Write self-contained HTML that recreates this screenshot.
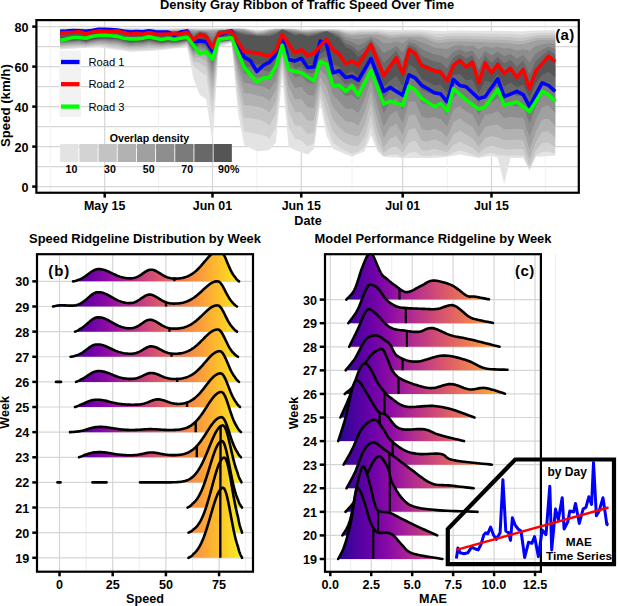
<!DOCTYPE html><html><head><meta charset="utf-8"><style>html,body{margin:0;padding:0;background:#fff;width:618px;height:606px;overflow:hidden}</style></head><body><svg width="618" height="606" viewBox="0 0 618 606" style="display:block">
<defs><linearGradient id="gb" gradientUnits="userSpaceOnUse" x1="50" y1="0" x2="245" y2="0"><stop offset="0.00" stop-color="#0d0887"/><stop offset="0.10" stop-color="#41049d"/><stop offset="0.20" stop-color="#6a00a8"/><stop offset="0.30" stop-color="#8f0da4"/><stop offset="0.40" stop-color="#b12a90"/><stop offset="0.50" stop-color="#cc4778"/><stop offset="0.60" stop-color="#e16462"/><stop offset="0.70" stop-color="#f2844b"/><stop offset="0.80" stop-color="#fca636"/><stop offset="0.90" stop-color="#fcce25"/><stop offset="1.00" stop-color="#f0f921"/></linearGradient><linearGradient id="gc" gradientUnits="userSpaceOnUse" x1="330" y1="0" x2="535" y2="0"><stop offset="0.00" stop-color="#0d0887"/><stop offset="0.10" stop-color="#41049d"/><stop offset="0.20" stop-color="#6a00a8"/><stop offset="0.30" stop-color="#8f0da4"/><stop offset="0.40" stop-color="#b12a90"/><stop offset="0.50" stop-color="#cc4778"/><stop offset="0.60" stop-color="#e16462"/><stop offset="0.70" stop-color="#f2844b"/><stop offset="0.80" stop-color="#fca636"/><stop offset="0.90" stop-color="#fcce25"/><stop offset="1.00" stop-color="#f0f921"/></linearGradient><clipPath id="ca"><rect x="36.4" y="20.1" width="542.4" height="172.65"/></clipPath><clipPath id="cb"><rect x="37.6" y="254.3" width="215.5" height="317.3"/></clipPath><clipPath id="cc"><rect x="325.4" y="254.3" width="215.4" height="317.2"/></clipPath></defs>
<rect width="618" height="606" fill="#fff"/>
<line x1="36.4" x2="578.8" y1="166.6" y2="166.6" stroke="#d6d6d6" stroke-width="1.2"/>
<line x1="36.4" x2="578.8" y1="126.6" y2="126.6" stroke="#d6d6d6" stroke-width="1.2"/>
<line x1="36.4" x2="578.8" y1="86.6" y2="86.6" stroke="#d6d6d6" stroke-width="1.2"/>
<line x1="36.4" x2="578.8" y1="46.599999999999994" y2="46.599999999999994" stroke="#d6d6d6" stroke-width="1.2"/>
<line x1="50.3" x2="50.3" y1="20.1" y2="192.75" stroke="#f0f0f0" stroke-width="0.9"/>
<line x1="158.5" x2="158.5" y1="20.1" y2="192.75" stroke="#f0f0f0" stroke-width="0.9"/>
<line x1="256.9" x2="256.9" y1="20.1" y2="192.75" stroke="#f0f0f0" stroke-width="0.9"/>
<line x1="352.1" x2="352.1" y1="20.1" y2="192.75" stroke="#f0f0f0" stroke-width="0.9"/>
<line x1="447.4" x2="447.4" y1="20.1" y2="192.75" stroke="#f0f0f0" stroke-width="0.9"/>
<line x1="545.3" x2="545.3" y1="20.1" y2="192.75" stroke="#f0f0f0" stroke-width="0.9"/>
<line x1="36.4" x2="578.8" y1="186.6" y2="186.6" stroke="#d6d6d6" stroke-width="1.2"/>
<line x1="36.4" x2="578.8" y1="146.6" y2="146.6" stroke="#d6d6d6" stroke-width="1.2"/>
<line x1="36.4" x2="578.8" y1="106.6" y2="106.6" stroke="#d6d6d6" stroke-width="1.2"/>
<line x1="36.4" x2="578.8" y1="66.6" y2="66.6" stroke="#d6d6d6" stroke-width="1.2"/>
<line x1="36.4" x2="578.8" y1="26.599999999999994" y2="26.599999999999994" stroke="#d6d6d6" stroke-width="1.2"/>
<line x1="104.72" x2="104.72" y1="20.1" y2="192.75" stroke="#d6d6d6" stroke-width="1.2"/>
<line x1="212.5" x2="212.5" y1="20.1" y2="192.75" stroke="#d6d6d6" stroke-width="1.2"/>
<line x1="301.26" x2="301.26" y1="20.1" y2="192.75" stroke="#d6d6d6" stroke-width="1.2"/>
<line x1="402.7" x2="402.7" y1="20.1" y2="192.75" stroke="#d6d6d6" stroke-width="1.2"/>
<line x1="491.46" x2="491.46" y1="20.1" y2="192.75" stroke="#d6d6d6" stroke-width="1.2"/>
<g clip-path="url(#ca)">
<path d="M60.2,28.33 L66.68,28.31 L73.02,28.3 L79.36,28.29 L85.7,28.25 L92.04,28.23 L98.38,27.8 L104.72,27.9 L111.06,28 L117.4,28.22 L123.74,28.22 L130.08,28.25 L136.42,28.33 L142.76,28.37 L149.1,28.37 L155.44,28.37 L161.78,28.39 L168.12,28.41 L174.46,28.36 L180.8,28.33 L187.14,28.33 L193.48,28.33 L199.82,28.35 L206.16,28.38 L212.5,28.36 L218.84,28.32 L225.18,28.31 L231.52,28.31 L237.86,28.31 L244.2,28.51 L250.54,29.1 L256.88,29.67 L263.22,29.5 L269.56,28.84 L275.9,28.52 L282.24,28.52 L288.58,28.52 L294.92,28.7 L301.26,29.12 L307.6,29.26 L313.94,29.03 L320.28,28.89 L326.62,28.89 L332.96,28.89 L339.3,29.1 L345.64,29.62 L351.98,29.82 L358.32,29.52 L364.66,29.32 L371,29.32 L377.34,29.32 L383.68,29.58 L390.02,29.95 L396.36,29.9 L402.7,29.74 L409.04,29.74 L415.38,29.74 L421.72,29.82 L428.06,30.22 L434.4,30.77 L440.74,30.9 L447.08,30.7 L453.42,30.59 L459.76,30.59 L466.1,30.59 L472.44,30.63 L478.78,30.71 L485.12,30.76 L491.46,30.79 L497.8,30.83 L504.14,30.88 L510.48,30.98 L516.82,31.14 L523.16,31.13 L529.5,30.8 L535.84,30.42 L542.18,30.27 L548.52,30.27 L555.2,30.27 L555.2,155.7 L548.52,156.07 L542.18,156.43 L535.84,156.8 L529.5,170.4 L523.16,158 L516.82,158 L510.48,158 L504.14,184 L497.8,158 L491.46,155.7 L485.12,156.85 L478.78,158 L472.44,156.87 L466.1,155.73 L459.76,154.6 L453.42,155.7 L447.08,156.8 L440.74,157.4 L434.4,158 L428.06,158 L421.72,158 L415.38,158 L409.04,158 L402.7,158 L396.36,157.6 L390.02,157.2 L383.68,156.8 L377.34,151.2 L371,135.3 L364.66,151.2 L358.32,154 L351.98,156.8 L345.64,154.17 L339.3,151.53 L332.96,148.9 L326.62,136 L320.28,103 L313.94,148.9 L307.6,154.6 L301.26,152.3 L294.92,150 L288.58,146.6 L282.24,76.5 L275.9,142.4 L269.56,150 L263.22,150.65 L256.88,151.3 L250.54,148.15 L244.2,145 L237.86,111.6 L231.52,42.6 L225.18,45.15 L218.84,47.7 L212.5,142.4 L206.16,98.9 L199.82,95 L193.48,78.4 L187.14,47.2 L180.8,47.88 L174.46,48.56 L168.12,49.24 L161.78,49.92 L155.44,50.6 L149.1,50.88 L142.76,51.15 L136.42,51.43 L130.08,51.7 L123.74,50.8 L117.4,49.9 L111.06,49 L104.72,48.1 L98.38,47.2 L92.04,47.58 L85.7,47.97 L79.36,48.35 L73.02,48.73 L66.68,49.12 L60.2,49.5Z" fill="#e3e3e3"/>
<path d="M60.2,28.83 L66.68,28.72 L73.02,28.64 L79.36,28.52 L85.7,28.64 L92.04,28.59 L98.38,28.03 L104.72,28.13 L111.06,28.23 L117.4,28.44 L123.74,28.55 L130.08,28.65 L136.42,28.85 L142.76,28.95 L149.1,28.76 L155.44,28.95 L161.78,29.01 L168.12,29.04 L174.46,28.93 L180.8,28.84 L187.14,28.62 L193.48,28.84 L199.82,28.9 L206.16,28.98 L212.5,28.93 L218.84,28.83 L225.18,28.71 L231.52,28.54 L237.86,28.53 L244.2,28.78 L250.54,29.68 L256.88,30.55 L263.22,30.28 L269.56,29.28 L275.9,28.79 L282.24,28.76 L288.58,28.79 L294.92,29.07 L301.26,29.71 L307.6,29.92 L313.94,29.56 L320.28,29.35 L326.62,29.35 L332.96,29.35 L339.3,29.76 L345.64,30.76 L351.98,31.3 L358.32,30.92 L364.66,30.69 L371,30.7 L377.34,30.7 L383.68,31.24 L390.02,32 L396.36,31.89 L402.7,31.57 L409.04,31.57 L415.38,31.57 L421.72,31.73 L428.06,32.54 L434.4,33.67 L440.74,33.94 L447.08,33.51 L453.42,33.3 L459.76,33.3 L466.1,33.3 L472.44,33.38 L478.78,33.53 L485.12,33.64 L491.46,33.7 L497.8,33.78 L504.14,33.89 L510.48,34.1 L516.82,34.43 L523.16,34.4 L529.5,33.73 L535.84,32.94 L542.18,32.65 L548.52,32.65 L555.2,32.65 L555.2,153.39 L548.52,151.69 L542.18,151.88 L535.84,155.26 L529.5,169.6 L523.16,155.62 L516.82,155.26 L510.48,155.72 L504.14,155.49 L497.8,155.11 L491.46,152.65 L485.12,154.34 L478.78,156.99 L472.44,154.44 L466.1,152.27 L459.76,150.18 L453.42,152.51 L447.08,155.94 L440.74,155.63 L434.4,155.36 L428.06,156.15 L421.72,156.07 L415.38,151.7 L409.04,152.71 L402.7,156.92 L396.36,154.23 L390.02,154.7 L383.68,156.25 L377.34,148.1 L371,126.25 L364.66,146.44 L358.32,151.94 L351.98,153.63 L345.64,150.97 L339.3,147.49 L332.96,142.45 L326.62,125.76 L320.28,97.9 L313.94,142.93 L307.6,146.19 L301.26,140.24 L294.92,138.84 L288.58,127.12 L282.24,66.79 L275.9,127.2 L269.56,138.54 L263.22,135.27 L256.88,133.88 L250.54,132.53 L244.2,131.36 L237.86,98.66 L231.52,41.89 L225.18,43.88 L218.84,45.83 L212.5,116.37 L206.16,75.81 L199.82,71.21 L193.48,66.32 L187.14,45.42 L180.8,46.96 L174.46,47.74 L168.12,48.23 L161.78,48.98 L155.44,49.41 L149.1,49.41 L142.76,49.9 L136.42,50.18 L130.08,50.52 L123.74,49.51 L117.4,48.38 L111.06,47.68 L104.72,46.83 L98.38,46.03 L92.04,46.59 L85.7,47.17 L79.36,47.24 L73.02,47.62 L66.68,48.04 L60.2,48.43Z" fill="#d3d3d3"/>
<path d="M60.2,29.32 L66.68,29.13 L73.02,28.98 L79.36,28.75 L85.7,29.03 L92.04,28.94 L98.38,28.25 L104.72,28.35 L111.06,28.45 L117.4,28.67 L123.74,28.89 L130.08,29.05 L136.42,29.36 L142.76,29.52 L149.1,29.16 L155.44,29.52 L161.78,29.62 L168.12,29.68 L174.46,29.5 L180.8,29.36 L187.14,28.91 L193.48,29.36 L199.82,29.45 L206.16,29.58 L212.5,29.51 L218.84,29.34 L225.18,29.1 L231.52,28.77 L237.86,28.75 L244.2,29.04 L250.54,30.26 L256.88,31.42 L263.22,31.07 L269.56,29.71 L275.9,29.06 L282.24,28.99 L288.58,29.06 L294.92,29.44 L301.26,30.29 L307.6,30.58 L313.94,30.1 L320.28,29.82 L326.62,29.82 L332.96,29.82 L339.3,30.41 L345.64,31.9 L351.98,32.79 L358.32,32.33 L364.66,32.06 L371,32.08 L377.34,32.08 L383.68,32.9 L390.02,34.04 L396.36,33.88 L402.7,33.39 L409.04,33.39 L415.38,33.39 L421.72,33.64 L428.06,34.86 L434.4,36.57 L440.74,36.98 L447.08,36.33 L453.42,36.01 L459.76,36.01 L466.1,36.01 L472.44,36.13 L478.78,36.36 L485.12,36.52 L491.46,36.61 L497.8,36.73 L504.14,36.9 L510.48,37.22 L516.82,37.72 L523.16,37.68 L529.5,36.65 L535.84,35.47 L542.18,35.02 L548.52,35.02 L555.2,35.02 L555.2,146.95 L548.52,142.68 L542.18,142.88 L535.84,150.15 L529.5,166 L523.16,149.31 L516.82,148.63 L510.48,149.45 L504.14,149.08 L497.8,147.68 L491.46,145.58 L485.12,147.73 L478.78,153.15 L472.44,147.87 L466.1,144.63 L459.76,141.36 L453.42,144.88 L447.08,152.42 L440.74,150.19 L434.4,148.75 L428.06,150.46 L421.72,150.14 L415.38,140.81 L409.04,142.33 L402.7,152.73 L396.36,146.35 L390.02,148.08 L383.68,153.37 L377.34,140.59 L371,114.63 L364.66,137.04 L358.32,145.91 L351.98,145.77 L345.64,143.4 L339.3,138.76 L332.96,131.83 L326.62,113.03 L320.28,91.01 L313.94,132.63 L307.6,133.96 L301.26,126.17 L294.92,125.55 L288.58,111.5 L282.24,60.91 L275.9,113.4 L269.56,125.54 L263.22,121.1 L256.88,119.35 L250.54,118.27 L244.2,117.73 L237.86,88.23 L231.52,41.42 L225.18,43.08 L218.84,44.7 L212.5,101.38 L206.16,66.98 L199.82,62.91 L193.48,61.28 L187.14,44.2 L180.8,45.94 L174.46,46.77 L168.12,47.04 L161.78,47.84 L155.44,48.01 L149.1,47.73 L142.76,48.42 L136.42,48.68 L130.08,49.07 L123.74,47.98 L117.4,46.67 L111.06,46.13 L104.72,45.34 L98.38,44.7 L92.04,45.4 L85.7,46.19 L79.36,45.95 L73.02,46.34 L66.68,46.76 L60.2,47.16Z" fill="#c3c3c3"/>
<path d="M60.2,29.81 L66.68,29.53 L73.02,29.32 L79.36,28.98 L85.7,29.43 L92.04,29.3 L98.38,28.48 L104.72,28.58 L111.06,28.68 L117.4,28.9 L123.74,29.23 L130.08,29.45 L136.42,29.88 L142.76,30.1 L149.1,29.55 L155.44,30.1 L161.78,30.24 L168.12,30.32 L174.46,30.07 L180.8,29.87 L187.14,29.2 L193.48,29.87 L199.82,30 L206.16,30.17 L212.5,30.08 L218.84,29.85 L225.18,29.5 L231.52,28.99 L237.86,28.98 L244.2,29.31 L250.54,30.84 L256.88,32.29 L263.22,31.85 L269.56,30.15 L275.9,29.34 L282.24,29.23 L288.58,29.34 L294.92,29.81 L301.26,30.88 L307.6,31.23 L313.94,30.64 L320.28,30.28 L326.62,30.28 L332.96,30.28 L339.3,31.07 L345.64,33.05 L351.98,34.28 L358.32,33.74 L364.66,33.44 L371,33.46 L377.34,33.46 L383.68,34.55 L390.02,36.08 L396.36,35.87 L402.7,35.21 L409.04,35.21 L415.38,35.21 L421.72,35.54 L428.06,37.18 L434.4,39.47 L440.74,40.01 L447.08,39.15 L453.42,38.72 L459.76,38.72 L466.1,38.72 L472.44,38.88 L478.78,39.19 L485.12,39.41 L491.46,39.52 L497.8,39.69 L504.14,39.9 L510.48,40.34 L516.82,41 L523.16,40.95 L529.5,39.58 L535.84,38 L542.18,37.4 L548.52,37.4 L555.2,37.4 L555.2,137.44 L548.52,131.22 L542.18,131.64 L535.84,141.87 L529.5,159.11 L523.16,140.18 L516.82,139.52 L510.48,140.21 L504.14,140.02 L497.8,137.15 L491.46,136.06 L485.12,138.22 L478.78,146.42 L472.44,138.3 L466.1,134.58 L459.76,130.3 L453.42,134.43 L447.08,146.02 L440.74,141.72 L434.4,139.49 L428.06,141.61 L421.72,140.92 L415.38,128.05 L409.04,129.41 L402.7,145.32 L396.36,135.7 L390.02,138.54 L383.68,147.35 L377.34,130.25 L371,102.66 L364.66,125.31 L358.32,136.75 L351.98,134.81 L345.64,133.08 L339.3,127.39 L332.96,119.66 L326.62,100.08 L320.28,83.76 L313.94,120.56 L307.6,120.67 L301.26,112.21 L294.92,112.25 L288.58,97.97 L282.24,56.24 L275.9,100.94 L269.56,112.78 L263.22,108.23 L256.88,106.61 L250.54,105.39 L244.2,104.99 L237.86,79.2 L231.52,41.04 L225.18,42.45 L218.84,43.81 L212.5,89.65 L206.16,60.71 L199.82,57.14 L193.48,57.64 L187.14,43.19 L180.8,44.96 L174.46,45.79 L168.12,45.85 L161.78,46.71 L155.44,46.62 L149.1,46.07 L142.76,46.95 L136.42,47.19 L130.08,47.61 L123.74,46.45 L117.4,44.99 L111.06,44.59 L104.72,43.86 L98.38,43.4 L92.04,44.21 L85.7,45.2 L79.36,44.67 L73.02,45.08 L66.68,45.49 L60.2,45.89Z" fill="#b2b2b2"/>
<path d="M60.2,30.3 L66.68,29.94 L73.02,29.66 L79.36,29.21 L85.7,29.82 L92.04,29.66 L98.38,28.71 L104.72,28.81 L111.06,28.91 L117.4,29.13 L123.74,29.57 L130.08,29.85 L136.42,30.4 L142.76,30.68 L149.1,29.94 L155.44,30.68 L161.78,30.85 L168.12,30.95 L174.46,30.63 L180.8,30.39 L187.14,29.48 L193.48,30.39 L199.82,30.55 L206.16,30.77 L212.5,30.65 L218.84,30.36 L225.18,29.89 L231.52,29.22 L237.86,29.2 L244.2,29.58 L250.54,31.41 L256.88,33.17 L263.22,32.64 L269.56,30.59 L275.9,29.61 L282.24,29.47 L288.58,29.61 L294.92,30.18 L301.26,31.46 L307.6,31.89 L313.94,31.17 L320.28,30.74 L326.62,30.74 L332.96,30.74 L339.3,31.73 L345.64,34.19 L351.98,35.76 L358.32,35.15 L364.66,34.81 L371,34.84 L377.34,34.84 L383.68,36.21 L390.02,38.13 L396.36,37.86 L402.7,37.04 L409.04,37.04 L415.38,37.04 L421.72,37.45 L428.06,39.5 L434.4,42.36 L440.74,43.05 L447.08,41.97 L453.42,41.43 L459.76,41.43 L466.1,41.43 L472.44,41.63 L478.78,42.02 L485.12,42.29 L491.46,42.44 L497.8,42.64 L504.14,42.91 L510.48,43.46 L516.82,44.29 L523.16,44.22 L529.5,42.51 L535.84,40.52 L542.18,39.77 L548.52,39.77 L555.2,39.77 L555.2,125.89 L548.52,118.56 L542.18,119.38 L535.84,131.23 L529.5,149.26 L523.16,129.27 L516.82,128.95 L510.48,129.03 L504.14,129.34 L497.8,124.7 L491.46,125.16 L485.12,126.88 L478.78,137.32 L472.44,126.79 L466.1,123.25 L459.76,118.2 L453.42,122.34 L447.08,137.16 L440.74,131.09 L434.4,128.63 L428.06,130.51 L421.72,129.36 L415.38,114.66 L409.04,115.35 L402.7,135.26 L396.36,123.47 L390.02,127.15 L383.68,138.24 L377.34,118.24 L371,91.06 L364.66,112.52 L358.32,125.46 L351.98,122.01 L345.64,121.19 L339.3,114.66 L332.96,107.06 L326.62,87.63 L320.28,76.64 L313.94,107.89 L307.6,107.37 L301.26,98.99 L294.92,99.6 L288.58,86.2 L282.24,52.38 L275.9,89.8 L269.56,100.79 L263.22,96.69 L256.88,95.43 L250.54,93.86 L244.2,93.36 L237.86,71.32 L231.52,40.73 L225.18,41.92 L218.84,43.08 L212.5,80.03 L206.16,55.88 L199.82,52.73 L193.48,54.79 L187.14,42.34 L180.8,44.04 L174.46,44.85 L168.12,44.73 L161.78,45.62 L155.44,45.3 L149.1,44.51 L142.76,45.55 L136.42,45.76 L130.08,46.21 L123.74,45 L117.4,43.42 L111.06,43.13 L104.72,42.45 L98.38,42.18 L92.04,43.07 L85.7,44.24 L79.36,43.46 L73.02,43.89 L66.68,44.28 L60.2,44.69Z" fill="#a0a0a0"/>
<path d="M60.2,30.5 L66.68,30.1 L73.02,29.8 L79.36,29.3 L85.7,30.2 L92.04,29.8 L98.38,28.8 L104.72,28.9 L111.06,29 L117.4,29.22 L123.74,29.77 L130.08,30.31 L136.42,30.66 L142.76,31.06 L149.1,30.1 L155.44,31.01 L161.78,31.21 L168.12,31.26 L174.46,30.97 L180.8,30.71 L187.14,29.6 L193.48,31.74 L199.82,30.97 L206.16,31.51 L212.5,33.26 L218.84,30.59 L225.18,30.05 L231.52,29.31 L237.86,29.9 L244.2,30.52 L250.54,32.26 L256.88,33.92 L263.22,33.51 L269.56,31.69 L275.9,30.49 L282.24,29.56 L288.58,30.15 L294.92,31.15 L301.26,32.17 L307.6,32.86 L313.94,32.07 L320.28,31.32 L326.62,30.98 L332.96,31.51 L339.3,33.03 L345.64,36.69 L351.98,38.58 L358.32,39.32 L364.66,38.14 L371,36.49 L377.34,39.08 L383.68,42.89 L390.02,43.14 L396.36,41.41 L402.7,43.32 L409.04,39.36 L415.38,40.02 L421.72,42.36 L428.06,44.65 L434.4,47.67 L440.74,48.5 L447.08,48.96 L453.42,45.95 L459.76,45.08 L466.1,46.18 L472.44,45.57 L478.78,49.34 L485.12,46.29 L491.46,48.07 L497.8,46.82 L504.14,48.61 L510.48,48.23 L516.82,50.51 L523.16,49.13 L529.5,50.77 L535.84,46.01 L542.18,44.13 L548.52,42.92 L555.2,43.8 L555.2,113.29 L548.52,105.62 L542.18,106.96 L535.84,119.15 L529.5,137.22 L523.16,117.48 L516.82,117.78 L510.48,116.86 L504.14,117.91 L497.8,111.36 L491.46,113.75 L485.12,114.65 L478.78,126.63 L472.44,114.33 L466.1,111.51 L459.76,105.92 L453.42,109.58 L447.08,126.56 L440.74,119.24 L434.4,117.07 L428.06,118.13 L421.72,116.45 L415.38,101.46 L409.04,101.13 L402.7,123.39 L396.36,110.65 L390.02,114.86 L383.68,126.66 L377.34,105.54 L371,80.24 L364.66,99.57 L358.32,112.99 L351.98,108.39 L345.64,108.68 L339.3,101.53 L332.96,94.75 L326.62,76.08 L320.28,69.95 L313.94,95.41 L307.6,94.68 L301.26,86.87 L294.92,87.95 L288.58,76 L282.24,49.15 L275.9,79.98 L269.56,89.83 L263.22,86.5 L256.88,85.69 L250.54,83.68 L244.2,82.96 L237.86,64.5 L231.52,40.46 L225.18,41.47 L218.84,42.46 L212.5,72.05 L206.16,52.02 L199.82,49.24 L193.48,52.5 L187.14,41.62 L180.8,43.2 L174.46,43.99 L168.12,43.69 L161.78,44.62 L155.44,44.09 L149.1,43.08 L142.76,44.27 L136.42,44.45 L130.08,44.91 L123.74,43.67 L117.4,41.98 L111.06,41.79 L104.72,41.17 L98.38,41.06 L92.04,42.03 L85.7,43.36 L79.36,42.35 L73.02,42.8 L66.68,43.17 L60.2,43.57Z" fill="#8e8e8e"/>
<path d="M60.2,30.5 L66.68,30.1 L73.02,29.8 L79.36,29.3 L85.7,30.56 L92.04,29.8 L98.38,28.8 L104.72,28.9 L111.06,29 L117.4,29.22 L123.74,29.88 L130.08,30.8 L136.42,30.74 L142.76,31.3 L149.1,30.1 L155.44,31.17 L161.78,31.41 L168.12,31.34 L174.46,31.14 L180.8,30.91 L187.14,29.6 L193.48,33.66 L199.82,31.31 L206.16,32.34 L212.5,37.24 L218.84,30.63 L225.18,30.05 L231.52,29.31 L237.86,30.93 L244.2,31.92 L250.54,33.28 L256.88,34.59 L263.22,34.44 L269.56,33.24 L275.9,31.77 L282.24,29.56 L288.58,30.88 L294.92,32.51 L301.26,32.96 L307.6,34.05 L313.94,33.2 L320.28,31.98 L326.62,31.05 L332.96,32.46 L339.3,34.75 L345.64,40.09 L351.98,42.29 L358.32,45.33 L364.66,42.78 L371,38.33 L377.34,45.22 L383.68,52.93 L390.02,50.12 L396.36,46.01 L402.7,52.58 L409.04,42 L415.38,43.78 L421.72,49.27 L428.06,51.68 L434.4,54.58 L440.74,55.57 L447.08,58.74 L453.42,51.66 L459.76,49.35 L466.1,52.29 L472.44,50.32 L478.78,59.66 L485.12,51.02 L491.46,55.51 L497.8,51.81 L504.14,56.11 L510.48,54.08 L516.82,58.67 L523.16,55.12 L529.5,62.58 L535.84,53.48 L542.18,49.8 L548.52,46.58 L555.2,48.94 L555.2,100.54 L548.52,93.14 L542.18,95.05 L535.84,106.54 L529.5,123.93 L523.16,105.63 L516.82,106.72 L510.48,104.55 L504.14,106.5 L497.8,98.03 L491.46,102.54 L485.12,102.37 L478.78,115.19 L472.44,101.76 L466.1,100.06 L459.76,94.12 L453.42,96.98 L447.08,115.07 L440.74,107.03 L434.4,105.56 L428.06,105.37 L421.72,103.16 L415.38,89.05 L409.04,87.51 L402.7,110.64 L396.36,98.02 L390.02,102.53 L383.68,113.51 L377.34,92.97 L371,70.47 L364.66,87.14 L358.32,100.26 L351.98,94.86 L345.64,96.33 L339.3,88.76 L332.96,83.27 L326.62,65.71 L320.28,63.86 L313.94,83.68 L307.6,83.04 L301.26,76.06 L294.92,77.54 L288.58,67.28 L282.24,46.47 L275.9,71.48 L269.56,80.1 L263.22,77.65 L256.88,77.33 L250.54,74.87 L244.2,73.85 L237.86,58.66 L231.52,40.23 L225.18,41.1 L218.84,41.95 L212.5,65.43 L206.16,48.92 L199.82,46.46 L193.48,50.65 L187.14,41.01 L180.8,42.46 L174.46,43.22 L168.12,42.77 L161.78,43.72 L155.44,43.01 L149.1,41.81 L142.76,43.12 L136.42,43.27 L130.08,43.75 L123.74,42.49 L117.4,40.71 L111.06,40.59 L104.72,40.02 L98.38,40.07 L92.04,41.09 L85.7,42.57 L79.36,41.36 L73.02,41.83 L66.68,42.18 L60.2,42.58Z" fill="#7b7b7b"/>
<path d="M60.2,30.5 L66.68,30.1 L73.02,29.8 L79.36,29.3 L85.7,30.93 L92.04,29.8 L98.38,28.8 L104.72,28.9 L111.06,29 L117.4,29.22 L123.74,29.99 L130.08,31.3 L136.42,30.82 L142.76,31.55 L149.1,30.1 L155.44,31.34 L161.78,31.6 L168.12,31.42 L174.46,31.32 L180.8,31.1 L187.14,29.6 L193.48,35.58 L199.82,31.66 L206.16,33.17 L212.5,41.22 L218.84,30.66 L225.18,30.05 L231.52,29.31 L237.86,31.95 L244.2,33.32 L250.54,34.3 L256.88,35.25 L263.22,35.37 L269.56,34.78 L275.9,33.05 L282.24,29.56 L288.58,31.61 L294.92,33.88 L301.26,33.75 L307.6,35.23 L313.94,34.34 L320.28,32.63 L326.62,31.13 L332.96,33.42 L339.3,36.47 L345.64,43.48 L351.98,46.01 L358.32,51.35 L364.66,47.43 L371,40.16 L377.34,51.36 L383.68,62.96 L390.02,57.11 L396.36,50.6 L402.7,61.84 L409.04,44.65 L415.38,47.54 L421.72,56.19 L428.06,58.72 L434.4,61.49 L440.74,62.63 L447.08,68.52 L453.42,57.38 L459.76,53.63 L466.1,58.39 L472.44,55.06 L478.78,69.98 L485.12,55.76 L491.46,62.96 L497.8,56.81 L504.14,63.6 L510.48,59.94 L516.82,66.84 L523.16,61.11 L529.5,74.39 L535.84,60.94 L542.18,55.48 L548.52,50.24 L555.2,54.07 L555.2,88.4 L548.52,81.68 L542.18,84.18 L535.84,94.27 L529.5,110.46 L523.16,94.42 L516.82,96.38 L510.48,92.85 L504.14,95.76 L497.8,85.48 L491.46,92.11 L485.12,90.76 L478.78,103.84 L472.44,89.84 L466.1,89.47 L459.76,83.34 L453.42,85.22 L447.08,103.57 L440.74,95.26 L434.4,94.75 L428.06,93.08 L421.72,90.36 L415.38,77.88 L409.04,75.08 L402.7,97.96 L396.36,86.26 L390.02,90.86 L383.68,99.87 L377.34,81.22 L371,61.95 L364.66,75.8 L358.32,88.07 L351.98,82.17 L345.64,84.82 L339.3,76.99 L332.96,72.99 L326.62,56.68 L320.28,58.53 L313.94,73.12 L307.6,72.75 L301.26,66.71 L294.92,68.51 L288.58,59.98 L282.24,44.26 L275.9,64.28 L269.56,71.71 L263.22,70.16 L256.88,70.31 L250.54,67.41 L244.2,66.09 L237.86,53.77 L231.52,40.05 L225.18,40.79 L218.84,41.53 L212.5,60.02 L206.16,46.44 L199.82,44.24 L193.48,49.17 L187.14,40.51 L180.8,41.83 L174.46,42.56 L168.12,41.97 L161.78,42.95 L155.44,42.08 L149.1,40.71 L142.76,42.13 L136.42,42.25 L130.08,42.74 L123.74,41.46 L117.4,39.61 L111.06,39.56 L104.72,39.03 L98.38,39.21 L92.04,40.28 L85.7,41.88 L79.36,40.51 L73.02,41 L66.68,41.32 L60.2,41.72Z" fill="#686868"/>
<path d="M60.2,30.5 L66.68,30.1 L73.02,29.8 L79.36,29.3 L85.7,31.3 L92.04,29.8 L98.38,28.8 L104.72,28.9 L111.06,29 L117.4,29.22 L123.74,30.1 L130.08,31.8 L136.42,30.9 L142.76,31.8 L149.1,30.1 L155.44,31.5 L161.78,31.8 L168.12,31.5 L174.46,31.5 L180.8,31.3 L187.14,29.6 L193.48,37.5 L199.82,32 L206.16,34 L212.5,45.2 L218.84,30.7 L225.18,30.05 L231.52,29.31 L237.86,32.98 L244.2,34.72 L250.54,35.33 L256.88,35.92 L263.22,36.3 L269.56,36.33 L275.9,34.33 L282.24,29.56 L288.58,32.34 L294.92,35.24 L301.26,34.54 L307.6,36.41 L313.94,35.47 L320.28,33.29 L326.62,31.2 L332.96,34.38 L339.3,38.19 L345.64,46.88 L351.98,49.72 L358.32,57.36 L364.66,52.07 L371,42 L377.34,57.5 L383.68,73 L390.02,64.1 L396.36,55.2 L402.7,71.1 L409.04,47.3 L415.38,51.3 L421.72,63.1 L428.06,65.75 L434.4,68.4 L440.74,69.7 L447.08,78.3 L453.42,63.1 L459.76,57.9 L466.1,64.5 L472.44,59.8 L478.78,80.3 L485.12,60.5 L491.46,70.4 L497.8,61.8 L504.14,71.1 L510.48,65.8 L516.82,75 L523.16,67.1 L529.5,86.2 L535.84,68.4 L542.18,61.15 L548.52,53.9 L555.2,59.2 L555.2,77.54 L548.52,71.72 L542.18,74.75 L535.84,83.12 L529.5,97.82 L523.16,84.44 L516.82,87.26 L510.48,82.4 L504.14,86.24 L497.8,74.34 L491.46,82.94 L485.12,80.44 L478.78,93.36 L472.44,79.22 L466.1,80.2 L459.76,73.98 L453.42,74.84 L447.08,92.88 L440.74,84.64 L434.4,85.18 L428.06,81.99 L421.72,78.8 L415.38,68.32 L409.04,64.32 L402.7,86.24 L396.36,75.92 L390.02,80.48 L383.68,86.86 L377.34,70.84 L371,54.82 L364.66,65.97 L358.32,77.12 L351.98,70.94 L345.64,74.68 L339.3,66.7 L332.96,64.22 L326.62,49.14 L320.28,54.05 L313.94,64.08 L307.6,64.06 L301.26,58.94 L294.92,61 L288.58,54.05 L282.24,42.5 L275.9,58.4 L269.56,64.74 L263.22,64.03 L256.88,64.6 L250.54,61.31 L244.2,59.7 L237.86,49.8 L231.52,39.9 L225.18,40.55 L218.84,41.2 L212.5,55.7 L206.16,44.5 L199.82,42.5 L193.48,48 L187.14,40.1 L180.8,41.3 L174.46,42 L168.12,41.3 L161.78,42.3 L155.44,41.3 L149.1,39.8 L142.76,41.3 L136.42,41.4 L130.08,41.9 L123.74,40.6 L117.4,38.7 L111.06,38.7 L104.72,38.2 L98.38,38.5 L92.04,39.6 L85.7,41.3 L79.36,39.8 L73.02,40.3 L66.68,40.6 L60.2,41Z" fill="#555555"/>
</g>
<rect x="59.5" y="50.5" width="21.5" height="66.5" fill="#f2f2f2"/>
<line x1="61" x2="79.5" y1="62" y2="62" stroke="#0000ff" stroke-width="4.3"/>
<text x="88.5" y="66" font-family='"Liberation Sans", sans-serif' font-size="11.2" fill="#000">Road 1</text>
<line x1="61" x2="79.5" y1="84.2" y2="84.2" stroke="#ff0000" stroke-width="4.3"/>
<text x="88.5" y="88.2" font-family='"Liberation Sans", sans-serif' font-size="11.2" fill="#000">Road 2</text>
<line x1="61" x2="79.5" y1="106.6" y2="106.6" stroke="#00ff00" stroke-width="4.3"/>
<text x="88.5" y="110.6" font-family='"Liberation Sans", sans-serif' font-size="11.2" fill="#000">Road 3</text>
<path d="M60.2,31.2 L66.68,31 L73.02,30.6 L79.36,30.8 L85.7,31.2 L92.04,30.5 L98.38,29.3 L104.72,29.4 L111.06,29.5 L117.4,30 L123.74,31.2 L130.08,32.1 L136.42,31.5 L142.76,31.8 L149.1,30.9 L155.44,31.8 L161.78,32 L168.12,32 L174.46,35.5 L180.8,32 L187.14,30.9 L193.48,41.4 L199.82,40.9 L206.16,41.8 L212.5,51 L218.84,35.2 L225.18,33.2 L231.52,31.2 L237.86,44.1 L244.2,57 L250.54,60.9 L256.88,71.5 L263.22,65.5 L269.56,62.2 L275.9,54.3 L282.24,38.5 L288.58,59.6 L294.92,60.9 L301.26,58.3 L307.6,67.5 L313.94,66.9 L320.28,41.1 L326.62,43.8 L332.96,72.8 L339.3,70.8 L345.64,77.4 L351.98,76.2 L358.32,80.2 L364.66,69.3 L371,58.4 L377.34,74.9 L383.68,91.4 L390.02,87.4 L396.36,91.35 L402.7,95.3 L409.04,74.9 L415.38,78.2 L421.72,85.4 L428.06,89.05 L434.4,92.7 L440.74,94 L447.08,102 L453.42,79.5 L459.76,85.4 L466.1,86.8 L472.44,92.7 L478.78,98.6 L485.12,96.7 L491.46,87.75 L497.8,78.8 L504.14,96.7 L510.48,94.05 L516.82,91.4 L523.16,94.7 L529.5,106.5 L535.84,94.65 L542.18,82.8 L548.52,85.4 L555.2,91.4" fill="none" stroke="#0000ff" stroke-width="3.6" stroke-linejoin="round" stroke-linecap="butt" clip-path="url(#ca)"/>
<path d="M60.2,33 L66.68,32.6 L73.02,32.3 L79.36,31.8 L85.7,33.8 L92.04,32.3 L98.38,30.9 L104.72,31.2 L111.06,31.5 L117.4,30.7 L123.74,32.6 L130.08,34.3 L136.42,33.4 L142.76,34.3 L149.1,32.6 L155.44,34 L161.78,34.3 L168.12,34 L174.46,34 L180.8,33.8 L187.14,32.1 L193.48,40 L199.82,34.5 L206.16,36.5 L212.5,47.7 L218.84,33.2 L225.18,32.55 L231.52,31.9 L237.86,41.8 L244.2,51.7 L250.54,52.35 L256.88,53 L263.22,54.65 L269.56,56.3 L275.9,50.4 L282.24,34.5 L288.58,43.75 L294.92,53 L301.26,49.7 L307.6,55.6 L313.94,53 L320.28,46.05 L326.62,39.1 L332.96,49.7 L339.3,54.3 L345.64,63.6 L351.98,60.9 L358.32,65 L364.66,54.75 L371,44.5 L377.34,60 L383.68,75.5 L390.02,66.6 L396.36,57.7 L402.7,73.6 L409.04,49.8 L415.38,53.8 L421.72,65.6 L428.06,68.25 L434.4,70.9 L440.74,72.2 L447.08,80.8 L453.42,65.6 L459.76,60.4 L466.1,67 L472.44,62.3 L478.78,82.8 L485.12,63 L491.46,72.9 L497.8,64.3 L504.14,73.6 L510.48,68.3 L516.82,77.5 L523.16,69.6 L529.5,88.7 L535.84,70.9 L542.18,63.65 L548.52,56.4 L555.2,61.7" fill="none" stroke="#ff0000" stroke-width="3.6" stroke-linejoin="round" stroke-linecap="butt" clip-path="url(#ca)"/>
<path d="M60.2,40.6 L66.68,38.9 L73.02,37.5 L79.36,37.5 L85.7,38.3 L92.04,36.6 L98.38,35.5 L104.72,35.2 L111.06,35.7 L117.4,36.4 L123.74,38.3 L130.08,38.9 L136.42,38.9 L142.76,38.3 L149.1,36.8 L155.44,38.3 L161.78,39.4 L168.12,38.3 L174.46,39.4 L180.8,38.3 L187.14,37.2 L193.48,45.45 L199.82,53.7 L206.16,51.7 L212.5,59 L218.84,39.1 L225.18,38.45 L231.52,37.8 L237.86,52.65 L244.2,67.5 L250.54,74.75 L256.88,82 L263.22,78.1 L269.56,77.4 L275.9,66.2 L282.24,45.1 L288.58,69.5 L294.92,71.5 L301.26,72.8 L307.6,76.75 L313.94,80.7 L320.28,61.6 L326.62,64.2 L332.96,86 L339.3,85.3 L345.64,91.3 L351.98,86 L358.32,95.3 L364.66,82.8 L371,70.3 L377.34,87.1 L383.68,103.9 L390.02,101.3 L396.36,103.25 L402.7,105.2 L409.04,86.1 L415.38,90.1 L421.72,98.6 L428.06,102.6 L434.4,106.6 L440.74,103.3 L447.08,111 L453.42,88.7 L459.76,94.35 L466.1,100 L472.44,104.6 L478.78,109.2 L485.12,106.6 L491.46,98 L497.8,89.4 L504.14,105.2 L510.48,103.55 L516.82,101.9 L523.16,106.7 L529.5,111.5 L535.84,101.45 L542.18,91.4 L548.52,94.7 L555.2,101.3" fill="none" stroke="#00ff00" stroke-width="3.6" stroke-linejoin="round" stroke-linecap="butt" clip-path="url(#ca)"/>
<text x="149.5" y="141.5" text-anchor="middle" font-family='"Liberation Sans", sans-serif' font-weight="bold" font-size="10.6">Overlap density</text>
<rect x="60.20" y="144" width="18.3" height="18" fill="#e3e3e3"/>
<rect x="79.37" y="144" width="18.3" height="18" fill="#d3d3d3"/>
<rect x="98.54" y="144" width="18.3" height="18" fill="#c3c3c3"/>
<rect x="117.71" y="144" width="18.3" height="18" fill="#b2b2b2"/>
<rect x="136.88" y="144" width="18.3" height="18" fill="#a0a0a0"/>
<rect x="156.05" y="144" width="18.3" height="18" fill="#8e8e8e"/>
<rect x="175.22" y="144" width="18.3" height="18" fill="#7b7b7b"/>
<rect x="194.39" y="144" width="18.3" height="18" fill="#686868"/>
<rect x="213.56" y="144" width="18.3" height="18" fill="#555555"/>
<text x="71.4" y="172.8" text-anchor="middle" font-family='"Liberation Sans", sans-serif' font-weight="bold" font-size="10.6">10</text>
<text x="110" y="172.8" text-anchor="middle" font-family='"Liberation Sans", sans-serif' font-weight="bold" font-size="10.6">30</text>
<text x="148.7" y="172.8" text-anchor="middle" font-family='"Liberation Sans", sans-serif' font-weight="bold" font-size="10.6">50</text>
<text x="187.2" y="172.8" text-anchor="middle" font-family='"Liberation Sans", sans-serif' font-weight="bold" font-size="10.6">70</text>
<text x="228.7" y="172.8" text-anchor="middle" font-family='"Liberation Sans", sans-serif' font-weight="bold" font-size="10.6">90%</text>
<rect x="36.4" y="20.1" width="542.4" height="172.65" fill="none" stroke="#000" stroke-width="2.2"/>
<line x1="32.2" x2="36.4" y1="186.6" y2="186.6" stroke="#000" stroke-width="2.5"/>
<text x="28.4" y="191.6" text-anchor="end" font-family='"Liberation Sans", sans-serif' font-weight="bold" font-size="12.6">0</text>
<line x1="32.2" x2="36.4" y1="146.6" y2="146.6" stroke="#000" stroke-width="2.5"/>
<text x="28.4" y="151.6" text-anchor="end" font-family='"Liberation Sans", sans-serif' font-weight="bold" font-size="12.6">20</text>
<line x1="32.2" x2="36.4" y1="106.6" y2="106.6" stroke="#000" stroke-width="2.5"/>
<text x="28.4" y="111.6" text-anchor="end" font-family='"Liberation Sans", sans-serif' font-weight="bold" font-size="12.6">40</text>
<line x1="32.2" x2="36.4" y1="66.6" y2="66.6" stroke="#000" stroke-width="2.5"/>
<text x="28.4" y="71.6" text-anchor="end" font-family='"Liberation Sans", sans-serif' font-weight="bold" font-size="12.6">60</text>
<line x1="32.2" x2="36.4" y1="26.599999999999994" y2="26.599999999999994" stroke="#000" stroke-width="2.5"/>
<text x="28.4" y="31.599999999999994" text-anchor="end" font-family='"Liberation Sans", sans-serif' font-weight="bold" font-size="12.6">80</text>
<line x1="104.72" x2="104.72" y1="192.75" y2="197.6" stroke="#000" stroke-width="2.5"/>
<text x="104.72" y="209.9" text-anchor="middle" font-family='"Liberation Sans", sans-serif' font-weight="bold" font-size="12.4">May 15</text>
<line x1="212.5" x2="212.5" y1="192.75" y2="197.6" stroke="#000" stroke-width="2.5"/>
<text x="212.5" y="209.9" text-anchor="middle" font-family='"Liberation Sans", sans-serif' font-weight="bold" font-size="12.4">Jun 01</text>
<line x1="301.26" x2="301.26" y1="192.75" y2="197.6" stroke="#000" stroke-width="2.5"/>
<text x="301.26" y="209.9" text-anchor="middle" font-family='"Liberation Sans", sans-serif' font-weight="bold" font-size="12.4">Jun 15</text>
<line x1="402.7" x2="402.7" y1="192.75" y2="197.6" stroke="#000" stroke-width="2.5"/>
<text x="402.7" y="209.9" text-anchor="middle" font-family='"Liberation Sans", sans-serif' font-weight="bold" font-size="12.4">Jul 01</text>
<line x1="491.46" x2="491.46" y1="192.75" y2="197.6" stroke="#000" stroke-width="2.5"/>
<text x="491.46" y="209.9" text-anchor="middle" font-family='"Liberation Sans", sans-serif' font-weight="bold" font-size="12.4">Jul 15</text>
<text x="308" y="224.8" text-anchor="middle" font-family='"Liberation Sans", sans-serif' font-weight="bold" font-size="12.6">Date</text>
<text transform="translate(9.6,105.6) rotate(-90)" text-anchor="middle" font-family='"Liberation Sans", sans-serif' font-weight="bold" font-size="13.2">Speed (km/h)</text>
<text x="307" y="8.5" text-anchor="middle" font-family='"Liberation Sans", sans-serif' font-weight="bold" font-size="12.9">Density Gray Ribbon of Traffic Speed Over Time</text>
<text x="555.2" y="40" font-family='"Liberation Sans", sans-serif' font-weight="bold" font-size="15" letter-spacing="0.4">(a)</text>
<line x1="86.10" x2="86.10" y1="254.2" y2="571.7" stroke="#e9e9e9" stroke-width="0.8"/>
<line x1="139.30" x2="139.30" y1="254.2" y2="571.7" stroke="#e9e9e9" stroke-width="0.8"/>
<line x1="192.50" x2="192.50" y1="254.2" y2="571.7" stroke="#e9e9e9" stroke-width="0.8"/>
<line x1="245.70" x2="245.70" y1="254.2" y2="571.7" stroke="#e9e9e9" stroke-width="0.8"/>
<line x1="59.50" x2="59.50" y1="254.2" y2="571.7" stroke="#d6d6d6" stroke-width="1.2"/>
<line x1="112.70" x2="112.70" y1="254.2" y2="571.7" stroke="#d6d6d6" stroke-width="1.2"/>
<line x1="165.90" x2="165.90" y1="254.2" y2="571.7" stroke="#d6d6d6" stroke-width="1.2"/>
<line x1="219.10" x2="219.10" y1="254.2" y2="571.7" stroke="#d6d6d6" stroke-width="1.2"/>
<line x1="37.0" x2="253.0" y1="557.80" y2="557.80" stroke="#d6d6d6" stroke-width="1.2"/>
<line x1="37.0" x2="253.0" y1="532.67" y2="532.67" stroke="#d6d6d6" stroke-width="1.2"/>
<line x1="37.0" x2="253.0" y1="507.54" y2="507.54" stroke="#d6d6d6" stroke-width="1.2"/>
<line x1="37.0" x2="253.0" y1="482.41" y2="482.41" stroke="#d6d6d6" stroke-width="1.2"/>
<line x1="37.0" x2="253.0" y1="457.28" y2="457.28" stroke="#d6d6d6" stroke-width="1.2"/>
<line x1="37.0" x2="253.0" y1="432.15" y2="432.15" stroke="#d6d6d6" stroke-width="1.2"/>
<line x1="37.0" x2="253.0" y1="407.02" y2="407.02" stroke="#d6d6d6" stroke-width="1.2"/>
<line x1="37.0" x2="253.0" y1="381.89" y2="381.89" stroke="#d6d6d6" stroke-width="1.2"/>
<line x1="37.0" x2="253.0" y1="356.76" y2="356.76" stroke="#d6d6d6" stroke-width="1.2"/>
<line x1="37.0" x2="253.0" y1="331.63" y2="331.63" stroke="#d6d6d6" stroke-width="1.2"/>
<line x1="37.0" x2="253.0" y1="306.50" y2="306.50" stroke="#d6d6d6" stroke-width="1.2"/>
<line x1="37.0" x2="253.0" y1="281.37" y2="281.37" stroke="#d6d6d6" stroke-width="1.2"/>
<g clip-path="url(#cb)">
<path d="M73,281.37 L73,281.37 L74.04,281.18 L75.09,280.98 L76.13,280.7 L77.18,280.33 L78.22,279.88 L79.26,279.52 L80.31,279.1 L81.35,278.62 L82.4,278.07 L83.44,277.47 L84.48,276.8 L85.53,276.09 L86.57,275.33 L87.62,274.55 L88.66,273.75 L89.7,272.97 L90.75,272.21 L91.79,271.49 L92.84,270.84 L93.88,270.28 L94.92,269.82 L95.97,269.47 L97.01,269.25 L98.06,269.15 L99.1,269.12 L100.14,269.15 L101.19,269.26 L102.23,269.43 L103.28,269.66 L104.32,269.95 L105.36,270.29 L106.41,270.68 L107.45,271.1 L108.5,271.56 L109.54,272.05 L110.58,272.55 L111.63,273.06 L112.67,273.56 L113.72,274.06 L114.76,274.55 L115.81,275.02 L116.85,275.47 L117.89,275.89 L118.94,276.28 L119.98,276.64 L121.03,276.97 L122.07,277.26 L123.11,277.53 L124.16,277.75 L125.2,277.95 L126.25,278.11 L127.29,278.23 L128.33,278.32 L129.38,278.36 L130.42,278.36 L131.47,278.32 L132.51,278.21 L133.55,278.05 L134.6,277.82 L135.64,277.51 L136.69,277.13 L137.73,276.68 L138.77,276.14 L139.82,275.54 L140.86,274.87 L141.91,274.16 L142.95,273.42 L143.99,272.68 L145.04,271.96 L146.08,271.3 L147.13,270.72 L148.17,270.24 L149.21,269.9 L150.26,269.71 L151.3,269.68 L152.35,269.78 L153.39,270 L154.43,270.34 L155.48,270.78 L156.52,271.3 L157.57,271.89 L158.61,272.53 L159.65,273.19 L160.7,273.86 L161.74,274.51 L162.79,275.14 L163.83,275.72 L164.87,276.26 L165.92,276.74 L166.96,277.17 L168.01,277.53 L169.05,277.84 L170.09,278.08 L171.14,278.28 L172.18,278.43 L173.23,278.53 L174.27,278.59 L175.31,278.61 L176.36,278.6 L177.4,278.56 L178.45,278.49 L179.49,278.38 L180.53,278.24 L181.58,278.07 L182.62,277.87 L183.67,277.62 L184.71,277.34 L185.75,277.01 L186.8,276.64 L187.84,276.22 L188.89,275.74 L189.93,275.21 L190.97,274.62 L192.02,273.97 L193.06,273.26 L194.11,272.49 L195.15,271.64 L196.19,270.74 L197.24,269.78 L198.28,268.75 L199.33,267.67 L200.37,266.55 L201.42,265.38 L202.46,264.18 L203.5,262.95 L204.55,261.71 L205.59,260.47 L206.64,259.24 L207.68,258.04 L208.72,256.87 L209.77,255.75 L210.81,254.71 L211.86,253.74 L212.9,252.86 L213.94,252.1 L214.99,251.45 L216.03,250.93 L217.08,250.54 L218.12,250.29 L219.16,250.19 L220.21,250.33 L221.25,251 L222.3,252.17 L223.34,253.79 L224.38,255.79 L225.43,258.06 L226.47,260.5 L227.52,263.02 L228.56,265.52 L229.6,267.92 L230.65,270.16 L231.69,272.19 L232.74,273.99 L233.78,275.54 L234.82,276.84 L235.87,278.39 L236.91,279.62 L237.96,280.52 L239,281.37 L239,281.37Z" fill="url(#gb)"/>
<path d="M73,281.37 L74.04,281.18 L75.09,280.98 L76.13,280.7 L77.18,280.33 L78.22,279.88 L79.26,279.52 L80.31,279.1 L81.35,278.62 L82.4,278.07 L83.44,277.47 L84.48,276.8 L85.53,276.09 L86.57,275.33 L87.62,274.55 L88.66,273.75 L89.7,272.97 L90.75,272.21 L91.79,271.49 L92.84,270.84 L93.88,270.28 L94.92,269.82 L95.97,269.47 L97.01,269.25 L98.06,269.15 L99.1,269.12 L100.14,269.15 L101.19,269.26 L102.23,269.43 L103.28,269.66 L104.32,269.95 L105.36,270.29 L106.41,270.68 L107.45,271.1 L108.5,271.56 L109.54,272.05 L110.58,272.55 L111.63,273.06 L112.67,273.56 L113.72,274.06 L114.76,274.55 L115.81,275.02 L116.85,275.47 L117.89,275.89 L118.94,276.28 L119.98,276.64 L121.03,276.97 L122.07,277.26 L123.11,277.53 L124.16,277.75 L125.2,277.95 L126.25,278.11 L127.29,278.23 L128.33,278.32 L129.38,278.36 L130.42,278.36 L131.47,278.32 L132.51,278.21 L133.55,278.05 L134.6,277.82 L135.64,277.51 L136.69,277.13 L137.73,276.68 L138.77,276.14 L139.82,275.54 L140.86,274.87 L141.91,274.16 L142.95,273.42 L143.99,272.68 L145.04,271.96 L146.08,271.3 L147.13,270.72 L148.17,270.24 L149.21,269.9 L150.26,269.71 L151.3,269.68 L152.35,269.78 L153.39,270 L154.43,270.34 L155.48,270.78 L156.52,271.3 L157.57,271.89 L158.61,272.53 L159.65,273.19 L160.7,273.86 L161.74,274.51 L162.79,275.14 L163.83,275.72 L164.87,276.26 L165.92,276.74 L166.96,277.17 L168.01,277.53 L169.05,277.84 L170.09,278.08 L171.14,278.28 L172.18,278.43 L173.23,278.53 L174.27,278.59 L175.31,278.61 L176.36,278.6 L177.4,278.56 L178.45,278.49 L179.49,278.38 L180.53,278.24 L181.58,278.07 L182.62,277.87 L183.67,277.62 L184.71,277.34 L185.75,277.01 L186.8,276.64 L187.84,276.22 L188.89,275.74 L189.93,275.21 L190.97,274.62 L192.02,273.97 L193.06,273.26 L194.11,272.49 L195.15,271.64 L196.19,270.74 L197.24,269.78 L198.28,268.75 L199.33,267.67 L200.37,266.55 L201.42,265.38 L202.46,264.18 L203.5,262.95 L204.55,261.71 L205.59,260.47 L206.64,259.24 L207.68,258.04 L208.72,256.87 L209.77,255.75 L210.81,254.71 L211.86,253.74 L212.9,252.86 L213.94,252.1 L214.99,251.45 L216.03,250.93 L217.08,250.54 L218.12,250.29 L219.16,250.19 L220.21,250.33 L221.25,251 L222.3,252.17 L223.34,253.79 L224.38,255.79 L225.43,258.06 L226.47,260.5 L227.52,263.02 L228.56,265.52 L229.6,267.92 L230.65,270.16 L231.69,272.19 L232.74,273.99 L233.78,275.54 L234.82,276.84 L235.87,278.39 L236.91,279.62 L237.96,280.52 L239,281.37" fill="none" stroke="#000" stroke-width="2.6" stroke-linejoin="round" stroke-linecap="round"/>
<line x1="174.4" x2="174.4" y1="281.37" y2="277.27" stroke="#000" stroke-width="2.4"/>
<path d="M53,306.5 L53,306.5 L54.16,306.27 L55.31,306.06 L56.47,305.82 L57.63,305.56 L58.79,305.42 L59.94,305.34 L61.1,305.3 L62.26,305.28 L63.42,305.3 L64.57,305.34 L65.73,305.4 L66.89,305.47 L68.04,305.55 L69.2,305.61 L70.36,305.66 L71.52,305.67 L72.67,305.63 L73.83,305.55 L74.99,305.4 L76.14,305.17 L77.3,304.86 L78.46,304.47 L79.62,303.98 L80.77,303.4 L81.93,302.72 L83.09,301.95 L84.25,301.09 L85.4,300.15 L86.56,299.17 L87.72,298.14 L88.87,297.12 L90.03,296.11 L91.19,295.16 L92.35,294.3 L93.5,293.56 L94.66,292.96 L95.82,292.53 L96.97,292.28 L98.13,292.19 L99.29,292.2 L100.45,292.3 L101.6,292.5 L102.76,292.79 L103.92,293.17 L105.08,293.62 L106.23,294.14 L107.39,294.71 L108.55,295.33 L109.7,295.97 L110.86,296.63 L112.02,297.3 L113.18,297.96 L114.33,298.6 L115.49,299.21 L116.65,299.79 L117.81,300.34 L118.96,300.84 L120.12,301.29 L121.28,301.69 L122.43,302.05 L123.59,302.36 L124.75,302.61 L125.91,302.82 L127.06,302.96 L128.22,303.05 L129.38,303.08 L130.53,303.03 L131.69,302.91 L132.85,302.7 L134.01,302.4 L135.16,302.01 L136.32,301.51 L137.48,300.92 L138.64,300.24 L139.79,299.49 L140.95,298.69 L142.11,297.87 L143.26,297.07 L144.42,296.32 L145.58,295.66 L146.74,295.14 L147.89,294.79 L149.05,294.61 L150.21,294.63 L151.36,294.8 L152.52,295.12 L153.68,295.57 L154.84,296.14 L155.99,296.78 L157.15,297.48 L158.31,298.22 L159.47,298.95 L160.62,299.67 L161.78,300.35 L162.94,300.97 L164.09,301.53 L165.25,302.02 L166.41,302.44 L167.57,302.78 L168.72,303.05 L169.88,303.26 L171.04,303.42 L172.19,303.52 L173.35,303.58 L174.51,303.59 L175.67,303.57 L176.82,303.51 L177.98,303.42 L179.14,303.29 L180.3,303.13 L181.45,302.93 L182.61,302.69 L183.77,302.41 L184.92,302.08 L186.08,301.71 L187.24,301.28 L188.4,300.8 L189.55,300.26 L190.71,299.66 L191.87,299 L193.03,298.27 L194.18,297.49 L195.34,296.65 L196.5,295.75 L197.65,294.8 L198.81,293.8 L199.97,292.77 L201.13,291.71 L202.28,290.63 L203.44,289.54 L204.6,288.47 L205.75,287.41 L206.91,286.39 L208.07,285.43 L209.23,284.53 L210.38,283.72 L211.54,283 L212.7,282.39 L213.86,281.91 L215.01,281.55 L216.17,281.33 L217.33,281.26 L218.48,281.44 L219.64,282.15 L220.8,283.35 L221.96,284.96 L223.11,286.9 L224.27,289.05 L225.43,291.29 L226.58,293.54 L227.74,295.69 L228.9,297.68 L230.06,299.46 L231.21,301 L232.37,302.3 L233.53,303.61 L234.69,304.84 L235.84,305.72 L237,306.5 L237,306.5Z" fill="url(#gb)"/>
<path d="M53,306.5 L54.16,306.27 L55.31,306.06 L56.47,305.82 L57.63,305.56 L58.79,305.42 L59.94,305.34 L61.1,305.3 L62.26,305.28 L63.42,305.3 L64.57,305.34 L65.73,305.4 L66.89,305.47 L68.04,305.55 L69.2,305.61 L70.36,305.66 L71.52,305.67 L72.67,305.63 L73.83,305.55 L74.99,305.4 L76.14,305.17 L77.3,304.86 L78.46,304.47 L79.62,303.98 L80.77,303.4 L81.93,302.72 L83.09,301.95 L84.25,301.09 L85.4,300.15 L86.56,299.17 L87.72,298.14 L88.87,297.12 L90.03,296.11 L91.19,295.16 L92.35,294.3 L93.5,293.56 L94.66,292.96 L95.82,292.53 L96.97,292.28 L98.13,292.19 L99.29,292.2 L100.45,292.3 L101.6,292.5 L102.76,292.79 L103.92,293.17 L105.08,293.62 L106.23,294.14 L107.39,294.71 L108.55,295.33 L109.7,295.97 L110.86,296.63 L112.02,297.3 L113.18,297.96 L114.33,298.6 L115.49,299.21 L116.65,299.79 L117.81,300.34 L118.96,300.84 L120.12,301.29 L121.28,301.69 L122.43,302.05 L123.59,302.36 L124.75,302.61 L125.91,302.82 L127.06,302.96 L128.22,303.05 L129.38,303.08 L130.53,303.03 L131.69,302.91 L132.85,302.7 L134.01,302.4 L135.16,302.01 L136.32,301.51 L137.48,300.92 L138.64,300.24 L139.79,299.49 L140.95,298.69 L142.11,297.87 L143.26,297.07 L144.42,296.32 L145.58,295.66 L146.74,295.14 L147.89,294.79 L149.05,294.61 L150.21,294.63 L151.36,294.8 L152.52,295.12 L153.68,295.57 L154.84,296.14 L155.99,296.78 L157.15,297.48 L158.31,298.22 L159.47,298.95 L160.62,299.67 L161.78,300.35 L162.94,300.97 L164.09,301.53 L165.25,302.02 L166.41,302.44 L167.57,302.78 L168.72,303.05 L169.88,303.26 L171.04,303.42 L172.19,303.52 L173.35,303.58 L174.51,303.59 L175.67,303.57 L176.82,303.51 L177.98,303.42 L179.14,303.29 L180.3,303.13 L181.45,302.93 L182.61,302.69 L183.77,302.41 L184.92,302.08 L186.08,301.71 L187.24,301.28 L188.4,300.8 L189.55,300.26 L190.71,299.66 L191.87,299 L193.03,298.27 L194.18,297.49 L195.34,296.65 L196.5,295.75 L197.65,294.8 L198.81,293.8 L199.97,292.77 L201.13,291.71 L202.28,290.63 L203.44,289.54 L204.6,288.47 L205.75,287.41 L206.91,286.39 L208.07,285.43 L209.23,284.53 L210.38,283.72 L211.54,283 L212.7,282.39 L213.86,281.91 L215.01,281.55 L216.17,281.33 L217.33,281.26 L218.48,281.44 L219.64,282.15 L220.8,283.35 L221.96,284.96 L223.11,286.9 L224.27,289.05 L225.43,291.29 L226.58,293.54 L227.74,295.69 L228.9,297.68 L230.06,299.46 L231.21,301 L232.37,302.3 L233.53,303.61 L234.69,304.84 L235.84,305.72 L237,306.5" fill="none" stroke="#000" stroke-width="2.6" stroke-linejoin="round" stroke-linecap="round"/>
<line x1="166" x2="166" y1="306.50" y2="301.69" stroke="#000" stroke-width="2.4"/>
<path d="M75,331.63 L75,331.63 L76.02,331.26 L77.04,330.86 L78.06,330.36 L79.08,329.71 L80.09,328.93 L81.11,328.37 L82.13,327.74 L83.15,327.04 L84.17,326.28 L85.19,325.47 L86.21,324.6 L87.23,323.71 L88.25,322.81 L89.26,321.9 L90.28,321.03 L91.3,320.21 L92.32,319.45 L93.34,318.79 L94.36,318.23 L95.38,317.81 L96.4,317.51 L97.42,317.37 L98.43,317.31 L99.45,317.34 L100.47,317.44 L101.49,317.61 L102.51,317.85 L103.53,318.16 L104.55,318.54 L105.57,318.96 L106.58,319.44 L107.6,319.95 L108.62,320.5 L109.64,321.06 L110.66,321.65 L111.68,322.23 L112.7,322.82 L113.72,323.39 L114.74,323.94 L115.75,324.48 L116.77,324.98 L117.79,325.46 L118.81,325.9 L119.83,326.31 L120.85,326.68 L121.87,327.02 L122.89,327.31 L123.91,327.57 L124.92,327.79 L125.94,327.97 L126.96,328.11 L127.98,328.21 L129,328.26 L130.02,328.26 L131.04,328.21 L132.06,328.1 L133.08,327.92 L134.09,327.68 L135.11,327.36 L136.13,326.97 L137.15,326.5 L138.17,325.96 L139.19,325.35 L140.21,324.68 L141.23,323.98 L142.25,323.26 L143.26,322.54 L144.28,321.85 L145.3,321.22 L146.32,320.68 L147.34,320.24 L148.36,319.93 L149.38,319.76 L150.4,319.74 L151.42,319.85 L152.43,320.07 L153.45,320.41 L154.47,320.84 L155.49,321.35 L156.51,321.92 L157.53,322.54 L158.55,323.18 L159.57,323.83 L160.58,324.47 L161.6,325.09 L162.62,325.67 L163.64,326.2 L164.66,326.69 L165.68,327.11 L166.7,327.49 L167.72,327.8 L168.74,328.06 L169.75,328.27 L170.77,328.43 L171.79,328.55 L172.81,328.62 L173.83,328.66 L174.85,328.67 L175.87,328.65 L176.89,328.59 L177.91,328.51 L178.92,328.4 L179.94,328.26 L180.96,328.09 L181.98,327.89 L183,327.66 L184.02,327.39 L185.04,327.08 L186.06,326.74 L187.08,326.35 L188.09,325.91 L189.11,325.44 L190.13,324.91 L191.15,324.33 L192.17,323.71 L193.19,323.03 L194.21,322.31 L195.23,321.53 L196.25,320.72 L197.26,319.85 L198.28,318.96 L199.3,318.02 L200.32,317.06 L201.34,316.08 L202.36,315.09 L203.38,314.09 L204.4,313.1 L205.42,312.13 L206.43,311.18 L207.45,310.27 L208.47,309.41 L209.49,308.6 L210.51,307.87 L211.53,307.22 L212.55,306.65 L213.57,306.18 L214.58,305.82 L215.6,305.56 L216.62,305.42 L217.64,305.39 L218.66,305.66 L219.68,306.35 L220.7,307.43 L221.72,308.86 L222.74,310.56 L223.75,312.47 L224.77,314.49 L225.79,316.56 L226.81,318.6 L227.83,320.56 L228.85,322.38 L229.87,324.03 L230.89,325.49 L231.91,326.75 L232.92,327.82 L233.94,329.14 L234.96,330.15 L235.98,330.91 L237,331.63 L237,331.63Z" fill="url(#gb)"/>
<path d="M75,331.63 L76.02,331.26 L77.04,330.86 L78.06,330.36 L79.08,329.71 L80.09,328.93 L81.11,328.37 L82.13,327.74 L83.15,327.04 L84.17,326.28 L85.19,325.47 L86.21,324.6 L87.23,323.71 L88.25,322.81 L89.26,321.9 L90.28,321.03 L91.3,320.21 L92.32,319.45 L93.34,318.79 L94.36,318.23 L95.38,317.81 L96.4,317.51 L97.42,317.37 L98.43,317.31 L99.45,317.34 L100.47,317.44 L101.49,317.61 L102.51,317.85 L103.53,318.16 L104.55,318.54 L105.57,318.96 L106.58,319.44 L107.6,319.95 L108.62,320.5 L109.64,321.06 L110.66,321.65 L111.68,322.23 L112.7,322.82 L113.72,323.39 L114.74,323.94 L115.75,324.48 L116.77,324.98 L117.79,325.46 L118.81,325.9 L119.83,326.31 L120.85,326.68 L121.87,327.02 L122.89,327.31 L123.91,327.57 L124.92,327.79 L125.94,327.97 L126.96,328.11 L127.98,328.21 L129,328.26 L130.02,328.26 L131.04,328.21 L132.06,328.1 L133.08,327.92 L134.09,327.68 L135.11,327.36 L136.13,326.97 L137.15,326.5 L138.17,325.96 L139.19,325.35 L140.21,324.68 L141.23,323.98 L142.25,323.26 L143.26,322.54 L144.28,321.85 L145.3,321.22 L146.32,320.68 L147.34,320.24 L148.36,319.93 L149.38,319.76 L150.4,319.74 L151.42,319.85 L152.43,320.07 L153.45,320.41 L154.47,320.84 L155.49,321.35 L156.51,321.92 L157.53,322.54 L158.55,323.18 L159.57,323.83 L160.58,324.47 L161.6,325.09 L162.62,325.67 L163.64,326.2 L164.66,326.69 L165.68,327.11 L166.7,327.49 L167.72,327.8 L168.74,328.06 L169.75,328.27 L170.77,328.43 L171.79,328.55 L172.81,328.62 L173.83,328.66 L174.85,328.67 L175.87,328.65 L176.89,328.59 L177.91,328.51 L178.92,328.4 L179.94,328.26 L180.96,328.09 L181.98,327.89 L183,327.66 L184.02,327.39 L185.04,327.08 L186.06,326.74 L187.08,326.35 L188.09,325.91 L189.11,325.44 L190.13,324.91 L191.15,324.33 L192.17,323.71 L193.19,323.03 L194.21,322.31 L195.23,321.53 L196.25,320.72 L197.26,319.85 L198.28,318.96 L199.3,318.02 L200.32,317.06 L201.34,316.08 L202.36,315.09 L203.38,314.09 L204.4,313.1 L205.42,312.13 L206.43,311.18 L207.45,310.27 L208.47,309.41 L209.49,308.6 L210.51,307.87 L211.53,307.22 L212.55,306.65 L213.57,306.18 L214.58,305.82 L215.6,305.56 L216.62,305.42 L217.64,305.39 L218.66,305.66 L219.68,306.35 L220.7,307.43 L221.72,308.86 L222.74,310.56 L223.75,312.47 L224.77,314.49 L225.79,316.56 L226.81,318.6 L227.83,320.56 L228.85,322.38 L229.87,324.03 L230.89,325.49 L231.91,326.75 L232.92,327.82 L233.94,329.14 L234.96,330.15 L235.98,330.91 L237,331.63" fill="none" stroke="#000" stroke-width="2.6" stroke-linejoin="round" stroke-linecap="round"/>
<line x1="169.5" x2="169.5" y1="331.63" y2="327.53" stroke="#000" stroke-width="2.4"/>
<path d="M70.5,356.76 L70.5,356.76 L71.55,356.62 L72.61,356.45 L73.66,356.23 L74.71,355.92 L75.77,355.55 L76.82,355.24 L77.87,354.87 L78.93,354.44 L79.98,353.94 L81.03,353.38 L82.09,352.76 L83.14,352.08 L84.19,351.35 L85.25,350.58 L86.3,349.78 L87.36,348.98 L88.41,348.19 L89.46,347.42 L90.52,346.71 L91.57,346.07 L92.62,345.52 L93.68,345.07 L94.73,344.74 L95.78,344.54 L96.84,344.45 L97.89,344.43 L98.94,344.48 L100,344.59 L101.05,344.77 L102.1,345.01 L103.16,345.31 L104.21,345.66 L105.26,346.06 L106.32,346.5 L107.37,346.96 L108.42,347.45 L109.48,347.95 L110.53,348.46 L111.58,348.97 L112.64,349.47 L113.69,349.95 L114.75,350.41 L115.8,350.85 L116.85,351.26 L117.91,351.64 L118.96,351.99 L120.01,352.31 L121.07,352.6 L122.12,352.85 L123.17,353.07 L124.23,353.26 L125.28,353.42 L126.33,353.56 L127.39,353.65 L128.44,353.72 L129.49,353.76 L130.55,353.75 L131.6,353.71 L132.65,353.62 L133.71,353.48 L134.76,353.28 L135.81,353.03 L136.87,352.71 L137.92,352.32 L138.97,351.87 L140.03,351.36 L141.08,350.8 L142.14,350.19 L143.19,349.56 L144.24,348.93 L145.3,348.32 L146.35,347.75 L147.4,347.25 L148.46,346.85 L149.51,346.56 L150.56,346.4 L151.62,346.37 L152.67,346.46 L153.72,346.65 L154.78,346.94 L155.83,347.32 L156.88,347.76 L157.94,348.27 L158.99,348.81 L160.04,349.37 L161.1,349.93 L162.15,350.49 L163.2,351.01 L164.26,351.5 L165.31,351.95 L166.36,352.35 L167.42,352.7 L168.47,352.99 L169.53,353.23 L170.58,353.43 L171.63,353.57 L172.69,353.67 L173.74,353.74 L174.79,353.76 L175.85,353.75 L176.9,353.7 L177.95,353.63 L179.01,353.52 L180.06,353.37 L181.11,353.2 L182.17,352.99 L183.22,352.74 L184.27,352.46 L185.33,352.13 L186.38,351.76 L187.43,351.34 L188.49,350.87 L189.54,350.35 L190.59,349.78 L191.65,349.15 L192.7,348.46 L193.75,347.72 L194.81,346.93 L195.86,346.08 L196.92,345.18 L197.97,344.24 L199.02,343.26 L200.08,342.24 L201.13,341.19 L202.18,340.13 L203.24,339.06 L204.29,337.99 L205.34,336.93 L206.4,335.89 L207.45,334.9 L208.5,333.95 L209.56,333.07 L210.61,332.26 L211.66,331.54 L212.72,330.92 L213.77,330.4 L214.82,330 L215.88,329.71 L216.93,329.56 L217.98,329.53 L219.04,329.84 L220.09,330.62 L221.14,331.84 L222.2,333.42 L223.25,335.3 L224.31,337.38 L225.36,339.57 L226.41,341.79 L227.47,343.96 L228.52,346.01 L229.57,347.89 L230.63,349.57 L231.68,351.04 L232.73,352.29 L233.79,353.33 L234.84,354.52 L235.89,355.46 L236.95,356.13 L238,356.76 L238,356.76Z" fill="url(#gb)"/>
<path d="M70.5,356.76 L71.55,356.62 L72.61,356.45 L73.66,356.23 L74.71,355.92 L75.77,355.55 L76.82,355.24 L77.87,354.87 L78.93,354.44 L79.98,353.94 L81.03,353.38 L82.09,352.76 L83.14,352.08 L84.19,351.35 L85.25,350.58 L86.3,349.78 L87.36,348.98 L88.41,348.19 L89.46,347.42 L90.52,346.71 L91.57,346.07 L92.62,345.52 L93.68,345.07 L94.73,344.74 L95.78,344.54 L96.84,344.45 L97.89,344.43 L98.94,344.48 L100,344.59 L101.05,344.77 L102.1,345.01 L103.16,345.31 L104.21,345.66 L105.26,346.06 L106.32,346.5 L107.37,346.96 L108.42,347.45 L109.48,347.95 L110.53,348.46 L111.58,348.97 L112.64,349.47 L113.69,349.95 L114.75,350.41 L115.8,350.85 L116.85,351.26 L117.91,351.64 L118.96,351.99 L120.01,352.31 L121.07,352.6 L122.12,352.85 L123.17,353.07 L124.23,353.26 L125.28,353.42 L126.33,353.56 L127.39,353.65 L128.44,353.72 L129.49,353.76 L130.55,353.75 L131.6,353.71 L132.65,353.62 L133.71,353.48 L134.76,353.28 L135.81,353.03 L136.87,352.71 L137.92,352.32 L138.97,351.87 L140.03,351.36 L141.08,350.8 L142.14,350.19 L143.19,349.56 L144.24,348.93 L145.3,348.32 L146.35,347.75 L147.4,347.25 L148.46,346.85 L149.51,346.56 L150.56,346.4 L151.62,346.37 L152.67,346.46 L153.72,346.65 L154.78,346.94 L155.83,347.32 L156.88,347.76 L157.94,348.27 L158.99,348.81 L160.04,349.37 L161.1,349.93 L162.15,350.49 L163.2,351.01 L164.26,351.5 L165.31,351.95 L166.36,352.35 L167.42,352.7 L168.47,352.99 L169.53,353.23 L170.58,353.43 L171.63,353.57 L172.69,353.67 L173.74,353.74 L174.79,353.76 L175.85,353.75 L176.9,353.7 L177.95,353.63 L179.01,353.52 L180.06,353.37 L181.11,353.2 L182.17,352.99 L183.22,352.74 L184.27,352.46 L185.33,352.13 L186.38,351.76 L187.43,351.34 L188.49,350.87 L189.54,350.35 L190.59,349.78 L191.65,349.15 L192.7,348.46 L193.75,347.72 L194.81,346.93 L195.86,346.08 L196.92,345.18 L197.97,344.24 L199.02,343.26 L200.08,342.24 L201.13,341.19 L202.18,340.13 L203.24,339.06 L204.29,337.99 L205.34,336.93 L206.4,335.89 L207.45,334.9 L208.5,333.95 L209.56,333.07 L210.61,332.26 L211.66,331.54 L212.72,330.92 L213.77,330.4 L214.82,330 L215.88,329.71 L216.93,329.56 L217.98,329.53 L219.04,329.84 L220.09,330.62 L221.14,331.84 L222.2,333.42 L223.25,335.3 L224.31,337.38 L225.36,339.57 L226.41,341.79 L227.47,343.96 L228.52,346.01 L229.57,347.89 L230.63,349.57 L231.68,351.04 L232.73,352.29 L233.79,353.33 L234.84,354.52 L235.89,355.46 L236.95,356.13 L238,356.76" fill="none" stroke="#000" stroke-width="2.6" stroke-linejoin="round" stroke-linecap="round"/>
<line x1="171.5" x2="171.5" y1="356.76" y2="352.66" stroke="#000" stroke-width="2.4"/>
<path d="M76,381.89 L76,381.89 L77.03,381.52 L78.05,381.14 L79.08,380.67 L80.1,380.07 L81.13,379.37 L82.15,378.89 L83.18,378.35 L84.2,377.77 L85.23,377.15 L86.25,376.5 L87.28,375.82 L88.3,375.14 L89.33,374.46 L90.35,373.81 L91.38,373.19 L92.4,372.63 L93.43,372.14 L94.45,371.73 L95.48,371.42 L96.5,371.21 L97.53,371.1 L98.55,371.05 L99.58,371.05 L100.6,371.11 L101.63,371.23 L102.65,371.4 L103.68,371.61 L104.7,371.88 L105.73,372.18 L106.75,372.52 L107.78,372.89 L108.81,373.29 L109.83,373.7 L110.86,374.12 L111.88,374.54 L112.91,374.96 L113.93,375.38 L114.96,375.78 L115.98,376.16 L117.01,376.52 L118.03,376.86 L119.06,377.18 L120.08,377.47 L121.11,377.74 L122.13,377.97 L123.16,378.18 L124.18,378.37 L125.21,378.53 L126.23,378.66 L127.26,378.77 L128.28,378.84 L129.31,378.89 L130.33,378.91 L131.36,378.9 L132.38,378.85 L133.41,378.76 L134.43,378.63 L135.46,378.45 L136.48,378.22 L137.51,377.94 L138.53,377.61 L139.56,377.23 L140.58,376.81 L141.61,376.34 L142.64,375.86 L143.66,375.36 L144.69,374.86 L145.71,374.39 L146.74,373.96 L147.76,373.59 L148.79,373.3 L149.81,373.1 L150.84,373 L151.86,373.01 L152.89,373.09 L153.91,373.26 L154.94,373.51 L155.96,373.81 L156.99,374.17 L158.01,374.57 L159.04,375 L160.06,375.45 L161.09,375.9 L162.11,376.33 L163.14,376.75 L164.16,377.15 L165.19,377.51 L166.21,377.83 L167.24,378.11 L168.26,378.35 L169.29,378.56 L170.31,378.72 L171.34,378.85 L172.36,378.94 L173.39,379 L174.42,379.04 L175.44,379.04 L176.47,379.02 L177.49,378.97 L178.52,378.9 L179.54,378.8 L180.57,378.67 L181.59,378.52 L182.62,378.33 L183.64,378.11 L184.67,377.86 L185.69,377.57 L186.72,377.23 L187.74,376.85 L188.77,376.42 L189.79,375.94 L190.82,375.41 L191.84,374.82 L192.87,374.18 L193.89,373.47 L194.92,372.7 L195.94,371.87 L196.97,370.99 L197.99,370.04 L199.02,369.04 L200.04,367.99 L201.07,366.9 L202.09,365.77 L203.12,364.61 L204.14,363.43 L205.17,362.23 L206.19,361.04 L207.22,359.86 L208.25,358.71 L209.27,357.59 L210.3,356.52 L211.32,355.52 L212.35,354.6 L213.37,353.77 L214.4,353.03 L215.42,352.41 L216.45,351.92 L217.47,351.54 L218.5,351.31 L219.52,351.21 L220.55,351.32 L221.57,351.93 L222.6,353.03 L223.62,354.55 L224.65,356.44 L225.67,358.6 L226.7,360.95 L227.72,363.37 L228.75,365.8 L229.77,368.14 L230.8,370.35 L231.82,372.37 L232.85,374.16 L233.87,375.73 L234.9,377.06 L235.92,378.71 L236.95,380 L237.97,380.96 L239,381.89 L239,381.89Z" fill="url(#gb)"/>
<path d="M76,381.89 L77.03,381.52 L78.05,381.14 L79.08,380.67 L80.1,380.07 L81.13,379.37 L82.15,378.89 L83.18,378.35 L84.2,377.77 L85.23,377.15 L86.25,376.5 L87.28,375.82 L88.3,375.14 L89.33,374.46 L90.35,373.81 L91.38,373.19 L92.4,372.63 L93.43,372.14 L94.45,371.73 L95.48,371.42 L96.5,371.21 L97.53,371.1 L98.55,371.05 L99.58,371.05 L100.6,371.11 L101.63,371.23 L102.65,371.4 L103.68,371.61 L104.7,371.88 L105.73,372.18 L106.75,372.52 L107.78,372.89 L108.81,373.29 L109.83,373.7 L110.86,374.12 L111.88,374.54 L112.91,374.96 L113.93,375.38 L114.96,375.78 L115.98,376.16 L117.01,376.52 L118.03,376.86 L119.06,377.18 L120.08,377.47 L121.11,377.74 L122.13,377.97 L123.16,378.18 L124.18,378.37 L125.21,378.53 L126.23,378.66 L127.26,378.77 L128.28,378.84 L129.31,378.89 L130.33,378.91 L131.36,378.9 L132.38,378.85 L133.41,378.76 L134.43,378.63 L135.46,378.45 L136.48,378.22 L137.51,377.94 L138.53,377.61 L139.56,377.23 L140.58,376.81 L141.61,376.34 L142.64,375.86 L143.66,375.36 L144.69,374.86 L145.71,374.39 L146.74,373.96 L147.76,373.59 L148.79,373.3 L149.81,373.1 L150.84,373 L151.86,373.01 L152.89,373.09 L153.91,373.26 L154.94,373.51 L155.96,373.81 L156.99,374.17 L158.01,374.57 L159.04,375 L160.06,375.45 L161.09,375.9 L162.11,376.33 L163.14,376.75 L164.16,377.15 L165.19,377.51 L166.21,377.83 L167.24,378.11 L168.26,378.35 L169.29,378.56 L170.31,378.72 L171.34,378.85 L172.36,378.94 L173.39,379 L174.42,379.04 L175.44,379.04 L176.47,379.02 L177.49,378.97 L178.52,378.9 L179.54,378.8 L180.57,378.67 L181.59,378.52 L182.62,378.33 L183.64,378.11 L184.67,377.86 L185.69,377.57 L186.72,377.23 L187.74,376.85 L188.77,376.42 L189.79,375.94 L190.82,375.41 L191.84,374.82 L192.87,374.18 L193.89,373.47 L194.92,372.7 L195.94,371.87 L196.97,370.99 L197.99,370.04 L199.02,369.04 L200.04,367.99 L201.07,366.9 L202.09,365.77 L203.12,364.61 L204.14,363.43 L205.17,362.23 L206.19,361.04 L207.22,359.86 L208.25,358.71 L209.27,357.59 L210.3,356.52 L211.32,355.52 L212.35,354.6 L213.37,353.77 L214.4,353.03 L215.42,352.41 L216.45,351.92 L217.47,351.54 L218.5,351.31 L219.52,351.21 L220.55,351.32 L221.57,351.93 L222.6,353.03 L223.62,354.55 L224.65,356.44 L225.67,358.6 L226.7,360.95 L227.72,363.37 L228.75,365.8 L229.77,368.14 L230.8,370.35 L231.82,372.37 L232.85,374.16 L233.87,375.73 L234.9,377.06 L235.92,378.71 L236.95,380 L237.97,380.96 L239,381.89" fill="none" stroke="#000" stroke-width="2.6" stroke-linejoin="round" stroke-linecap="round"/>
<line x1="177.2" x2="177.2" y1="381.89" y2="377.79" stroke="#000" stroke-width="2.4"/>
<line x1="56" x2="61" y1="381.89" y2="381.89" stroke="#000" stroke-width="2.6" stroke-linecap="round"/>
<path d="M75,407.02 L75,407.02 L76.04,406.68 L77.08,406.34 L78.11,405.92 L79.15,405.41 L80.19,404.84 L81.23,404.47 L82.26,404.06 L83.3,403.63 L84.34,403.19 L85.38,402.73 L86.42,402.27 L87.45,401.82 L88.49,401.4 L89.53,401 L90.57,400.65 L91.6,400.35 L92.64,400.1 L93.68,399.92 L94.72,399.81 L95.75,399.74 L96.79,399.7 L97.83,399.7 L98.87,399.74 L99.91,399.81 L100.94,399.92 L101.98,400.06 L103.02,400.23 L104.06,400.42 L105.09,400.64 L106.13,400.88 L107.17,401.13 L108.21,401.39 L109.25,401.66 L110.28,401.93 L111.32,402.19 L112.36,402.44 L113.4,402.69 L114.43,402.92 L115.47,403.14 L116.51,403.35 L117.55,403.53 L118.58,403.71 L119.62,403.86 L120.66,404 L121.7,404.12 L122.74,404.23 L123.77,404.33 L124.81,404.41 L125.85,404.48 L126.89,404.54 L127.92,404.59 L128.96,404.63 L130,404.66 L131.04,404.68 L132.08,404.69 L133.11,404.7 L134.15,404.69 L135.19,404.67 L136.23,404.64 L137.26,404.59 L138.3,404.52 L139.34,404.42 L140.38,404.3 L141.42,404.14 L142.45,403.94 L143.49,403.71 L144.53,403.43 L145.57,403.11 L146.6,402.76 L147.64,402.37 L148.68,401.95 L149.72,401.52 L150.75,401.09 L151.79,400.68 L152.83,400.29 L153.87,399.95 L154.91,399.67 L155.94,399.47 L156.98,399.35 L158.02,399.33 L159.06,399.38 L160.09,399.5 L161.13,399.69 L162.17,399.93 L163.21,400.23 L164.25,400.56 L165.28,400.92 L166.32,401.29 L167.36,401.67 L168.4,402.03 L169.43,402.38 L170.47,402.71 L171.51,403 L172.55,403.26 L173.58,403.48 L174.62,403.65 L175.66,403.78 L176.7,403.87 L177.74,403.92 L178.77,403.93 L179.81,403.89 L180.85,403.81 L181.89,403.7 L182.92,403.54 L183.96,403.33 L185,403.08 L186.04,402.79 L187.08,402.44 L188.11,402.04 L189.15,401.59 L190.19,401.08 L191.23,400.5 L192.26,399.87 L193.3,399.16 L194.34,398.39 L195.38,397.55 L196.42,396.64 L197.45,395.67 L198.49,394.62 L199.53,393.52 L200.57,392.35 L201.6,391.13 L202.64,389.87 L203.68,388.57 L204.72,387.25 L205.75,385.91 L206.79,384.56 L207.83,383.23 L208.87,381.93 L209.91,380.67 L210.94,379.46 L211.98,378.32 L213.02,377.28 L214.06,376.33 L215.09,375.49 L216.13,374.78 L217.17,374.2 L218.21,373.77 L219.25,373.5 L220.28,373.37 L221.32,373.48 L222.36,374.14 L223.4,375.35 L224.43,377.05 L225.47,379.15 L226.51,381.56 L227.55,384.16 L228.58,386.86 L229.62,389.55 L230.66,392.15 L231.7,394.58 L232.74,396.8 L233.77,398.77 L234.81,400.47 L235.85,401.91 L236.89,403.66 L237.92,405.03 L238.96,406.05 L240,407.02 L240,407.02Z" fill="url(#gb)"/>
<path d="M75,407.02 L76.04,406.68 L77.08,406.34 L78.11,405.92 L79.15,405.41 L80.19,404.84 L81.23,404.47 L82.26,404.06 L83.3,403.63 L84.34,403.19 L85.38,402.73 L86.42,402.27 L87.45,401.82 L88.49,401.4 L89.53,401 L90.57,400.65 L91.6,400.35 L92.64,400.1 L93.68,399.92 L94.72,399.81 L95.75,399.74 L96.79,399.7 L97.83,399.7 L98.87,399.74 L99.91,399.81 L100.94,399.92 L101.98,400.06 L103.02,400.23 L104.06,400.42 L105.09,400.64 L106.13,400.88 L107.17,401.13 L108.21,401.39 L109.25,401.66 L110.28,401.93 L111.32,402.19 L112.36,402.44 L113.4,402.69 L114.43,402.92 L115.47,403.14 L116.51,403.35 L117.55,403.53 L118.58,403.71 L119.62,403.86 L120.66,404 L121.7,404.12 L122.74,404.23 L123.77,404.33 L124.81,404.41 L125.85,404.48 L126.89,404.54 L127.92,404.59 L128.96,404.63 L130,404.66 L131.04,404.68 L132.08,404.69 L133.11,404.7 L134.15,404.69 L135.19,404.67 L136.23,404.64 L137.26,404.59 L138.3,404.52 L139.34,404.42 L140.38,404.3 L141.42,404.14 L142.45,403.94 L143.49,403.71 L144.53,403.43 L145.57,403.11 L146.6,402.76 L147.64,402.37 L148.68,401.95 L149.72,401.52 L150.75,401.09 L151.79,400.68 L152.83,400.29 L153.87,399.95 L154.91,399.67 L155.94,399.47 L156.98,399.35 L158.02,399.33 L159.06,399.38 L160.09,399.5 L161.13,399.69 L162.17,399.93 L163.21,400.23 L164.25,400.56 L165.28,400.92 L166.32,401.29 L167.36,401.67 L168.4,402.03 L169.43,402.38 L170.47,402.71 L171.51,403 L172.55,403.26 L173.58,403.48 L174.62,403.65 L175.66,403.78 L176.7,403.87 L177.74,403.92 L178.77,403.93 L179.81,403.89 L180.85,403.81 L181.89,403.7 L182.92,403.54 L183.96,403.33 L185,403.08 L186.04,402.79 L187.08,402.44 L188.11,402.04 L189.15,401.59 L190.19,401.08 L191.23,400.5 L192.26,399.87 L193.3,399.16 L194.34,398.39 L195.38,397.55 L196.42,396.64 L197.45,395.67 L198.49,394.62 L199.53,393.52 L200.57,392.35 L201.6,391.13 L202.64,389.87 L203.68,388.57 L204.72,387.25 L205.75,385.91 L206.79,384.56 L207.83,383.23 L208.87,381.93 L209.91,380.67 L210.94,379.46 L211.98,378.32 L213.02,377.28 L214.06,376.33 L215.09,375.49 L216.13,374.78 L217.17,374.2 L218.21,373.77 L219.25,373.5 L220.28,373.37 L221.32,373.48 L222.36,374.14 L223.4,375.35 L224.43,377.05 L225.47,379.15 L226.51,381.56 L227.55,384.16 L228.58,386.86 L229.62,389.55 L230.66,392.15 L231.7,394.58 L232.74,396.8 L233.77,398.77 L234.81,400.47 L235.85,401.91 L236.89,403.66 L237.92,405.03 L238.96,406.05 L240,407.02" fill="none" stroke="#000" stroke-width="2.6" stroke-linejoin="round" stroke-linecap="round"/>
<line x1="187" x2="187" y1="407.02" y2="401.87" stroke="#000" stroke-width="2.4"/>
<path d="M70,432.15 L70,432.15 L71.08,432.11 L72.15,432.05 L73.23,431.98 L74.3,431.88 L75.38,431.76 L76.45,431.65 L77.53,431.52 L78.6,431.36 L79.68,431.18 L80.75,430.97 L81.83,430.74 L82.91,430.48 L83.98,430.19 L85.06,429.88 L86.13,429.56 L87.21,429.23 L88.28,428.89 L89.36,428.56 L90.43,428.24 L91.51,427.95 L92.58,427.68 L93.66,427.44 L94.74,427.25 L95.81,427.1 L96.89,427 L97.96,426.93 L99.04,426.88 L100.11,426.86 L101.19,426.86 L102.26,426.9 L103.34,426.96 L104.42,427.04 L105.49,427.15 L106.57,427.27 L107.64,427.42 L108.72,427.58 L109.79,427.75 L110.87,427.93 L111.94,428.11 L113.02,428.29 L114.09,428.47 L115.17,428.65 L116.25,428.81 L117.32,428.97 L118.4,429.11 L119.47,429.25 L120.55,429.37 L121.62,429.48 L122.7,429.58 L123.77,429.67 L124.85,429.74 L125.92,429.8 L127,429.86 L128.08,429.9 L129.15,429.93 L130.23,429.95 L131.3,429.96 L132.38,429.97 L133.45,429.96 L134.53,429.94 L135.6,429.91 L136.68,429.86 L137.75,429.81 L138.83,429.75 L139.91,429.68 L140.98,429.61 L142.06,429.53 L143.13,429.45 L144.21,429.38 L145.28,429.31 L146.36,429.25 L147.43,429.2 L148.51,429.17 L149.58,429.15 L150.66,429.16 L151.74,429.17 L152.81,429.2 L153.89,429.24 L154.96,429.3 L156.04,429.36 L157.11,429.42 L158.19,429.49 L159.26,429.57 L160.34,429.64 L161.42,429.71 L162.49,429.77 L163.57,429.83 L164.64,429.88 L165.72,429.92 L166.79,429.95 L167.87,429.98 L168.94,429.99 L170.02,430 L171.09,429.99 L172.17,429.98 L173.25,429.95 L174.32,429.91 L175.4,429.86 L176.47,429.79 L177.55,429.7 L178.62,429.59 L179.7,429.45 L180.77,429.29 L181.85,429.1 L182.92,428.87 L184,428.6 L185.08,428.29 L186.15,427.92 L187.23,427.5 L188.3,427.02 L189.38,426.47 L190.45,425.85 L191.53,425.16 L192.6,424.38 L193.68,423.52 L194.75,422.58 L195.83,421.54 L196.91,420.41 L197.98,419.2 L199.06,417.9 L200.13,416.52 L201.21,415.06 L202.28,413.54 L203.36,411.95 L204.43,410.32 L205.51,408.66 L206.58,406.98 L207.66,405.3 L208.74,403.64 L209.81,402.02 L210.89,400.45 L211.96,398.97 L213.04,397.58 L214.11,396.31 L215.19,395.18 L216.26,394.2 L217.34,393.38 L218.42,392.75 L219.49,392.31 L220.57,392.07 L221.64,392.04 L222.72,392.61 L223.79,393.89 L224.87,395.83 L225.94,398.32 L227.02,401.23 L228.09,404.42 L229.17,407.74 L230.25,411.08 L231.32,414.3 L232.4,417.31 L233.47,420.04 L234.55,422.46 L235.62,424.54 L236.7,426.29 L237.77,428.25 L238.85,429.88 L239.92,431.06 L241,432.15 L241,432.15Z" fill="url(#gb)"/>
<path d="M70,432.15 L71.08,432.11 L72.15,432.05 L73.23,431.98 L74.3,431.88 L75.38,431.76 L76.45,431.65 L77.53,431.52 L78.6,431.36 L79.68,431.18 L80.75,430.97 L81.83,430.74 L82.91,430.48 L83.98,430.19 L85.06,429.88 L86.13,429.56 L87.21,429.23 L88.28,428.89 L89.36,428.56 L90.43,428.24 L91.51,427.95 L92.58,427.68 L93.66,427.44 L94.74,427.25 L95.81,427.1 L96.89,427 L97.96,426.93 L99.04,426.88 L100.11,426.86 L101.19,426.86 L102.26,426.9 L103.34,426.96 L104.42,427.04 L105.49,427.15 L106.57,427.27 L107.64,427.42 L108.72,427.58 L109.79,427.75 L110.87,427.93 L111.94,428.11 L113.02,428.29 L114.09,428.47 L115.17,428.65 L116.25,428.81 L117.32,428.97 L118.4,429.11 L119.47,429.25 L120.55,429.37 L121.62,429.48 L122.7,429.58 L123.77,429.67 L124.85,429.74 L125.92,429.8 L127,429.86 L128.08,429.9 L129.15,429.93 L130.23,429.95 L131.3,429.96 L132.38,429.97 L133.45,429.96 L134.53,429.94 L135.6,429.91 L136.68,429.86 L137.75,429.81 L138.83,429.75 L139.91,429.68 L140.98,429.61 L142.06,429.53 L143.13,429.45 L144.21,429.38 L145.28,429.31 L146.36,429.25 L147.43,429.2 L148.51,429.17 L149.58,429.15 L150.66,429.16 L151.74,429.17 L152.81,429.2 L153.89,429.24 L154.96,429.3 L156.04,429.36 L157.11,429.42 L158.19,429.49 L159.26,429.57 L160.34,429.64 L161.42,429.71 L162.49,429.77 L163.57,429.83 L164.64,429.88 L165.72,429.92 L166.79,429.95 L167.87,429.98 L168.94,429.99 L170.02,430 L171.09,429.99 L172.17,429.98 L173.25,429.95 L174.32,429.91 L175.4,429.86 L176.47,429.79 L177.55,429.7 L178.62,429.59 L179.7,429.45 L180.77,429.29 L181.85,429.1 L182.92,428.87 L184,428.6 L185.08,428.29 L186.15,427.92 L187.23,427.5 L188.3,427.02 L189.38,426.47 L190.45,425.85 L191.53,425.16 L192.6,424.38 L193.68,423.52 L194.75,422.58 L195.83,421.54 L196.91,420.41 L197.98,419.2 L199.06,417.9 L200.13,416.52 L201.21,415.06 L202.28,413.54 L203.36,411.95 L204.43,410.32 L205.51,408.66 L206.58,406.98 L207.66,405.3 L208.74,403.64 L209.81,402.02 L210.89,400.45 L211.96,398.97 L213.04,397.58 L214.11,396.31 L215.19,395.18 L216.26,394.2 L217.34,393.38 L218.42,392.75 L219.49,392.31 L220.57,392.07 L221.64,392.04 L222.72,392.61 L223.79,393.89 L224.87,395.83 L225.94,398.32 L227.02,401.23 L228.09,404.42 L229.17,407.74 L230.25,411.08 L231.32,414.3 L232.4,417.31 L233.47,420.04 L234.55,422.46 L235.62,424.54 L236.7,426.29 L237.77,428.25 L238.85,429.88 L239.92,431.06 L241,432.15" fill="none" stroke="#000" stroke-width="2.6" stroke-linejoin="round" stroke-linecap="round"/>
<line x1="195.7" x2="195.7" y1="432.15" y2="421.07" stroke="#000" stroke-width="2.4"/>
<path d="M79,457.28 L79,457.28 L80.02,456.89 L81.04,456.53 L82.06,456.11 L83.08,455.61 L84.09,455.07 L85.11,454.77 L86.13,454.46 L87.15,454.14 L88.17,453.83 L89.19,453.53 L90.21,453.24 L91.23,452.97 L92.25,452.74 L93.26,452.54 L94.28,452.37 L95.3,452.26 L96.32,452.18 L97.34,452.12 L98.36,452.09 L99.38,452.09 L100.4,452.1 L101.42,452.14 L102.43,452.2 L103.45,452.29 L104.47,452.4 L105.49,452.52 L106.51,452.66 L107.53,452.82 L108.55,452.98 L109.57,453.15 L110.58,453.33 L111.6,453.5 L112.62,453.68 L113.64,453.85 L114.66,454.01 L115.68,454.17 L116.7,454.32 L117.72,454.45 L118.74,454.58 L119.75,454.7 L120.77,454.8 L121.79,454.9 L122.81,454.98 L123.83,455.05 L124.85,455.11 L125.87,455.17 L126.89,455.21 L127.91,455.24 L128.92,455.25 L129.94,455.26 L130.96,455.25 L131.98,455.23 L133,455.19 L134.02,455.13 L135.04,455.06 L136.06,454.96 L137.08,454.84 L138.09,454.69 L139.11,454.52 L140.13,454.34 L141.15,454.13 L142.17,453.91 L143.19,453.68 L144.21,453.45 L145.23,453.23 L146.25,453.02 L147.26,452.84 L148.28,452.69 L149.3,452.57 L150.32,452.5 L151.34,452.48 L152.36,452.5 L153.38,452.56 L154.4,452.66 L155.42,452.78 L156.43,452.93 L157.45,453.11 L158.47,453.3 L159.49,453.5 L160.51,453.71 L161.53,453.91 L162.55,454.11 L163.57,454.29 L164.58,454.46 L165.6,454.62 L166.62,454.75 L167.64,454.87 L168.66,454.97 L169.68,455.05 L170.7,455.1 L171.72,455.14 L172.74,455.16 L173.75,455.16 L174.77,455.15 L175.79,455.11 L176.81,455.06 L177.83,454.98 L178.85,454.88 L179.87,454.76 L180.89,454.61 L181.91,454.43 L182.92,454.22 L183.94,453.98 L184.96,453.69 L185.98,453.36 L187,452.98 L188.02,452.54 L189.04,452.05 L190.06,451.5 L191.08,450.88 L192.09,450.19 L193.11,449.42 L194.13,448.58 L195.15,447.66 L196.17,446.66 L197.19,445.58 L198.21,444.42 L199.23,443.19 L200.25,441.87 L201.26,440.49 L202.28,439.05 L203.3,437.56 L204.32,436.02 L205.34,434.44 L206.36,432.85 L207.38,431.25 L208.4,429.66 L209.42,428.1 L210.43,426.58 L211.45,425.11 L212.47,423.73 L213.49,422.44 L214.51,421.26 L215.53,420.2 L216.55,419.28 L217.57,418.52 L218.58,417.92 L219.6,417.49 L220.62,417.24 L221.64,417.17 L222.66,417.55 L223.68,418.59 L224.7,420.24 L225.72,422.41 L226.74,425.01 L227.75,427.93 L228.77,431.03 L229.79,434.2 L230.81,437.33 L231.83,440.32 L232.85,443.11 L233.87,445.64 L234.89,447.88 L235.91,449.82 L236.92,451.46 L237.94,453.48 L238.96,455.03 L239.98,456.18 L241,457.28 L241,457.28Z" fill="url(#gb)"/>
<path d="M79,457.28 L80.02,456.89 L81.04,456.53 L82.06,456.11 L83.08,455.61 L84.09,455.07 L85.11,454.77 L86.13,454.46 L87.15,454.14 L88.17,453.83 L89.19,453.53 L90.21,453.24 L91.23,452.97 L92.25,452.74 L93.26,452.54 L94.28,452.37 L95.3,452.26 L96.32,452.18 L97.34,452.12 L98.36,452.09 L99.38,452.09 L100.4,452.1 L101.42,452.14 L102.43,452.2 L103.45,452.29 L104.47,452.4 L105.49,452.52 L106.51,452.66 L107.53,452.82 L108.55,452.98 L109.57,453.15 L110.58,453.33 L111.6,453.5 L112.62,453.68 L113.64,453.85 L114.66,454.01 L115.68,454.17 L116.7,454.32 L117.72,454.45 L118.74,454.58 L119.75,454.7 L120.77,454.8 L121.79,454.9 L122.81,454.98 L123.83,455.05 L124.85,455.11 L125.87,455.17 L126.89,455.21 L127.91,455.24 L128.92,455.25 L129.94,455.26 L130.96,455.25 L131.98,455.23 L133,455.19 L134.02,455.13 L135.04,455.06 L136.06,454.96 L137.08,454.84 L138.09,454.69 L139.11,454.52 L140.13,454.34 L141.15,454.13 L142.17,453.91 L143.19,453.68 L144.21,453.45 L145.23,453.23 L146.25,453.02 L147.26,452.84 L148.28,452.69 L149.3,452.57 L150.32,452.5 L151.34,452.48 L152.36,452.5 L153.38,452.56 L154.4,452.66 L155.42,452.78 L156.43,452.93 L157.45,453.11 L158.47,453.3 L159.49,453.5 L160.51,453.71 L161.53,453.91 L162.55,454.11 L163.57,454.29 L164.58,454.46 L165.6,454.62 L166.62,454.75 L167.64,454.87 L168.66,454.97 L169.68,455.05 L170.7,455.1 L171.72,455.14 L172.74,455.16 L173.75,455.16 L174.77,455.15 L175.79,455.11 L176.81,455.06 L177.83,454.98 L178.85,454.88 L179.87,454.76 L180.89,454.61 L181.91,454.43 L182.92,454.22 L183.94,453.98 L184.96,453.69 L185.98,453.36 L187,452.98 L188.02,452.54 L189.04,452.05 L190.06,451.5 L191.08,450.88 L192.09,450.19 L193.11,449.42 L194.13,448.58 L195.15,447.66 L196.17,446.66 L197.19,445.58 L198.21,444.42 L199.23,443.19 L200.25,441.87 L201.26,440.49 L202.28,439.05 L203.3,437.56 L204.32,436.02 L205.34,434.44 L206.36,432.85 L207.38,431.25 L208.4,429.66 L209.42,428.1 L210.43,426.58 L211.45,425.11 L212.47,423.73 L213.49,422.44 L214.51,421.26 L215.53,420.2 L216.55,419.28 L217.57,418.52 L218.58,417.92 L219.6,417.49 L220.62,417.24 L221.64,417.17 L222.66,417.55 L223.68,418.59 L224.7,420.24 L225.72,422.41 L226.74,425.01 L227.75,427.93 L228.77,431.03 L229.79,434.2 L230.81,437.33 L231.83,440.32 L232.85,443.11 L233.87,445.64 L234.89,447.88 L235.91,449.82 L236.92,451.46 L237.94,453.48 L238.96,455.03 L239.98,456.18 L241,457.28" fill="none" stroke="#000" stroke-width="2.6" stroke-linejoin="round" stroke-linecap="round"/>
<line x1="196.8" x2="196.8" y1="457.28" y2="445.40" stroke="#000" stroke-width="2.4"/>
<path d="M140,482.41 L140,482.41 L140.64,482.41 L141.28,482.41 L141.92,482.41 L142.55,482.41 L143.19,482.41 L143.83,482.41 L144.47,482.41 L145.11,482.41 L145.75,482.41 L146.38,482.41 L147.02,482.41 L147.66,482.41 L148.3,482.41 L148.94,482.41 L149.58,482.41 L150.21,482.41 L150.85,482.41 L151.49,482.41 L152.13,482.41 L152.77,482.41 L153.41,482.41 L154.04,482.41 L154.68,482.41 L155.32,482.41 L155.96,482.41 L156.6,482.41 L157.24,482.41 L157.87,482.41 L158.51,482.41 L159.15,482.41 L159.79,482.41 L160.43,482.41 L161.07,482.41 L161.7,482.41 L162.34,482.41 L162.98,482.4 L163.62,482.4 L164.26,482.4 L164.9,482.4 L165.53,482.4 L166.17,482.39 L166.81,482.39 L167.45,482.39 L168.09,482.38 L168.73,482.38 L169.36,482.37 L170,482.36 L170.64,482.36 L171.28,482.35 L171.92,482.33 L172.56,482.32 L173.19,482.31 L173.83,482.29 L174.47,482.27 L175.11,482.24 L175.75,482.21 L176.39,482.18 L177.03,482.14 L177.66,482.1 L178.3,482.05 L178.94,482 L179.58,481.94 L180.22,481.86 L180.86,481.78 L181.49,481.69 L182.13,481.59 L182.77,481.47 L183.41,481.34 L184.05,481.2 L184.69,481.04 L185.32,480.86 L185.96,480.66 L186.6,480.43 L187.24,480.19 L187.88,479.92 L188.52,479.62 L189.15,479.29 L189.79,478.93 L190.43,478.54 L191.07,478.11 L191.71,477.65 L192.35,477.14 L192.98,476.6 L193.62,476.01 L194.26,475.38 L194.9,474.7 L195.54,473.97 L196.18,473.19 L196.81,472.36 L197.45,471.48 L198.09,470.55 L198.73,469.57 L199.37,468.53 L200.01,467.44 L200.64,466.3 L201.28,465.11 L201.92,463.86 L202.56,462.57 L203.2,461.23 L203.84,459.85 L204.47,458.43 L205.11,456.98 L205.75,455.49 L206.39,453.97 L207.03,452.43 L207.67,450.88 L208.31,449.31 L208.94,447.73 L209.58,446.16 L210.22,444.59 L210.86,443.03 L211.5,441.5 L212.14,440 L212.77,438.53 L213.41,437.11 L214.05,435.73 L214.69,434.42 L215.33,433.17 L215.97,431.99 L216.6,430.89 L217.24,429.88 L217.88,428.96 L218.52,428.13 L219.16,427.41 L219.8,426.79 L220.43,426.29 L221.07,425.89 L221.71,425.62 L222.35,425.45 L222.99,425.41 L223.63,425.66 L224.26,426.28 L224.9,427.26 L225.54,428.59 L226.18,430.23 L226.82,432.16 L227.46,434.35 L228.09,436.75 L228.73,439.31 L229.37,442.01 L230.01,444.79 L230.65,447.61 L231.29,450.43 L231.92,453.22 L232.56,455.95 L233.2,458.58 L233.84,461.09 L234.48,463.47 L235.12,465.69 L235.75,467.75 L236.39,469.64 L237.03,471.37 L237.67,473.16 L238.31,475.34 L238.95,477.16 L239.58,478.69 L240.22,479.97 L240.86,481.07 L241.5,482.41 L241.5,482.41Z" fill="url(#gb)"/>
<path d="M140,482.41 L140.64,482.41 L141.28,482.41 L141.92,482.41 L142.55,482.41 L143.19,482.41 L143.83,482.41 L144.47,482.41 L145.11,482.41 L145.75,482.41 L146.38,482.41 L147.02,482.41 L147.66,482.41 L148.3,482.41 L148.94,482.41 L149.58,482.41 L150.21,482.41 L150.85,482.41 L151.49,482.41 L152.13,482.41 L152.77,482.41 L153.41,482.41 L154.04,482.41 L154.68,482.41 L155.32,482.41 L155.96,482.41 L156.6,482.41 L157.24,482.41 L157.87,482.41 L158.51,482.41 L159.15,482.41 L159.79,482.41 L160.43,482.41 L161.07,482.41 L161.7,482.41 L162.34,482.41 L162.98,482.4 L163.62,482.4 L164.26,482.4 L164.9,482.4 L165.53,482.4 L166.17,482.39 L166.81,482.39 L167.45,482.39 L168.09,482.38 L168.73,482.38 L169.36,482.37 L170,482.36 L170.64,482.36 L171.28,482.35 L171.92,482.33 L172.56,482.32 L173.19,482.31 L173.83,482.29 L174.47,482.27 L175.11,482.24 L175.75,482.21 L176.39,482.18 L177.03,482.14 L177.66,482.1 L178.3,482.05 L178.94,482 L179.58,481.94 L180.22,481.86 L180.86,481.78 L181.49,481.69 L182.13,481.59 L182.77,481.47 L183.41,481.34 L184.05,481.2 L184.69,481.04 L185.32,480.86 L185.96,480.66 L186.6,480.43 L187.24,480.19 L187.88,479.92 L188.52,479.62 L189.15,479.29 L189.79,478.93 L190.43,478.54 L191.07,478.11 L191.71,477.65 L192.35,477.14 L192.98,476.6 L193.62,476.01 L194.26,475.38 L194.9,474.7 L195.54,473.97 L196.18,473.19 L196.81,472.36 L197.45,471.48 L198.09,470.55 L198.73,469.57 L199.37,468.53 L200.01,467.44 L200.64,466.3 L201.28,465.11 L201.92,463.86 L202.56,462.57 L203.2,461.23 L203.84,459.85 L204.47,458.43 L205.11,456.98 L205.75,455.49 L206.39,453.97 L207.03,452.43 L207.67,450.88 L208.31,449.31 L208.94,447.73 L209.58,446.16 L210.22,444.59 L210.86,443.03 L211.5,441.5 L212.14,440 L212.77,438.53 L213.41,437.11 L214.05,435.73 L214.69,434.42 L215.33,433.17 L215.97,431.99 L216.6,430.89 L217.24,429.88 L217.88,428.96 L218.52,428.13 L219.16,427.41 L219.8,426.79 L220.43,426.29 L221.07,425.89 L221.71,425.62 L222.35,425.45 L222.99,425.41 L223.63,425.66 L224.26,426.28 L224.9,427.26 L225.54,428.59 L226.18,430.23 L226.82,432.16 L227.46,434.35 L228.09,436.75 L228.73,439.31 L229.37,442.01 L230.01,444.79 L230.65,447.61 L231.29,450.43 L231.92,453.22 L232.56,455.95 L233.2,458.58 L233.84,461.09 L234.48,463.47 L235.12,465.69 L235.75,467.75 L236.39,469.64 L237.03,471.37 L237.67,473.16 L238.31,475.34 L238.95,477.16 L239.58,478.69 L240.22,479.97 L240.86,481.07 L241.5,482.41" fill="none" stroke="#000" stroke-width="2.6" stroke-linejoin="round" stroke-linecap="round"/>
<line x1="220.6" x2="220.6" y1="482.41" y2="425.59" stroke="#000" stroke-width="2.4"/>
<line x1="57.5" x2="60.5" y1="482.41" y2="482.41" stroke="#000" stroke-width="2.6" stroke-linecap="round"/>
<line x1="92.5" x2="106.5" y1="482.41" y2="482.41" stroke="#000" stroke-width="2.6" stroke-linecap="round"/>
<path d="M187.6,507.54 L187.6,507.54 L187.94,507.31 L188.28,507.15 L188.63,506.97 L188.97,506.79 L189.31,506.6 L189.65,506.39 L189.99,506.17 L190.34,505.92 L190.68,505.65 L191.02,505.36 L191.36,505.04 L191.71,504.69 L192.05,504.32 L192.39,503.91 L192.73,503.54 L193.07,503.27 L193.42,502.99 L193.76,502.69 L194.1,502.37 L194.44,502.04 L194.78,501.68 L195.13,501.32 L195.47,500.93 L195.81,500.53 L196.15,500.1 L196.5,499.66 L196.84,499.2 L197.18,498.71 L197.52,498.21 L197.86,497.69 L198.21,497.14 L198.55,496.57 L198.89,495.98 L199.23,495.37 L199.57,494.73 L199.92,494.08 L200.26,493.39 L200.6,492.69 L200.94,491.96 L201.29,491.21 L201.63,490.44 L201.97,489.65 L202.31,488.83 L202.65,487.99 L203,487.13 L203.34,486.24 L203.68,485.34 L204.02,484.41 L204.36,483.47 L204.71,482.51 L205.05,481.52 L205.39,480.52 L205.73,479.51 L206.08,478.47 L206.42,477.43 L206.76,476.36 L207.1,475.29 L207.44,474.21 L207.79,473.11 L208.13,472.01 L208.47,470.9 L208.81,469.78 L209.15,468.67 L209.5,467.54 L209.84,466.42 L210.18,465.3 L210.52,464.18 L210.87,463.07 L211.21,461.97 L211.55,460.87 L211.89,459.78 L212.23,458.71 L212.58,457.65 L212.92,456.6 L213.26,455.58 L213.6,454.57 L213.94,453.59 L214.29,452.63 L214.63,451.7 L214.97,450.8 L215.31,449.92 L215.66,449.08 L216,448.27 L216.34,447.5 L216.68,446.76 L217.02,446.07 L217.37,445.41 L217.71,444.79 L218.05,444.22 L218.39,443.69 L218.73,443.21 L219.08,442.77 L219.42,442.38 L219.76,442.04 L220.1,441.75 L220.45,441.5 L220.79,441.31 L221.13,441.17 L221.47,441.08 L221.81,441.04 L222.16,441.08 L222.5,441.24 L222.84,441.52 L223.18,441.93 L223.52,442.47 L223.87,443.12 L224.21,443.89 L224.55,444.77 L224.89,445.76 L225.24,446.85 L225.58,448.03 L225.92,449.31 L226.26,450.66 L226.6,452.1 L226.95,453.6 L227.29,455.16 L227.63,456.77 L227.97,458.42 L228.31,460.12 L228.66,461.84 L229,463.59 L229.34,465.35 L229.68,467.12 L230.03,468.89 L230.37,470.65 L230.71,472.4 L231.05,474.13 L231.39,475.83 L231.74,477.51 L232.08,479.16 L232.42,480.76 L232.76,482.32 L233.1,483.84 L233.45,485.31 L233.79,486.73 L234.13,488.09 L234.47,489.4 L234.82,490.66 L235.16,491.85 L235.5,492.99 L235.84,494.08 L236.18,495.11 L236.53,496.08 L236.87,496.99 L237.21,497.85 L237.55,498.66 L237.89,499.42 L238.24,500.39 L238.58,501.38 L238.92,502.28 L239.26,503.09 L239.61,503.82 L239.95,504.47 L240.29,505.06 L240.63,505.59 L240.97,506.06 L241.32,506.5 L241.66,506.93 L242,507.54 L242,507.54Z" fill="url(#gb)"/>
<path d="M187.6,507.54 L187.94,507.31 L188.28,507.15 L188.63,506.97 L188.97,506.79 L189.31,506.6 L189.65,506.39 L189.99,506.17 L190.34,505.92 L190.68,505.65 L191.02,505.36 L191.36,505.04 L191.71,504.69 L192.05,504.32 L192.39,503.91 L192.73,503.54 L193.07,503.27 L193.42,502.99 L193.76,502.69 L194.1,502.37 L194.44,502.04 L194.78,501.68 L195.13,501.32 L195.47,500.93 L195.81,500.53 L196.15,500.1 L196.5,499.66 L196.84,499.2 L197.18,498.71 L197.52,498.21 L197.86,497.69 L198.21,497.14 L198.55,496.57 L198.89,495.98 L199.23,495.37 L199.57,494.73 L199.92,494.08 L200.26,493.39 L200.6,492.69 L200.94,491.96 L201.29,491.21 L201.63,490.44 L201.97,489.65 L202.31,488.83 L202.65,487.99 L203,487.13 L203.34,486.24 L203.68,485.34 L204.02,484.41 L204.36,483.47 L204.71,482.51 L205.05,481.52 L205.39,480.52 L205.73,479.51 L206.08,478.47 L206.42,477.43 L206.76,476.36 L207.1,475.29 L207.44,474.21 L207.79,473.11 L208.13,472.01 L208.47,470.9 L208.81,469.78 L209.15,468.67 L209.5,467.54 L209.84,466.42 L210.18,465.3 L210.52,464.18 L210.87,463.07 L211.21,461.97 L211.55,460.87 L211.89,459.78 L212.23,458.71 L212.58,457.65 L212.92,456.6 L213.26,455.58 L213.6,454.57 L213.94,453.59 L214.29,452.63 L214.63,451.7 L214.97,450.8 L215.31,449.92 L215.66,449.08 L216,448.27 L216.34,447.5 L216.68,446.76 L217.02,446.07 L217.37,445.41 L217.71,444.79 L218.05,444.22 L218.39,443.69 L218.73,443.21 L219.08,442.77 L219.42,442.38 L219.76,442.04 L220.1,441.75 L220.45,441.5 L220.79,441.31 L221.13,441.17 L221.47,441.08 L221.81,441.04 L222.16,441.08 L222.5,441.24 L222.84,441.52 L223.18,441.93 L223.52,442.47 L223.87,443.12 L224.21,443.89 L224.55,444.77 L224.89,445.76 L225.24,446.85 L225.58,448.03 L225.92,449.31 L226.26,450.66 L226.6,452.1 L226.95,453.6 L227.29,455.16 L227.63,456.77 L227.97,458.42 L228.31,460.12 L228.66,461.84 L229,463.59 L229.34,465.35 L229.68,467.12 L230.03,468.89 L230.37,470.65 L230.71,472.4 L231.05,474.13 L231.39,475.83 L231.74,477.51 L232.08,479.16 L232.42,480.76 L232.76,482.32 L233.1,483.84 L233.45,485.31 L233.79,486.73 L234.13,488.09 L234.47,489.4 L234.82,490.66 L235.16,491.85 L235.5,492.99 L235.84,494.08 L236.18,495.11 L236.53,496.08 L236.87,496.99 L237.21,497.85 L237.55,498.66 L237.89,499.42 L238.24,500.39 L238.58,501.38 L238.92,502.28 L239.26,503.09 L239.61,503.82 L239.95,504.47 L240.29,505.06 L240.63,505.59 L240.97,506.06 L241.32,506.5 L241.66,506.93 L242,507.54" fill="none" stroke="#000" stroke-width="2.6" stroke-linejoin="round" stroke-linecap="round"/>
<line x1="220.5" x2="220.5" y1="507.54" y2="440.87" stroke="#000" stroke-width="2.4"/>
<path d="M188.5,532.67 L188.5,532.67 L188.84,532.49 L189.17,532.35 L189.51,532.21 L189.85,532.06 L190.18,531.91 L190.52,531.73 L190.86,531.55 L191.19,531.34 L191.53,531.12 L191.86,530.88 L192.2,530.61 L192.54,530.32 L192.87,530 L193.21,529.66 L193.55,529.31 L193.88,529.07 L194.22,528.82 L194.56,528.56 L194.89,528.28 L195.23,527.99 L195.57,527.68 L195.9,527.35 L196.24,527.01 L196.58,526.65 L196.91,526.27 L197.25,525.87 L197.58,525.45 L197.92,525.02 L198.26,524.56 L198.59,524.08 L198.93,523.58 L199.27,523.06 L199.6,522.51 L199.94,521.95 L200.28,521.36 L200.61,520.74 L200.95,520.1 L201.29,519.44 L201.62,518.76 L201.96,518.05 L202.3,517.31 L202.63,516.55 L202.97,515.76 L203.31,514.95 L203.64,514.12 L203.98,513.26 L204.31,512.37 L204.65,511.46 L204.99,510.53 L205.32,509.57 L205.66,508.59 L206,507.58 L206.33,506.56 L206.67,505.51 L207.01,504.44 L207.34,503.35 L207.68,502.24 L208.02,501.11 L208.35,499.97 L208.69,498.81 L209.03,497.63 L209.36,496.44 L209.7,495.24 L210.03,494.03 L210.37,492.81 L210.71,491.58 L211.04,490.34 L211.38,489.1 L211.72,487.86 L212.05,486.61 L212.39,485.37 L212.73,484.13 L213.06,482.89 L213.4,481.66 L213.74,480.44 L214.07,479.23 L214.41,478.04 L214.75,476.85 L215.08,475.69 L215.42,474.54 L215.75,473.42 L216.09,472.32 L216.43,471.24 L216.76,470.2 L217.1,469.18 L217.44,468.19 L217.77,467.24 L218.11,466.32 L218.45,465.44 L218.78,464.6 L219.12,463.8 L219.46,463.05 L219.79,462.33 L220.13,461.67 L220.47,461.05 L220.8,460.48 L221.14,459.96 L221.47,459.49 L221.81,459.07 L222.15,458.71 L222.48,458.4 L222.82,458.14 L223.16,457.94 L223.49,457.79 L223.83,457.7 L224.17,457.67 L224.5,457.73 L224.84,457.92 L225.18,458.25 L225.51,458.72 L225.85,459.33 L226.19,460.06 L226.52,460.92 L226.86,461.9 L227.19,463 L227.53,464.21 L227.87,465.52 L228.2,466.93 L228.54,468.43 L228.88,470.01 L229.21,471.67 L229.55,473.39 L229.89,475.17 L230.22,477.01 L230.56,478.88 L230.9,480.79 L231.23,482.72 L231.57,484.67 L231.91,486.63 L232.24,488.59 L232.58,490.55 L232.92,492.49 L233.25,494.42 L233.59,496.32 L233.92,498.19 L234.26,500.03 L234.6,501.82 L234.93,503.57 L235.27,505.28 L235.61,506.93 L235.94,508.52 L236.28,510.06 L236.62,511.54 L236.95,512.96 L237.29,514.32 L237.63,515.62 L237.96,516.86 L238.3,518.69 L238.64,520.47 L238.97,522.11 L239.31,523.61 L239.64,524.98 L239.98,526.24 L240.32,527.4 L240.65,528.45 L240.99,529.43 L241.33,530.36 L241.66,531.28 L242,532.67 L242,532.67Z" fill="url(#gb)"/>
<path d="M188.5,532.67 L188.84,532.49 L189.17,532.35 L189.51,532.21 L189.85,532.06 L190.18,531.91 L190.52,531.73 L190.86,531.55 L191.19,531.34 L191.53,531.12 L191.86,530.88 L192.2,530.61 L192.54,530.32 L192.87,530 L193.21,529.66 L193.55,529.31 L193.88,529.07 L194.22,528.82 L194.56,528.56 L194.89,528.28 L195.23,527.99 L195.57,527.68 L195.9,527.35 L196.24,527.01 L196.58,526.65 L196.91,526.27 L197.25,525.87 L197.58,525.45 L197.92,525.02 L198.26,524.56 L198.59,524.08 L198.93,523.58 L199.27,523.06 L199.6,522.51 L199.94,521.95 L200.28,521.36 L200.61,520.74 L200.95,520.1 L201.29,519.44 L201.62,518.76 L201.96,518.05 L202.3,517.31 L202.63,516.55 L202.97,515.76 L203.31,514.95 L203.64,514.12 L203.98,513.26 L204.31,512.37 L204.65,511.46 L204.99,510.53 L205.32,509.57 L205.66,508.59 L206,507.58 L206.33,506.56 L206.67,505.51 L207.01,504.44 L207.34,503.35 L207.68,502.24 L208.02,501.11 L208.35,499.97 L208.69,498.81 L209.03,497.63 L209.36,496.44 L209.7,495.24 L210.03,494.03 L210.37,492.81 L210.71,491.58 L211.04,490.34 L211.38,489.1 L211.72,487.86 L212.05,486.61 L212.39,485.37 L212.73,484.13 L213.06,482.89 L213.4,481.66 L213.74,480.44 L214.07,479.23 L214.41,478.04 L214.75,476.85 L215.08,475.69 L215.42,474.54 L215.75,473.42 L216.09,472.32 L216.43,471.24 L216.76,470.2 L217.1,469.18 L217.44,468.19 L217.77,467.24 L218.11,466.32 L218.45,465.44 L218.78,464.6 L219.12,463.8 L219.46,463.05 L219.79,462.33 L220.13,461.67 L220.47,461.05 L220.8,460.48 L221.14,459.96 L221.47,459.49 L221.81,459.07 L222.15,458.71 L222.48,458.4 L222.82,458.14 L223.16,457.94 L223.49,457.79 L223.83,457.7 L224.17,457.67 L224.5,457.73 L224.84,457.92 L225.18,458.25 L225.51,458.72 L225.85,459.33 L226.19,460.06 L226.52,460.92 L226.86,461.9 L227.19,463 L227.53,464.21 L227.87,465.52 L228.2,466.93 L228.54,468.43 L228.88,470.01 L229.21,471.67 L229.55,473.39 L229.89,475.17 L230.22,477.01 L230.56,478.88 L230.9,480.79 L231.23,482.72 L231.57,484.67 L231.91,486.63 L232.24,488.59 L232.58,490.55 L232.92,492.49 L233.25,494.42 L233.59,496.32 L233.92,498.19 L234.26,500.03 L234.6,501.82 L234.93,503.57 L235.27,505.28 L235.61,506.93 L235.94,508.52 L236.28,510.06 L236.62,511.54 L236.95,512.96 L237.29,514.32 L237.63,515.62 L237.96,516.86 L238.3,518.69 L238.64,520.47 L238.97,522.11 L239.31,523.61 L239.64,524.98 L239.98,526.24 L240.32,527.4 L240.65,528.45 L240.99,529.43 L241.33,530.36 L241.66,531.28 L242,532.67" fill="none" stroke="#000" stroke-width="2.6" stroke-linejoin="round" stroke-linecap="round"/>
<line x1="220.4" x2="220.4" y1="532.67" y2="460.57" stroke="#000" stroke-width="2.4"/>
<path d="M188.5,557.8 L188.5,557.8 L188.84,557.58 L189.17,557.41 L189.51,557.24 L189.85,557.06 L190.18,556.87 L190.52,556.66 L190.86,556.44 L191.19,556.2 L191.53,555.93 L191.86,555.65 L192.2,555.33 L192.54,554.99 L192.87,554.62 L193.21,554.22 L193.55,553.82 L193.88,553.55 L194.22,553.27 L194.56,552.97 L194.89,552.66 L195.23,552.33 L195.57,551.98 L195.9,551.62 L196.24,551.24 L196.58,550.84 L196.91,550.42 L197.25,549.98 L197.58,549.52 L197.92,549.04 L198.26,548.54 L198.59,548.02 L198.93,547.48 L199.27,546.92 L199.6,546.33 L199.94,545.73 L200.28,545.09 L200.61,544.44 L200.95,543.76 L201.29,543.06 L201.62,542.34 L201.96,541.59 L202.3,540.82 L202.63,540.03 L202.97,539.21 L203.31,538.38 L203.64,537.51 L203.98,536.63 L204.31,535.72 L204.65,534.79 L204.99,533.84 L205.32,532.87 L205.66,531.88 L206,530.88 L206.33,529.85 L206.67,528.8 L207.01,527.74 L207.34,526.67 L207.68,525.57 L208.02,524.47 L208.35,523.35 L208.69,522.23 L209.03,521.09 L209.36,519.94 L209.7,518.79 L210.03,517.64 L210.37,516.48 L210.71,515.32 L211.04,514.16 L211.38,513 L211.72,511.84 L212.05,510.69 L212.39,509.55 L212.73,508.41 L213.06,507.29 L213.4,506.18 L213.74,505.09 L214.07,504.01 L214.41,502.95 L214.75,501.91 L215.08,500.9 L215.42,499.91 L215.75,498.95 L216.09,498.02 L216.43,497.11 L216.76,496.24 L217.1,495.41 L217.44,494.61 L217.77,493.84 L218.11,493.12 L218.45,492.44 L218.78,491.8 L219.12,491.2 L219.46,490.65 L219.79,490.14 L220.13,489.68 L220.47,489.27 L220.8,488.91 L221.14,488.6 L221.47,488.34 L221.81,488.13 L222.15,487.97 L222.48,487.86 L222.82,487.81 L223.16,487.81 L223.49,487.94 L223.83,488.2 L224.17,488.58 L224.5,489.09 L224.84,489.72 L225.18,490.47 L225.51,491.34 L225.85,492.32 L226.19,493.4 L226.52,494.58 L226.86,495.86 L227.19,497.23 L227.53,498.67 L227.87,500.19 L228.2,501.77 L228.54,503.41 L228.88,505.1 L229.21,506.83 L229.55,508.6 L229.89,510.4 L230.22,512.21 L230.56,514.04 L230.9,515.87 L231.23,517.7 L231.57,519.52 L231.91,521.32 L232.24,523.11 L232.58,524.87 L232.92,526.6 L233.25,528.29 L233.59,529.94 L233.92,531.55 L234.26,533.11 L234.6,534.62 L234.93,536.08 L235.27,537.49 L235.61,538.84 L235.94,540.13 L236.28,541.37 L236.62,542.55 L236.95,543.67 L237.29,544.73 L237.63,545.73 L237.96,546.68 L238.3,548.04 L238.64,549.34 L238.97,550.52 L239.31,551.6 L239.64,552.57 L239.98,553.46 L240.32,554.26 L240.65,554.99 L240.99,555.66 L241.33,556.28 L241.66,556.89 L242,557.8 L242,557.8Z" fill="url(#gb)"/>
<path d="M188.5,557.8 L188.84,557.58 L189.17,557.41 L189.51,557.24 L189.85,557.06 L190.18,556.87 L190.52,556.66 L190.86,556.44 L191.19,556.2 L191.53,555.93 L191.86,555.65 L192.2,555.33 L192.54,554.99 L192.87,554.62 L193.21,554.22 L193.55,553.82 L193.88,553.55 L194.22,553.27 L194.56,552.97 L194.89,552.66 L195.23,552.33 L195.57,551.98 L195.9,551.62 L196.24,551.24 L196.58,550.84 L196.91,550.42 L197.25,549.98 L197.58,549.52 L197.92,549.04 L198.26,548.54 L198.59,548.02 L198.93,547.48 L199.27,546.92 L199.6,546.33 L199.94,545.73 L200.28,545.09 L200.61,544.44 L200.95,543.76 L201.29,543.06 L201.62,542.34 L201.96,541.59 L202.3,540.82 L202.63,540.03 L202.97,539.21 L203.31,538.38 L203.64,537.51 L203.98,536.63 L204.31,535.72 L204.65,534.79 L204.99,533.84 L205.32,532.87 L205.66,531.88 L206,530.88 L206.33,529.85 L206.67,528.8 L207.01,527.74 L207.34,526.67 L207.68,525.57 L208.02,524.47 L208.35,523.35 L208.69,522.23 L209.03,521.09 L209.36,519.94 L209.7,518.79 L210.03,517.64 L210.37,516.48 L210.71,515.32 L211.04,514.16 L211.38,513 L211.72,511.84 L212.05,510.69 L212.39,509.55 L212.73,508.41 L213.06,507.29 L213.4,506.18 L213.74,505.09 L214.07,504.01 L214.41,502.95 L214.75,501.91 L215.08,500.9 L215.42,499.91 L215.75,498.95 L216.09,498.02 L216.43,497.11 L216.76,496.24 L217.1,495.41 L217.44,494.61 L217.77,493.84 L218.11,493.12 L218.45,492.44 L218.78,491.8 L219.12,491.2 L219.46,490.65 L219.79,490.14 L220.13,489.68 L220.47,489.27 L220.8,488.91 L221.14,488.6 L221.47,488.34 L221.81,488.13 L222.15,487.97 L222.48,487.86 L222.82,487.81 L223.16,487.81 L223.49,487.94 L223.83,488.2 L224.17,488.58 L224.5,489.09 L224.84,489.72 L225.18,490.47 L225.51,491.34 L225.85,492.32 L226.19,493.4 L226.52,494.58 L226.86,495.86 L227.19,497.23 L227.53,498.67 L227.87,500.19 L228.2,501.77 L228.54,503.41 L228.88,505.1 L229.21,506.83 L229.55,508.6 L229.89,510.4 L230.22,512.21 L230.56,514.04 L230.9,515.87 L231.23,517.7 L231.57,519.52 L231.91,521.32 L232.24,523.11 L232.58,524.87 L232.92,526.6 L233.25,528.29 L233.59,529.94 L233.92,531.55 L234.26,533.11 L234.6,534.62 L234.93,536.08 L235.27,537.49 L235.61,538.84 L235.94,540.13 L236.28,541.37 L236.62,542.55 L236.95,543.67 L237.29,544.73 L237.63,545.73 L237.96,546.68 L238.3,548.04 L238.64,549.34 L238.97,550.52 L239.31,551.6 L239.64,552.57 L239.98,553.46 L240.32,554.26 L240.65,554.99 L240.99,555.66 L241.33,556.28 L241.66,556.89 L242,557.8" fill="none" stroke="#000" stroke-width="2.6" stroke-linejoin="round" stroke-linecap="round"/>
<line x1="220.3" x2="220.3" y1="557.80" y2="488.87" stroke="#000" stroke-width="2.4"/>
</g>
<rect x="37.0" y="254.2" width="216.0" height="317.50000000000006" fill="none" stroke="#000" stroke-width="2.2"/>
<line x1="32.3" x2="37.0" y1="557.80" y2="557.80" stroke="#000" stroke-width="2.5"/>
<text x="29.2" y="562.80" text-anchor="end" font-family='"Liberation Sans", sans-serif' font-weight="bold" font-size="12.6">19</text>
<line x1="32.3" x2="37.0" y1="532.67" y2="532.67" stroke="#000" stroke-width="2.5"/>
<text x="29.2" y="537.67" text-anchor="end" font-family='"Liberation Sans", sans-serif' font-weight="bold" font-size="12.6">20</text>
<line x1="32.3" x2="37.0" y1="507.54" y2="507.54" stroke="#000" stroke-width="2.5"/>
<text x="29.2" y="512.54" text-anchor="end" font-family='"Liberation Sans", sans-serif' font-weight="bold" font-size="12.6">21</text>
<line x1="32.3" x2="37.0" y1="482.41" y2="482.41" stroke="#000" stroke-width="2.5"/>
<text x="29.2" y="487.41" text-anchor="end" font-family='"Liberation Sans", sans-serif' font-weight="bold" font-size="12.6">22</text>
<line x1="32.3" x2="37.0" y1="457.28" y2="457.28" stroke="#000" stroke-width="2.5"/>
<text x="29.2" y="462.28" text-anchor="end" font-family='"Liberation Sans", sans-serif' font-weight="bold" font-size="12.6">23</text>
<line x1="32.3" x2="37.0" y1="432.15" y2="432.15" stroke="#000" stroke-width="2.5"/>
<text x="29.2" y="437.15" text-anchor="end" font-family='"Liberation Sans", sans-serif' font-weight="bold" font-size="12.6">24</text>
<line x1="32.3" x2="37.0" y1="407.02" y2="407.02" stroke="#000" stroke-width="2.5"/>
<text x="29.2" y="412.02" text-anchor="end" font-family='"Liberation Sans", sans-serif' font-weight="bold" font-size="12.6">25</text>
<line x1="32.3" x2="37.0" y1="381.89" y2="381.89" stroke="#000" stroke-width="2.5"/>
<text x="29.2" y="386.89" text-anchor="end" font-family='"Liberation Sans", sans-serif' font-weight="bold" font-size="12.6">26</text>
<line x1="32.3" x2="37.0" y1="356.76" y2="356.76" stroke="#000" stroke-width="2.5"/>
<text x="29.2" y="361.76" text-anchor="end" font-family='"Liberation Sans", sans-serif' font-weight="bold" font-size="12.6">27</text>
<line x1="32.3" x2="37.0" y1="331.63" y2="331.63" stroke="#000" stroke-width="2.5"/>
<text x="29.2" y="336.63" text-anchor="end" font-family='"Liberation Sans", sans-serif' font-weight="bold" font-size="12.6">28</text>
<line x1="32.3" x2="37.0" y1="306.50" y2="306.50" stroke="#000" stroke-width="2.5"/>
<text x="29.2" y="311.50" text-anchor="end" font-family='"Liberation Sans", sans-serif' font-weight="bold" font-size="12.6">29</text>
<line x1="32.3" x2="37.0" y1="281.37" y2="281.37" stroke="#000" stroke-width="2.5"/>
<text x="29.2" y="286.37" text-anchor="end" font-family='"Liberation Sans", sans-serif' font-weight="bold" font-size="12.6">30</text>
<line x1="59.50" x2="59.50" y1="571.7" y2="576.3" stroke="#000" stroke-width="2.5"/>
<text x="59.50" y="588.9" text-anchor="middle" font-family='"Liberation Sans", sans-serif' font-weight="bold" font-size="12.6">0</text>
<line x1="112.70" x2="112.70" y1="571.7" y2="576.3" stroke="#000" stroke-width="2.5"/>
<text x="112.70" y="588.9" text-anchor="middle" font-family='"Liberation Sans", sans-serif' font-weight="bold" font-size="12.6">25</text>
<line x1="165.90" x2="165.90" y1="571.7" y2="576.3" stroke="#000" stroke-width="2.5"/>
<text x="165.90" y="588.9" text-anchor="middle" font-family='"Liberation Sans", sans-serif' font-weight="bold" font-size="12.6">50</text>
<line x1="219.10" x2="219.10" y1="571.7" y2="576.3" stroke="#000" stroke-width="2.5"/>
<text x="219.10" y="588.9" text-anchor="middle" font-family='"Liberation Sans", sans-serif' font-weight="bold" font-size="12.6">75</text>
<text x="145" y="603.2" text-anchor="middle" font-family='"Liberation Sans", sans-serif' font-weight="bold" font-size="12.6">Speed</text>
<text transform="translate(9.4,412.4) rotate(-90)" text-anchor="middle" font-family='"Liberation Sans", sans-serif' font-weight="bold" font-size="12.6">Week</text>
<text x="145" y="243.2" text-anchor="middle" font-family='"Liberation Sans", sans-serif' font-weight="bold" font-size="12.9">Speed Ridgeline Distribution by Week</text>
<text x="48.3" y="276" font-family='"Liberation Sans", sans-serif' font-weight="bold" font-size="15" letter-spacing="0.9">(b)</text>
<line x1="350.78" x2="350.78" y1="254.2" y2="571.8" stroke="#e9e9e9" stroke-width="0.8"/>
<line x1="391.73" x2="391.73" y1="254.2" y2="571.8" stroke="#e9e9e9" stroke-width="0.8"/>
<line x1="432.68" x2="432.68" y1="254.2" y2="571.8" stroke="#e9e9e9" stroke-width="0.8"/>
<line x1="473.62" x2="473.62" y1="254.2" y2="571.8" stroke="#e9e9e9" stroke-width="0.8"/>
<line x1="514.58" x2="514.58" y1="254.2" y2="571.8" stroke="#e9e9e9" stroke-width="0.8"/>
<line x1="555.52" x2="555.52" y1="254.2" y2="571.8" stroke="#e9e9e9" stroke-width="0.8"/>
<line x1="330.30" x2="330.30" y1="254.2" y2="571.8" stroke="#d6d6d6" stroke-width="1.2"/>
<line x1="371.25" x2="371.25" y1="254.2" y2="571.8" stroke="#d6d6d6" stroke-width="1.2"/>
<line x1="412.20" x2="412.20" y1="254.2" y2="571.8" stroke="#d6d6d6" stroke-width="1.2"/>
<line x1="453.15" x2="453.15" y1="254.2" y2="571.8" stroke="#d6d6d6" stroke-width="1.2"/>
<line x1="494.10" x2="494.10" y1="254.2" y2="571.8" stroke="#d6d6d6" stroke-width="1.2"/>
<line x1="535.05" x2="535.05" y1="254.2" y2="571.8" stroke="#d6d6d6" stroke-width="1.2"/>
<line x1="325.0" x2="540.9" y1="559.00" y2="559.00" stroke="#d6d6d6" stroke-width="1.2"/>
<line x1="325.0" x2="540.9" y1="535.42" y2="535.42" stroke="#d6d6d6" stroke-width="1.2"/>
<line x1="325.0" x2="540.9" y1="511.84" y2="511.84" stroke="#d6d6d6" stroke-width="1.2"/>
<line x1="325.0" x2="540.9" y1="488.26" y2="488.26" stroke="#d6d6d6" stroke-width="1.2"/>
<line x1="325.0" x2="540.9" y1="464.68" y2="464.68" stroke="#d6d6d6" stroke-width="1.2"/>
<line x1="325.0" x2="540.9" y1="441.10" y2="441.10" stroke="#d6d6d6" stroke-width="1.2"/>
<line x1="325.0" x2="540.9" y1="417.52" y2="417.52" stroke="#d6d6d6" stroke-width="1.2"/>
<line x1="325.0" x2="540.9" y1="393.94" y2="393.94" stroke="#d6d6d6" stroke-width="1.2"/>
<line x1="325.0" x2="540.9" y1="370.36" y2="370.36" stroke="#d6d6d6" stroke-width="1.2"/>
<line x1="325.0" x2="540.9" y1="346.78" y2="346.78" stroke="#d6d6d6" stroke-width="1.2"/>
<line x1="325.0" x2="540.9" y1="323.20" y2="323.20" stroke="#d6d6d6" stroke-width="1.2"/>
<line x1="325.0" x2="540.9" y1="299.62" y2="299.62" stroke="#d6d6d6" stroke-width="1.2"/>
<g clip-path="url(#cc)">
<path d="M346.3,299.62 L346.3,299.62 L346.79,299.07 L347.43,298.44 L348.19,297.7 L349.03,296.87 L349.94,295.93 L350.89,294.89 L351.85,293.74 L352.79,292.48 L353.68,291.11 L354.5,289.62 L355.27,287.93 L356.04,286.01 L356.79,283.91 L357.54,281.68 L358.28,279.37 L359,277.04 L359.72,274.75 L360.42,272.55 L361.12,270.49 L361.8,268.62 L362.47,266.88 L363.15,265.16 L363.81,263.5 L364.46,261.89 L365.11,260.37 L365.73,258.95 L366.34,257.64 L366.92,256.48 L367.47,255.46 L368,254.62 L368.47,253.9 L368.87,253.27 L369.21,252.73 L369.53,252.32 L369.84,252.06 L370.17,251.96 L370.52,252.04 L370.93,252.33 L371.42,252.85 L372,253.62 L372.69,254.77 L373.49,256.35 L374.36,258.26 L375.28,260.4 L376.24,262.68 L377.2,265 L378.16,267.25 L379.07,269.33 L379.93,271.16 L380.7,272.62 L381.38,273.74 L382,274.64 L382.56,275.34 L383.08,275.91 L383.59,276.37 L384.1,276.77 L384.63,277.16 L385.19,277.56 L385.81,278.04 L386.5,278.62 L387.25,279.28 L388.02,279.96 L388.83,280.66 L389.67,281.37 L390.54,282.09 L391.43,282.81 L392.36,283.53 L393.31,284.24 L394.29,284.94 L395.3,285.62 L396.33,286.35 L397.39,287.16 L398.48,288.02 L399.59,288.88 L400.74,289.71 L401.91,290.48 L403.11,291.14 L404.34,291.66 L405.61,292 L406.9,292.12 L408.25,291.99 L409.68,291.63 L411.15,291.08 L412.67,290.38 L414.2,289.59 L415.73,288.74 L417.25,287.87 L418.72,287.03 L420.15,286.27 L421.5,285.62 L422.75,285.02 L423.9,284.37 L424.99,283.71 L426.03,283.06 L427.06,282.43 L428.11,281.86 L429.21,281.37 L430.39,280.99 L431.68,280.73 L433.1,280.62 L434.68,280.66 L436.4,280.82 L438.22,281.08 L440.13,281.45 L442.08,281.9 L444.05,282.43 L446.01,283.03 L447.92,283.68 L449.76,284.38 L451.5,285.12 L453.18,285.97 L454.85,286.99 L456.5,288.13 L458.12,289.34 L459.71,290.59 L461.24,291.82 L462.7,292.98 L464.09,294.03 L465.4,294.93 L466.6,295.62 L467.65,296.1 L468.54,296.4 L469.29,296.56 L469.96,296.62 L470.59,296.61 L471.21,296.55 L471.87,296.49 L472.61,296.46 L473.48,296.49 L474.5,296.62 L475.75,296.83 L477.21,297.09 L478.82,297.39 L480.52,297.71 L482.24,298.03 L483.93,298.35 L485.51,298.65 L486.92,298.93 L488.11,299.15 L489,299.32 L489,299.62Z" fill="url(#gc)"/>
<line x1="399.5" x2="399.5" y1="299.62" y2="288.81" stroke="#000" stroke-width="2.2"/>
<path d="M346.3,299.62 L346.79,299.07 L347.43,298.44 L348.19,297.7 L349.03,296.87 L349.94,295.93 L350.89,294.89 L351.85,293.74 L352.79,292.48 L353.68,291.11 L354.5,289.62 L355.27,287.93 L356.04,286.01 L356.79,283.91 L357.54,281.68 L358.28,279.37 L359,277.04 L359.72,274.75 L360.42,272.55 L361.12,270.49 L361.8,268.62 L362.47,266.88 L363.15,265.16 L363.81,263.5 L364.46,261.89 L365.11,260.37 L365.73,258.95 L366.34,257.64 L366.92,256.48 L367.47,255.46 L368,254.62 L368.47,253.9 L368.87,253.27 L369.21,252.73 L369.53,252.32 L369.84,252.06 L370.17,251.96 L370.52,252.04 L370.93,252.33 L371.42,252.85 L372,253.62 L372.69,254.77 L373.49,256.35 L374.36,258.26 L375.28,260.4 L376.24,262.68 L377.2,265 L378.16,267.25 L379.07,269.33 L379.93,271.16 L380.7,272.62 L381.38,273.74 L382,274.64 L382.56,275.34 L383.08,275.91 L383.59,276.37 L384.1,276.77 L384.63,277.16 L385.19,277.56 L385.81,278.04 L386.5,278.62 L387.25,279.28 L388.02,279.96 L388.83,280.66 L389.67,281.37 L390.54,282.09 L391.43,282.81 L392.36,283.53 L393.31,284.24 L394.29,284.94 L395.3,285.62 L396.33,286.35 L397.39,287.16 L398.48,288.02 L399.59,288.88 L400.74,289.71 L401.91,290.48 L403.11,291.14 L404.34,291.66 L405.61,292 L406.9,292.12 L408.25,291.99 L409.68,291.63 L411.15,291.08 L412.67,290.38 L414.2,289.59 L415.73,288.74 L417.25,287.87 L418.72,287.03 L420.15,286.27 L421.5,285.62 L422.75,285.02 L423.9,284.37 L424.99,283.71 L426.03,283.06 L427.06,282.43 L428.11,281.86 L429.21,281.37 L430.39,280.99 L431.68,280.73 L433.1,280.62 L434.68,280.66 L436.4,280.82 L438.22,281.08 L440.13,281.45 L442.08,281.9 L444.05,282.43 L446.01,283.03 L447.92,283.68 L449.76,284.38 L451.5,285.12 L453.18,285.97 L454.85,286.99 L456.5,288.13 L458.12,289.34 L459.71,290.59 L461.24,291.82 L462.7,292.98 L464.09,294.03 L465.4,294.93 L466.6,295.62 L467.65,296.1 L468.54,296.4 L469.29,296.56 L469.96,296.62 L470.59,296.61 L471.21,296.55 L471.87,296.49 L472.61,296.46 L473.48,296.49 L474.5,296.62 L475.75,296.83 L477.21,297.09 L478.82,297.39 L480.52,297.71 L482.24,298.03 L483.93,298.35 L485.51,298.65 L486.92,298.93 L488.11,299.15 L489,299.32" fill="none" stroke="#000" stroke-width="2.6" stroke-linejoin="round" stroke-linecap="round"/>
<path d="M348.3,323.2 L348.3,323.2 L348.84,322.46 L349.54,321.56 L350.37,320.51 L351.3,319.32 L352.31,318.01 L353.35,316.6 L354.41,315.1 L355.46,313.52 L356.47,311.88 L357.4,310.2 L358.31,308.35 L359.23,306.25 L360.17,303.97 L361.12,301.58 L362.04,299.17 L362.95,296.8 L363.82,294.54 L364.64,292.47 L365.41,290.67 L366.1,289.2 L366.7,288.05 L367.21,287.12 L367.64,286.39 L368.03,285.83 L368.39,285.42 L368.74,285.13 L369.1,284.94 L369.5,284.82 L369.96,284.75 L370.5,284.7 L371.11,284.69 L371.75,284.76 L372.43,284.91 L373.14,285.14 L373.88,285.45 L374.64,285.84 L375.42,286.31 L376.2,286.86 L377,287.49 L377.8,288.2 L378.61,289.05 L379.44,290.07 L380.28,291.22 L381.14,292.46 L382.01,293.76 L382.9,295.08 L383.79,296.37 L384.69,297.59 L385.59,298.72 L386.5,299.7 L387.42,300.57 L388.34,301.4 L389.28,302.17 L390.23,302.89 L391.18,303.56 L392.14,304.18 L393.1,304.75 L394.07,305.28 L395.03,305.76 L396,306.2 L396.93,306.57 L397.8,306.88 L398.64,307.11 L399.48,307.3 L400.34,307.45 L401.24,307.57 L402.21,307.67 L403.28,307.77 L404.47,307.88 L405.8,308 L407.32,308.13 L409.03,308.25 L410.88,308.36 L412.83,308.47 L414.84,308.56 L416.86,308.65 L418.87,308.72 L420.8,308.79 L422.63,308.85 L424.3,308.9 L425.82,308.95 L427.24,309.01 L428.56,309.08 L429.83,309.13 L431.06,309.18 L432.28,309.2 L433.51,309.19 L434.77,309.14 L436.09,309.05 L437.5,308.9 L438.98,308.62 L440.51,308.19 L442.07,307.64 L443.67,307.04 L445.29,306.44 L446.92,305.9 L448.55,305.47 L450.18,305.2 L451.8,305.16 L453.4,305.4 L455.01,305.97 L456.65,306.85 L458.31,307.98 L459.98,309.27 L461.63,310.67 L463.26,312.1 L464.85,313.5 L466.37,314.79 L467.83,315.92 L469.2,316.8 L470.46,317.47 L471.61,318 L472.68,318.43 L473.69,318.77 L474.66,319.04 L475.62,319.27 L476.59,319.48 L477.6,319.69 L478.66,319.92 L479.8,320.2 L481.07,320.51 L482.48,320.83 L483.98,321.15 L485.53,321.46 L487.06,321.76 L488.55,322.05 L489.93,322.31 L491.16,322.54 L492.2,322.74 L493,322.9 L493,323.2Z" fill="url(#gc)"/>
<line x1="405.8" x2="405.8" y1="323.20" y2="308.00" stroke="#000" stroke-width="2.2"/>
<path d="M348.3,323.2 L348.84,322.46 L349.54,321.56 L350.37,320.51 L351.3,319.32 L352.31,318.01 L353.35,316.6 L354.41,315.1 L355.46,313.52 L356.47,311.88 L357.4,310.2 L358.31,308.35 L359.23,306.25 L360.17,303.97 L361.12,301.58 L362.04,299.17 L362.95,296.8 L363.82,294.54 L364.64,292.47 L365.41,290.67 L366.1,289.2 L366.7,288.05 L367.21,287.12 L367.64,286.39 L368.03,285.83 L368.39,285.42 L368.74,285.13 L369.1,284.94 L369.5,284.82 L369.96,284.75 L370.5,284.7 L371.11,284.69 L371.75,284.76 L372.43,284.91 L373.14,285.14 L373.88,285.45 L374.64,285.84 L375.42,286.31 L376.2,286.86 L377,287.49 L377.8,288.2 L378.61,289.05 L379.44,290.07 L380.28,291.22 L381.14,292.46 L382.01,293.76 L382.9,295.08 L383.79,296.37 L384.69,297.59 L385.59,298.72 L386.5,299.7 L387.42,300.57 L388.34,301.4 L389.28,302.17 L390.23,302.89 L391.18,303.56 L392.14,304.18 L393.1,304.75 L394.07,305.28 L395.03,305.76 L396,306.2 L396.93,306.57 L397.8,306.88 L398.64,307.11 L399.48,307.3 L400.34,307.45 L401.24,307.57 L402.21,307.67 L403.28,307.77 L404.47,307.88 L405.8,308 L407.32,308.13 L409.03,308.25 L410.88,308.36 L412.83,308.47 L414.84,308.56 L416.86,308.65 L418.87,308.72 L420.8,308.79 L422.63,308.85 L424.3,308.9 L425.82,308.95 L427.24,309.01 L428.56,309.08 L429.83,309.13 L431.06,309.18 L432.28,309.2 L433.51,309.19 L434.77,309.14 L436.09,309.05 L437.5,308.9 L438.98,308.62 L440.51,308.19 L442.07,307.64 L443.67,307.04 L445.29,306.44 L446.92,305.9 L448.55,305.47 L450.18,305.2 L451.8,305.16 L453.4,305.4 L455.01,305.97 L456.65,306.85 L458.31,307.98 L459.98,309.27 L461.63,310.67 L463.26,312.1 L464.85,313.5 L466.37,314.79 L467.83,315.92 L469.2,316.8 L470.46,317.47 L471.61,318 L472.68,318.43 L473.69,318.77 L474.66,319.04 L475.62,319.27 L476.59,319.48 L477.6,319.69 L478.66,319.92 L479.8,320.2 L481.07,320.51 L482.48,320.83 L483.98,321.15 L485.53,321.46 L487.06,321.76 L488.55,322.05 L489.93,322.31 L491.16,322.54 L492.2,322.74 L493,322.9" fill="none" stroke="#000" stroke-width="2.6" stroke-linejoin="round" stroke-linecap="round"/>
<path d="M349.2,346.78 L349.2,346.78 L349.73,345.7 L350.43,344.3 L351.25,342.64 L352.17,340.78 L353.16,338.78 L354.19,336.7 L355.22,334.6 L356.21,332.54 L357.15,330.58 L358,328.78 L358.78,327.04 L359.56,325.25 L360.31,323.44 L361.05,321.63 L361.77,319.87 L362.47,318.18 L363.14,316.59 L363.79,315.14 L364.41,313.86 L365,312.78 L365.54,311.89 L366.03,311.17 L366.47,310.59 L366.88,310.14 L367.28,309.81 L367.68,309.57 L368.08,309.43 L368.51,309.36 L368.98,309.35 L369.5,309.38 L370.04,309.46 L370.55,309.62 L371.07,309.84 L371.6,310.14 L372.16,310.52 L372.76,310.99 L373.44,311.55 L374.19,312.19 L375.04,312.94 L376,313.78 L377.09,314.81 L378.29,316.06 L379.59,317.48 L380.97,319 L382.42,320.59 L383.91,322.16 L385.43,323.68 L386.96,325.07 L388.49,326.29 L390,327.28 L391.52,328.05 L393.09,328.66 L394.69,329.14 L396.32,329.52 L397.95,329.81 L399.58,330.04 L401.19,330.23 L402.78,330.4 L404.32,330.58 L405.8,330.78 L407.22,331 L408.6,331.22 L409.95,331.41 L411.26,331.59 L412.56,331.73 L413.84,331.84 L415.11,331.9 L416.4,331.92 L417.69,331.88 L419,331.78 L420.3,331.55 L421.57,331.17 L422.82,330.67 L424.07,330.12 L425.32,329.54 L426.61,329 L427.93,328.54 L429.31,328.2 L430.76,328.03 L432.3,328.08 L433.93,328.37 L435.65,328.88 L437.44,329.54 L439.29,330.33 L441.18,331.21 L443.09,332.11 L445.01,333.02 L446.93,333.88 L448.83,334.64 L450.7,335.28 L452.49,335.79 L454.2,336.21 L455.87,336.58 L457.52,336.9 L459.2,337.21 L460.94,337.51 L462.77,337.84 L464.74,338.22 L466.87,338.66 L469.2,339.18 L471.89,339.82 L475,340.58 L478.4,341.43 L481.96,342.32 L485.56,343.22 L489.06,344.11 L492.34,344.94 L495.28,345.69 L497.74,346.31 L499.6,346.78 L499.6,346.78Z" fill="url(#gc)"/>
<line x1="406.9" x2="406.9" y1="346.78" y2="330.95" stroke="#000" stroke-width="2.2"/>
<path d="M349.2,346.78 L349.73,345.7 L350.43,344.3 L351.25,342.64 L352.17,340.78 L353.16,338.78 L354.19,336.7 L355.22,334.6 L356.21,332.54 L357.15,330.58 L358,328.78 L358.78,327.04 L359.56,325.25 L360.31,323.44 L361.05,321.63 L361.77,319.87 L362.47,318.18 L363.14,316.59 L363.79,315.14 L364.41,313.86 L365,312.78 L365.54,311.89 L366.03,311.17 L366.47,310.59 L366.88,310.14 L367.28,309.81 L367.68,309.57 L368.08,309.43 L368.51,309.36 L368.98,309.35 L369.5,309.38 L370.04,309.46 L370.55,309.62 L371.07,309.84 L371.6,310.14 L372.16,310.52 L372.76,310.99 L373.44,311.55 L374.19,312.19 L375.04,312.94 L376,313.78 L377.09,314.81 L378.29,316.06 L379.59,317.48 L380.97,319 L382.42,320.59 L383.91,322.16 L385.43,323.68 L386.96,325.07 L388.49,326.29 L390,327.28 L391.52,328.05 L393.09,328.66 L394.69,329.14 L396.32,329.52 L397.95,329.81 L399.58,330.04 L401.19,330.23 L402.78,330.4 L404.32,330.58 L405.8,330.78 L407.22,331 L408.6,331.22 L409.95,331.41 L411.26,331.59 L412.56,331.73 L413.84,331.84 L415.11,331.9 L416.4,331.92 L417.69,331.88 L419,331.78 L420.3,331.55 L421.57,331.17 L422.82,330.67 L424.07,330.12 L425.32,329.54 L426.61,329 L427.93,328.54 L429.31,328.2 L430.76,328.03 L432.3,328.08 L433.93,328.37 L435.65,328.88 L437.44,329.54 L439.29,330.33 L441.18,331.21 L443.09,332.11 L445.01,333.02 L446.93,333.88 L448.83,334.64 L450.7,335.28 L452.49,335.79 L454.2,336.21 L455.87,336.58 L457.52,336.9 L459.2,337.21 L460.94,337.51 L462.77,337.84 L464.74,338.22 L466.87,338.66 L469.2,339.18 L471.89,339.82 L475,340.58 L478.4,341.43 L481.96,342.32 L485.56,343.22 L489.06,344.11 L492.34,344.94 L495.28,345.69 L497.74,346.31 L499.6,346.78" fill="none" stroke="#000" stroke-width="2.6" stroke-linejoin="round" stroke-linecap="round"/>
<path d="M345.6,370.36 L345.6,370.36 L346.15,369.68 L346.85,368.84 L347.68,367.86 L348.61,366.76 L349.61,365.55 L350.67,364.24 L351.77,362.85 L352.87,361.4 L353.95,359.9 L355,358.36 L356.04,356.68 L357.1,354.77 L358.19,352.7 L359.3,350.54 L360.43,348.35 L361.55,346.21 L362.68,344.17 L363.8,342.31 L364.91,340.68 L366,339.36 L367.09,338.32 L368.18,337.47 L369.28,336.8 L370.37,336.29 L371.46,335.92 L372.54,335.66 L373.59,335.51 L374.63,335.44 L375.63,335.43 L376.6,335.46 L377.54,335.6 L378.48,335.89 L379.39,336.31 L380.28,336.82 L381.15,337.41 L381.99,338.04 L382.8,338.67 L383.57,339.29 L384.31,339.86 L385,340.36 L385.62,340.77 L386.17,341.11 L386.66,341.4 L387.11,341.68 L387.53,341.97 L387.95,342.3 L388.39,342.68 L388.87,343.15 L389.4,343.74 L390,344.46 L390.62,345.36 L391.22,346.45 L391.82,347.66 L392.44,348.98 L393.11,350.34 L393.84,351.7 L394.66,353.03 L395.6,354.28 L396.67,355.4 L397.9,356.36 L399.29,357.21 L400.8,358.02 L402.42,358.79 L404.16,359.5 L405.99,360.13 L407.92,360.68 L409.94,361.12 L412.02,361.44 L414.18,361.62 L416.4,361.66 L418.73,361.46 L421.22,361 L423.82,360.33 L426.52,359.52 L429.27,358.65 L432.05,357.77 L434.82,356.96 L437.56,356.27 L440.23,355.78 L442.8,355.56 L445.31,355.58 L447.81,355.76 L450.3,356.07 L452.77,356.5 L455.2,357.03 L457.59,357.62 L459.94,358.27 L462.23,358.94 L464.45,359.61 L466.6,360.26 L468.64,360.96 L470.56,361.75 L472.39,362.62 L474.15,363.53 L475.88,364.46 L477.6,365.37 L479.35,366.23 L481.14,367.02 L483.02,367.71 L485,368.26 L487.19,368.68 L489.6,369 L492.16,369.24 L494.78,369.4 L497.4,369.51 L499.92,369.58 L502.27,369.62 L504.37,369.66 L506.14,369.7 L507.5,369.76 L507.5,370.36Z" fill="url(#gc)"/>
<line x1="402.6" x2="402.6" y1="370.36" y2="358.87" stroke="#000" stroke-width="2.2"/>
<path d="M345.6,370.36 L346.15,369.68 L346.85,368.84 L347.68,367.86 L348.61,366.76 L349.61,365.55 L350.67,364.24 L351.77,362.85 L352.87,361.4 L353.95,359.9 L355,358.36 L356.04,356.68 L357.1,354.77 L358.19,352.7 L359.3,350.54 L360.43,348.35 L361.55,346.21 L362.68,344.17 L363.8,342.31 L364.91,340.68 L366,339.36 L367.09,338.32 L368.18,337.47 L369.28,336.8 L370.37,336.29 L371.46,335.92 L372.54,335.66 L373.59,335.51 L374.63,335.44 L375.63,335.43 L376.6,335.46 L377.54,335.6 L378.48,335.89 L379.39,336.31 L380.28,336.82 L381.15,337.41 L381.99,338.04 L382.8,338.67 L383.57,339.29 L384.31,339.86 L385,340.36 L385.62,340.77 L386.17,341.11 L386.66,341.4 L387.11,341.68 L387.53,341.97 L387.95,342.3 L388.39,342.68 L388.87,343.15 L389.4,343.74 L390,344.46 L390.62,345.36 L391.22,346.45 L391.82,347.66 L392.44,348.98 L393.11,350.34 L393.84,351.7 L394.66,353.03 L395.6,354.28 L396.67,355.4 L397.9,356.36 L399.29,357.21 L400.8,358.02 L402.42,358.79 L404.16,359.5 L405.99,360.13 L407.92,360.68 L409.94,361.12 L412.02,361.44 L414.18,361.62 L416.4,361.66 L418.73,361.46 L421.22,361 L423.82,360.33 L426.52,359.52 L429.27,358.65 L432.05,357.77 L434.82,356.96 L437.56,356.27 L440.23,355.78 L442.8,355.56 L445.31,355.58 L447.81,355.76 L450.3,356.07 L452.77,356.5 L455.2,357.03 L457.59,357.62 L459.94,358.27 L462.23,358.94 L464.45,359.61 L466.6,360.26 L468.64,360.96 L470.56,361.75 L472.39,362.62 L474.15,363.53 L475.88,364.46 L477.6,365.37 L479.35,366.23 L481.14,367.02 L483.02,367.71 L485,368.26 L487.19,368.68 L489.6,369 L492.16,369.24 L494.78,369.4 L497.4,369.51 L499.92,369.58 L502.27,369.62 L504.37,369.66 L506.14,369.7 L507.5,369.76" fill="none" stroke="#000" stroke-width="2.6" stroke-linejoin="round" stroke-linecap="round"/>
<path d="M344.7,393.94 L344.7,393.94 L345.3,393.41 L346.06,392.82 L346.95,392.15 L347.95,391.38 L349.04,390.5 L350.19,389.5 L351.39,388.36 L352.6,387.06 L353.81,385.59 L355,383.94 L356.19,381.98 L357.43,379.66 L358.7,377.07 L360,374.3 L361.32,371.44 L362.66,368.58 L364.01,365.81 L365.35,363.22 L366.68,360.9 L368,358.94 L369.34,357.25 L370.73,355.68 L372.15,354.24 L373.58,352.95 L374.99,351.81 L376.37,350.85 L377.7,350.07 L378.94,349.48 L380.08,349.1 L381.1,348.94 L381.98,349.05 L382.75,349.46 L383.41,350.12 L383.99,350.98 L384.52,352 L385.01,353.14 L385.48,354.35 L385.95,355.58 L386.45,356.79 L387,357.94 L387.55,359.1 L388.06,360.35 L388.54,361.67 L389.02,363.04 L389.51,364.43 L390.01,365.83 L390.56,367.2 L391.16,368.53 L391.84,369.78 L392.6,370.94 L393.39,372.01 L394.15,373.03 L394.91,373.99 L395.72,374.91 L396.6,375.8 L397.58,376.67 L398.7,377.51 L399.99,378.35 L401.48,379.19 L403.2,380.04 L405.22,380.94 L407.55,381.9 L410.13,382.9 L412.88,383.9 L415.74,384.86 L418.66,385.76 L421.57,386.56 L424.41,387.23 L427.1,387.73 L429.6,388.04 L431.94,388.08 L434.2,387.86 L436.4,387.43 L438.55,386.86 L440.64,386.21 L442.7,385.55 L444.73,384.93 L446.73,384.44 L448.72,384.12 L450.7,384.04 L452.67,384.22 L454.61,384.61 L456.53,385.15 L458.42,385.81 L460.28,386.52 L462.12,387.25 L463.93,387.94 L465.71,388.55 L467.47,389.04 L469.2,389.34 L470.87,389.45 L472.47,389.39 L474.01,389.22 L475.51,388.96 L477.01,388.67 L478.51,388.38 L480.04,388.13 L481.61,387.96 L483.26,387.92 L485,388.04 L486.92,388.35 L489.05,388.81 L491.32,389.39 L493.66,390.05 L495.99,390.76 L498.24,391.47 L500.34,392.15 L502.21,392.77 L503.79,393.28 L505,393.64 L505,393.94Z" fill="url(#gc)"/>
<line x1="398.5" x2="398.5" y1="393.94" y2="377.36" stroke="#000" stroke-width="2.2"/>
<path d="M344.7,393.94 L345.3,393.41 L346.06,392.82 L346.95,392.15 L347.95,391.38 L349.04,390.5 L350.19,389.5 L351.39,388.36 L352.6,387.06 L353.81,385.59 L355,383.94 L356.19,381.98 L357.43,379.66 L358.7,377.07 L360,374.3 L361.32,371.44 L362.66,368.58 L364.01,365.81 L365.35,363.22 L366.68,360.9 L368,358.94 L369.34,357.25 L370.73,355.68 L372.15,354.24 L373.58,352.95 L374.99,351.81 L376.37,350.85 L377.7,350.07 L378.94,349.48 L380.08,349.1 L381.1,348.94 L381.98,349.05 L382.75,349.46 L383.41,350.12 L383.99,350.98 L384.52,352 L385.01,353.14 L385.48,354.35 L385.95,355.58 L386.45,356.79 L387,357.94 L387.55,359.1 L388.06,360.35 L388.54,361.67 L389.02,363.04 L389.51,364.43 L390.01,365.83 L390.56,367.2 L391.16,368.53 L391.84,369.78 L392.6,370.94 L393.39,372.01 L394.15,373.03 L394.91,373.99 L395.72,374.91 L396.6,375.8 L397.58,376.67 L398.7,377.51 L399.99,378.35 L401.48,379.19 L403.2,380.04 L405.22,380.94 L407.55,381.9 L410.13,382.9 L412.88,383.9 L415.74,384.86 L418.66,385.76 L421.57,386.56 L424.41,387.23 L427.1,387.73 L429.6,388.04 L431.94,388.08 L434.2,387.86 L436.4,387.43 L438.55,386.86 L440.64,386.21 L442.7,385.55 L444.73,384.93 L446.73,384.44 L448.72,384.12 L450.7,384.04 L452.67,384.22 L454.61,384.61 L456.53,385.15 L458.42,385.81 L460.28,386.52 L462.12,387.25 L463.93,387.94 L465.71,388.55 L467.47,389.04 L469.2,389.34 L470.87,389.45 L472.47,389.39 L474.01,389.22 L475.51,388.96 L477.01,388.67 L478.51,388.38 L480.04,388.13 L481.61,387.96 L483.26,387.92 L485,388.04 L486.92,388.35 L489.05,388.81 L491.32,389.39 L493.66,390.05 L495.99,390.76 L498.24,391.47 L500.34,392.15 L502.21,392.77 L503.79,393.28 L505,393.64" fill="none" stroke="#000" stroke-width="2.6" stroke-linejoin="round" stroke-linecap="round"/>
<path d="M340.4,417.52 L340.4,417.52 L340.97,416.23 L341.7,414.61 L342.56,412.69 L343.53,410.54 L344.57,408.21 L345.67,405.74 L346.79,403.18 L347.9,400.59 L348.98,398.02 L350,395.52 L351,392.92 L352.04,390.08 L353.09,387.08 L354.16,384 L355.22,380.93 L356.26,377.95 L357.27,375.13 L358.24,372.57 L359.16,370.34 L360,368.52 L360.77,367.1 L361.47,365.97 L362.12,365.11 L362.73,364.48 L363.31,364.06 L363.86,363.81 L364.41,363.7 L364.96,363.7 L365.52,363.79 L366.1,363.92 L366.7,364.17 L367.29,364.59 L367.88,365.17 L368.47,365.88 L369.06,366.7 L369.65,367.6 L370.24,368.55 L370.82,369.54 L371.41,370.54 L372,371.52 L372.59,372.54 L373.17,373.65 L373.75,374.84 L374.34,376.07 L374.92,377.33 L375.5,378.59 L376.09,379.83 L376.69,381.03 L377.29,382.17 L377.9,383.22 L378.52,384.2 L379.16,385.14 L379.81,386.04 L380.46,386.91 L381.11,387.75 L381.77,388.55 L382.42,389.33 L383.06,390.08 L383.69,390.81 L384.3,391.52 L384.85,392.18 L385.32,392.77 L385.74,393.31 L386.15,393.81 L386.56,394.31 L387.03,394.81 L387.57,395.33 L388.22,395.89 L389.02,396.52 L390,397.22 L391.12,398.05 L392.34,399.01 L393.66,400.06 L395.08,401.16 L396.6,402.26 L398.22,403.34 L399.96,404.34 L401.79,405.24 L403.74,405.97 L405.8,406.52 L408.05,406.84 L410.54,406.97 L413.22,406.95 L416.02,406.81 L418.89,406.6 L421.77,406.36 L424.61,406.13 L427.35,405.96 L429.93,405.87 L432.3,405.92 L434.44,406.06 L436.41,406.23 L438.25,406.44 L439.98,406.68 L441.67,406.96 L443.34,407.28 L445.04,407.66 L446.8,408.09 L448.68,408.57 L450.7,409.12 L452.97,409.79 L455.5,410.6 L458.19,411.52 L460.97,412.51 L463.75,413.52 L466.43,414.52 L468.94,415.45 L471.18,416.29 L473.06,417 L474.5,417.52 L474.5,417.52Z" fill="url(#gc)"/>
<line x1="384.5" x2="384.5" y1="417.52" y2="391.76" stroke="#000" stroke-width="2.2"/>
<path d="M340.4,417.52 L340.97,416.23 L341.7,414.61 L342.56,412.69 L343.53,410.54 L344.57,408.21 L345.67,405.74 L346.79,403.18 L347.9,400.59 L348.98,398.02 L350,395.52 L351,392.92 L352.04,390.08 L353.09,387.08 L354.16,384 L355.22,380.93 L356.26,377.95 L357.27,375.13 L358.24,372.57 L359.16,370.34 L360,368.52 L360.77,367.1 L361.47,365.97 L362.12,365.11 L362.73,364.48 L363.31,364.06 L363.86,363.81 L364.41,363.7 L364.96,363.7 L365.52,363.79 L366.1,363.92 L366.7,364.17 L367.29,364.59 L367.88,365.17 L368.47,365.88 L369.06,366.7 L369.65,367.6 L370.24,368.55 L370.82,369.54 L371.41,370.54 L372,371.52 L372.59,372.54 L373.17,373.65 L373.75,374.84 L374.34,376.07 L374.92,377.33 L375.5,378.59 L376.09,379.83 L376.69,381.03 L377.29,382.17 L377.9,383.22 L378.52,384.2 L379.16,385.14 L379.81,386.04 L380.46,386.91 L381.11,387.75 L381.77,388.55 L382.42,389.33 L383.06,390.08 L383.69,390.81 L384.3,391.52 L384.85,392.18 L385.32,392.77 L385.74,393.31 L386.15,393.81 L386.56,394.31 L387.03,394.81 L387.57,395.33 L388.22,395.89 L389.02,396.52 L390,397.22 L391.12,398.05 L392.34,399.01 L393.66,400.06 L395.08,401.16 L396.6,402.26 L398.22,403.34 L399.96,404.34 L401.79,405.24 L403.74,405.97 L405.8,406.52 L408.05,406.84 L410.54,406.97 L413.22,406.95 L416.02,406.81 L418.89,406.6 L421.77,406.36 L424.61,406.13 L427.35,405.96 L429.93,405.87 L432.3,405.92 L434.44,406.06 L436.41,406.23 L438.25,406.44 L439.98,406.68 L441.67,406.96 L443.34,407.28 L445.04,407.66 L446.8,408.09 L448.68,408.57 L450.7,409.12 L452.97,409.79 L455.5,410.6 L458.19,411.52 L460.97,412.51 L463.75,413.52 L466.43,414.52 L468.94,415.45 L471.18,416.29 L473.06,417 L474.5,417.52" fill="none" stroke="#000" stroke-width="2.6" stroke-linejoin="round" stroke-linecap="round"/>
<path d="M338.2,441.1 L338.2,441.1 L338.67,439.64 L339.27,437.78 L339.99,435.6 L340.8,433.14 L341.66,430.48 L342.56,427.66 L343.47,424.75 L344.37,421.82 L345.22,418.92 L346,416.1 L346.74,413.19 L347.47,410.02 L348.2,406.68 L348.92,403.26 L349.64,399.85 L350.34,396.54 L351.03,393.42 L351.7,390.58 L352.36,388.11 L353,386.1 L353.6,384.51 L354.16,383.22 L354.69,382.2 L355.2,381.45 L355.7,380.93 L356.21,380.62 L356.74,380.5 L357.31,380.56 L357.92,380.77 L358.6,381.1 L359.33,381.64 L360.09,382.45 L360.89,383.49 L361.72,384.73 L362.58,386.11 L363.46,387.61 L364.37,389.18 L365.3,390.77 L366.24,392.36 L367.2,393.9 L368.19,395.5 L369.24,397.27 L370.32,399.15 L371.43,401.09 L372.55,403.04 L373.67,404.94 L374.78,406.76 L375.86,408.42 L376.91,409.89 L377.9,411.1 L378.82,412.01 L379.68,412.63 L380.49,413.03 L381.27,413.28 L382.04,413.44 L382.83,413.59 L383.65,413.78 L384.52,414.09 L385.46,414.57 L386.5,415.3 L387.58,416.32 L388.67,417.58 L389.77,419.02 L390.92,420.57 L392.12,422.17 L393.4,423.75 L394.78,425.25 L396.28,426.6 L397.91,427.74 L399.7,428.6 L401.72,429.16 L404.01,429.47 L406.48,429.59 L409.09,429.57 L411.77,429.45 L414.45,429.29 L417.08,429.15 L419.59,429.07 L421.92,429.1 L424,429.3 L425.8,429.64 L427.35,430.05 L428.72,430.51 L429.98,431.03 L431.18,431.59 L432.38,432.17 L433.65,432.78 L435.05,433.39 L436.65,434 L438.5,434.6 L440.72,435.23 L443.3,435.93 L446.14,436.67 L449.13,437.43 L452.16,438.18 L455.11,438.91 L457.88,439.59 L460.36,440.2 L462.43,440.71 L464,441.1 L464,441.1Z" fill="url(#gc)"/>
<line x1="379.7" x2="379.7" y1="441.10" y2="412.64" stroke="#000" stroke-width="2.2"/>
<path d="M338.2,441.1 L338.67,439.64 L339.27,437.78 L339.99,435.6 L340.8,433.14 L341.66,430.48 L342.56,427.66 L343.47,424.75 L344.37,421.82 L345.22,418.92 L346,416.1 L346.74,413.19 L347.47,410.02 L348.2,406.68 L348.92,403.26 L349.64,399.85 L350.34,396.54 L351.03,393.42 L351.7,390.58 L352.36,388.11 L353,386.1 L353.6,384.51 L354.16,383.22 L354.69,382.2 L355.2,381.45 L355.7,380.93 L356.21,380.62 L356.74,380.5 L357.31,380.56 L357.92,380.77 L358.6,381.1 L359.33,381.64 L360.09,382.45 L360.89,383.49 L361.72,384.73 L362.58,386.11 L363.46,387.61 L364.37,389.18 L365.3,390.77 L366.24,392.36 L367.2,393.9 L368.19,395.5 L369.24,397.27 L370.32,399.15 L371.43,401.09 L372.55,403.04 L373.67,404.94 L374.78,406.76 L375.86,408.42 L376.91,409.89 L377.9,411.1 L378.82,412.01 L379.68,412.63 L380.49,413.03 L381.27,413.28 L382.04,413.44 L382.83,413.59 L383.65,413.78 L384.52,414.09 L385.46,414.57 L386.5,415.3 L387.58,416.32 L388.67,417.58 L389.77,419.02 L390.92,420.57 L392.12,422.17 L393.4,423.75 L394.78,425.25 L396.28,426.6 L397.91,427.74 L399.7,428.6 L401.72,429.16 L404.01,429.47 L406.48,429.59 L409.09,429.57 L411.77,429.45 L414.45,429.29 L417.08,429.15 L419.59,429.07 L421.92,429.1 L424,429.3 L425.8,429.64 L427.35,430.05 L428.72,430.51 L429.98,431.03 L431.18,431.59 L432.38,432.17 L433.65,432.78 L435.05,433.39 L436.65,434 L438.5,434.6 L440.72,435.23 L443.3,435.93 L446.14,436.67 L449.13,437.43 L452.16,438.18 L455.11,438.91 L457.88,439.59 L460.36,440.2 L462.43,440.71 L464,441.1" fill="none" stroke="#000" stroke-width="2.6" stroke-linejoin="round" stroke-linecap="round"/>
<path d="M343.6,464.68 L343.6,464.68 L344.09,463.81 L344.72,462.74 L345.45,461.47 L346.28,460.05 L347.18,458.49 L348.12,456.83 L349.1,455.09 L350.08,453.3 L351.06,451.49 L352,449.68 L352.92,447.77 L353.85,445.67 L354.8,443.44 L355.76,441.14 L356.73,438.81 L357.73,436.5 L358.75,434.29 L359.8,432.21 L360.88,430.32 L362,428.68 L363.18,427.21 L364.44,425.82 L365.75,424.53 L367.1,423.35 L368.46,422.31 L369.81,421.41 L371.13,420.68 L372.4,420.14 L373.6,419.8 L374.7,419.68 L375.71,419.84 L376.66,420.3 L377.55,421 L378.4,421.9 L379.21,422.94 L379.98,424.09 L380.74,425.28 L381.49,426.48 L382.24,427.63 L383,428.68 L383.72,429.69 L384.36,430.72 L384.96,431.78 L385.53,432.87 L386.11,433.96 L386.72,435.07 L387.38,436.18 L388.13,437.28 L389,438.39 L390,439.48 L391.15,440.6 L392.44,441.77 L393.82,442.97 L395.3,444.18 L396.83,445.38 L398.4,446.54 L399.99,447.64 L401.56,448.67 L403.11,449.59 L404.6,450.38 L406.02,451.05 L407.39,451.62 L408.72,452.11 L410.05,452.52 L411.39,452.86 L412.77,453.15 L414.21,453.39 L415.73,453.61 L417.35,453.8 L419.1,453.98 L421.03,454.1 L423.16,454.11 L425.43,454.05 L427.8,453.95 L430.2,453.82 L432.59,453.71 L434.92,453.65 L437.13,453.65 L439.17,453.75 L441,453.98 L442.49,454.35 L443.62,454.83 L444.51,455.41 L445.26,456.05 L445.99,456.74 L446.8,457.46 L447.81,458.17 L449.12,458.86 L450.85,459.5 L453.1,460.08 L456.08,460.62 L459.79,461.17 L464.03,461.72 L468.6,462.25 L473.31,462.76 L477.95,463.24 L482.34,463.69 L486.28,464.08 L489.56,464.41 L492,464.68 L492,464.68Z" fill="url(#gc)"/>
<line x1="392.6" x2="392.6" y1="464.68" y2="441.91" stroke="#000" stroke-width="2.2"/>
<path d="M343.6,464.68 L344.09,463.81 L344.72,462.74 L345.45,461.47 L346.28,460.05 L347.18,458.49 L348.12,456.83 L349.1,455.09 L350.08,453.3 L351.06,451.49 L352,449.68 L352.92,447.77 L353.85,445.67 L354.8,443.44 L355.76,441.14 L356.73,438.81 L357.73,436.5 L358.75,434.29 L359.8,432.21 L360.88,430.32 L362,428.68 L363.18,427.21 L364.44,425.82 L365.75,424.53 L367.1,423.35 L368.46,422.31 L369.81,421.41 L371.13,420.68 L372.4,420.14 L373.6,419.8 L374.7,419.68 L375.71,419.84 L376.66,420.3 L377.55,421 L378.4,421.9 L379.21,422.94 L379.98,424.09 L380.74,425.28 L381.49,426.48 L382.24,427.63 L383,428.68 L383.72,429.69 L384.36,430.72 L384.96,431.78 L385.53,432.87 L386.11,433.96 L386.72,435.07 L387.38,436.18 L388.13,437.28 L389,438.39 L390,439.48 L391.15,440.6 L392.44,441.77 L393.82,442.97 L395.3,444.18 L396.83,445.38 L398.4,446.54 L399.99,447.64 L401.56,448.67 L403.11,449.59 L404.6,450.38 L406.02,451.05 L407.39,451.62 L408.72,452.11 L410.05,452.52 L411.39,452.86 L412.77,453.15 L414.21,453.39 L415.73,453.61 L417.35,453.8 L419.1,453.98 L421.03,454.1 L423.16,454.11 L425.43,454.05 L427.8,453.95 L430.2,453.82 L432.59,453.71 L434.92,453.65 L437.13,453.65 L439.17,453.75 L441,453.98 L442.49,454.35 L443.62,454.83 L444.51,455.41 L445.26,456.05 L445.99,456.74 L446.8,457.46 L447.81,458.17 L449.12,458.86 L450.85,459.5 L453.1,460.08 L456.08,460.62 L459.79,461.17 L464.03,461.72 L468.6,462.25 L473.31,462.76 L477.95,463.24 L482.34,463.69 L486.28,464.08 L489.56,464.41 L492,464.68" fill="none" stroke="#000" stroke-width="2.6" stroke-linejoin="round" stroke-linecap="round"/>
<path d="M346.5,488.26 L346.5,488.26 L347,487.33 L347.65,486.18 L348.41,484.82 L349.26,483.3 L350.19,481.63 L351.16,479.86 L352.15,478 L353.13,476.1 L354.09,474.18 L355,472.26 L355.88,470.24 L356.76,468.02 L357.65,465.65 L358.55,463.21 L359.45,460.75 L360.35,458.33 L361.26,456.01 L362.17,453.85 L363.09,451.91 L364,450.26 L364.91,448.84 L365.82,447.56 L366.72,446.42 L367.63,445.42 L368.54,444.56 L369.46,443.85 L370.4,443.28 L371.35,442.86 L372.31,442.58 L373.3,442.46 L374.33,442.55 L375.4,442.9 L376.5,443.46 L377.61,444.19 L378.74,445.02 L379.85,445.93 L380.95,446.85 L382.02,447.74 L383.04,448.56 L384,449.26 L384.85,449.83 L385.57,450.3 L386.2,450.73 L386.79,451.13 L387.37,451.54 L388.01,451.99 L388.74,452.52 L389.6,453.15 L390.64,453.92 L391.9,454.86 L393.41,455.99 L395.12,457.3 L397,458.75 L399.02,460.3 L401.12,461.93 L403.29,463.59 L405.48,465.26 L407.65,466.9 L409.77,468.48 L411.8,469.96 L413.77,471.41 L415.73,472.91 L417.68,474.43 L419.63,475.94 L421.58,477.41 L423.53,478.82 L425.47,480.14 L427.41,481.33 L429.36,482.38 L431.3,483.26 L433.23,483.93 L435.13,484.42 L437.01,484.75 L438.89,484.95 L440.78,485.07 L442.69,485.14 L444.62,485.19 L446.59,485.25 L448.61,485.36 L450.7,485.56 L452.96,485.83 L455.44,486.12 L458.06,486.43 L460.74,486.74 L463.41,487.05 L465.98,487.36 L468.38,487.64 L470.51,487.89 L472.32,488.1 L473.7,488.26 L473.7,488.26Z" fill="url(#gc)"/>
<line x1="389.4" x2="389.4" y1="488.26" y2="453.01" stroke="#000" stroke-width="2.2"/>
<path d="M346.5,488.26 L347,487.33 L347.65,486.18 L348.41,484.82 L349.26,483.3 L350.19,481.63 L351.16,479.86 L352.15,478 L353.13,476.1 L354.09,474.18 L355,472.26 L355.88,470.24 L356.76,468.02 L357.65,465.65 L358.55,463.21 L359.45,460.75 L360.35,458.33 L361.26,456.01 L362.17,453.85 L363.09,451.91 L364,450.26 L364.91,448.84 L365.82,447.56 L366.72,446.42 L367.63,445.42 L368.54,444.56 L369.46,443.85 L370.4,443.28 L371.35,442.86 L372.31,442.58 L373.3,442.46 L374.33,442.55 L375.4,442.9 L376.5,443.46 L377.61,444.19 L378.74,445.02 L379.85,445.93 L380.95,446.85 L382.02,447.74 L383.04,448.56 L384,449.26 L384.85,449.83 L385.57,450.3 L386.2,450.73 L386.79,451.13 L387.37,451.54 L388.01,451.99 L388.74,452.52 L389.6,453.15 L390.64,453.92 L391.9,454.86 L393.41,455.99 L395.12,457.3 L397,458.75 L399.02,460.3 L401.12,461.93 L403.29,463.59 L405.48,465.26 L407.65,466.9 L409.77,468.48 L411.8,469.96 L413.77,471.41 L415.73,472.91 L417.68,474.43 L419.63,475.94 L421.58,477.41 L423.53,478.82 L425.47,480.14 L427.41,481.33 L429.36,482.38 L431.3,483.26 L433.23,483.93 L435.13,484.42 L437.01,484.75 L438.89,484.95 L440.78,485.07 L442.69,485.14 L444.62,485.19 L446.59,485.25 L448.61,485.36 L450.7,485.56 L452.96,485.83 L455.44,486.12 L458.06,486.43 L460.74,486.74 L463.41,487.05 L465.98,487.36 L468.38,487.64 L470.51,487.89 L472.32,488.1 L473.7,488.26" fill="none" stroke="#000" stroke-width="2.6" stroke-linejoin="round" stroke-linecap="round"/>
<path d="M345.5,511.84 L345.5,511.84 L346.12,511.13 L346.9,510.3 L347.83,509.34 L348.87,508.25 L350,507.03 L351.19,505.67 L352.41,504.18 L353.64,502.54 L354.84,500.77 L356,498.84 L357.15,496.66 L358.33,494.15 L359.54,491.41 L360.76,488.5 L362,485.5 L363.24,482.49 L364.46,479.54 L365.67,476.73 L366.85,474.14 L368,471.84 L369.12,469.7 L370.22,467.56 L371.3,465.47 L372.37,463.49 L373.43,461.65 L374.47,460 L375.49,458.58 L376.51,457.46 L377.51,456.66 L378.5,456.24 L379.5,456.27 L380.5,456.73 L381.51,457.56 L382.51,458.67 L383.49,460.02 L384.44,461.51 L385.35,463.07 L386.2,464.65 L386.99,466.16 L387.7,467.54 L388.3,468.85 L388.76,470.19 L389.14,471.57 L389.45,472.98 L389.73,474.42 L390.02,475.88 L390.35,477.37 L390.75,478.88 L391.26,480.4 L391.9,481.94 L392.67,483.54 L393.54,485.24 L394.48,486.99 L395.48,488.78 L396.54,490.57 L397.64,492.33 L398.77,494.03 L399.91,495.63 L401.06,497.11 L402.2,498.44 L403.29,499.62 L404.32,500.7 L405.33,501.68 L406.34,502.58 L407.4,503.4 L408.53,504.15 L409.78,504.85 L411.16,505.51 L412.73,506.14 L414.5,506.74 L416.46,507.3 L418.56,507.79 L420.8,508.23 L423.17,508.62 L425.68,508.97 L428.3,509.28 L431.05,509.56 L433.92,509.83 L436.9,510.09 L440,510.34 L443.43,510.58 L447.33,510.8 L451.55,510.99 L455.94,511.16 L460.34,511.32 L464.62,511.45 L468.63,511.57 L472.21,511.67 L475.21,511.76 L477.5,511.84 L477.5,511.84Z" fill="url(#gc)"/>
<line x1="389.8" x2="389.8" y1="511.84" y2="474.76" stroke="#000" stroke-width="2.2"/>
<path d="M345.5,511.84 L346.12,511.13 L346.9,510.3 L347.83,509.34 L348.87,508.25 L350,507.03 L351.19,505.67 L352.41,504.18 L353.64,502.54 L354.84,500.77 L356,498.84 L357.15,496.66 L358.33,494.15 L359.54,491.41 L360.76,488.5 L362,485.5 L363.24,482.49 L364.46,479.54 L365.67,476.73 L366.85,474.14 L368,471.84 L369.12,469.7 L370.22,467.56 L371.3,465.47 L372.37,463.49 L373.43,461.65 L374.47,460 L375.49,458.58 L376.51,457.46 L377.51,456.66 L378.5,456.24 L379.5,456.27 L380.5,456.73 L381.51,457.56 L382.51,458.67 L383.49,460.02 L384.44,461.51 L385.35,463.07 L386.2,464.65 L386.99,466.16 L387.7,467.54 L388.3,468.85 L388.76,470.19 L389.14,471.57 L389.45,472.98 L389.73,474.42 L390.02,475.88 L390.35,477.37 L390.75,478.88 L391.26,480.4 L391.9,481.94 L392.67,483.54 L393.54,485.24 L394.48,486.99 L395.48,488.78 L396.54,490.57 L397.64,492.33 L398.77,494.03 L399.91,495.63 L401.06,497.11 L402.2,498.44 L403.29,499.62 L404.32,500.7 L405.33,501.68 L406.34,502.58 L407.4,503.4 L408.53,504.15 L409.78,504.85 L411.16,505.51 L412.73,506.14 L414.5,506.74 L416.46,507.3 L418.56,507.79 L420.8,508.23 L423.17,508.62 L425.68,508.97 L428.3,509.28 L431.05,509.56 L433.92,509.83 L436.9,510.09 L440,510.34 L443.43,510.58 L447.33,510.8 L451.55,510.99 L455.94,511.16 L460.34,511.32 L464.62,511.45 L468.63,511.57 L472.21,511.67 L475.21,511.76 L477.5,511.84" fill="none" stroke="#000" stroke-width="2.6" stroke-linejoin="round" stroke-linecap="round"/>
<path d="M342.4,535.42 L342.4,535.42 L342.85,534.62 L343.44,533.7 L344.14,532.65 L344.92,531.46 L345.76,530.11 L346.64,528.58 L347.52,526.86 L348.4,524.94 L349.23,522.8 L350,520.42 L350.73,517.66 L351.45,514.44 L352.18,510.89 L352.89,507.09 L353.6,503.17 L354.3,499.23 L354.99,495.37 L355.67,491.72 L356.34,488.36 L357,485.42 L357.64,482.72 L358.26,480.05 L358.87,477.46 L359.46,475.02 L360.05,472.77 L360.63,470.78 L361.22,469.09 L361.8,467.76 L362.4,466.85 L363,466.42 L363.62,466.54 L364.24,467.21 L364.88,468.34 L365.52,469.85 L366.16,471.64 L366.79,473.63 L367.41,475.73 L368.03,477.85 L368.62,479.91 L369.2,481.82 L369.76,483.73 L370.3,485.82 L370.84,488.03 L371.36,490.32 L371.87,492.62 L372.38,494.89 L372.87,497.06 L373.36,499.1 L373.83,500.93 L374.3,502.52 L374.72,503.87 L375.08,505.06 L375.4,506.09 L375.7,506.99 L376.01,507.78 L376.35,508.48 L376.75,509.1 L377.22,509.67 L377.8,510.2 L378.5,510.72 L379.35,511.16 L380.32,511.48 L381.4,511.7 L382.56,511.86 L383.77,511.96 L385.01,512.06 L386.26,512.16 L387.49,512.31 L388.68,512.52 L389.8,512.82 L390.85,513.2 L391.86,513.61 L392.83,514.06 L393.8,514.54 L394.76,515.05 L395.73,515.58 L396.74,516.14 L397.79,516.72 L398.91,517.31 L400.1,517.92 L401.34,518.54 L402.58,519.18 L403.86,519.83 L405.17,520.5 L406.53,521.19 L407.95,521.92 L409.44,522.67 L411.02,523.45 L412.71,524.26 L414.5,525.12 L416.54,526.07 L418.87,527.15 L421.42,528.31 L424.07,529.51 L426.75,530.72 L429.36,531.89 L431.8,532.99 L433.98,533.97 L435.81,534.79 L437.2,535.42 L437.2,535.42Z" fill="url(#gc)"/>
<line x1="378.1" x2="378.1" y1="535.42" y2="510.43" stroke="#000" stroke-width="2.2"/>
<path d="M342.4,535.42 L342.85,534.62 L343.44,533.7 L344.14,532.65 L344.92,531.46 L345.76,530.11 L346.64,528.58 L347.52,526.86 L348.4,524.94 L349.23,522.8 L350,520.42 L350.73,517.66 L351.45,514.44 L352.18,510.89 L352.89,507.09 L353.6,503.17 L354.3,499.23 L354.99,495.37 L355.67,491.72 L356.34,488.36 L357,485.42 L357.64,482.72 L358.26,480.05 L358.87,477.46 L359.46,475.02 L360.05,472.77 L360.63,470.78 L361.22,469.09 L361.8,467.76 L362.4,466.85 L363,466.42 L363.62,466.54 L364.24,467.21 L364.88,468.34 L365.52,469.85 L366.16,471.64 L366.79,473.63 L367.41,475.73 L368.03,477.85 L368.62,479.91 L369.2,481.82 L369.76,483.73 L370.3,485.82 L370.84,488.03 L371.36,490.32 L371.87,492.62 L372.38,494.89 L372.87,497.06 L373.36,499.1 L373.83,500.93 L374.3,502.52 L374.72,503.87 L375.08,505.06 L375.4,506.09 L375.7,506.99 L376.01,507.78 L376.35,508.48 L376.75,509.1 L377.22,509.67 L377.8,510.2 L378.5,510.72 L379.35,511.16 L380.32,511.48 L381.4,511.7 L382.56,511.86 L383.77,511.96 L385.01,512.06 L386.26,512.16 L387.49,512.31 L388.68,512.52 L389.8,512.82 L390.85,513.2 L391.86,513.61 L392.83,514.06 L393.8,514.54 L394.76,515.05 L395.73,515.58 L396.74,516.14 L397.79,516.72 L398.91,517.31 L400.1,517.92 L401.34,518.54 L402.58,519.18 L403.86,519.83 L405.17,520.5 L406.53,521.19 L407.95,521.92 L409.44,522.67 L411.02,523.45 L412.71,524.26 L414.5,525.12 L416.54,526.07 L418.87,527.15 L421.42,528.31 L424.07,529.51 L426.75,530.72 L429.36,531.89 L431.8,532.99 L433.98,533.97 L435.81,534.79 L437.2,535.42" fill="none" stroke="#000" stroke-width="2.6" stroke-linejoin="round" stroke-linecap="round"/>
<path d="M338.2,559 L338.2,559 L338.54,558.34 L338.98,557.55 L339.49,556.64 L340.06,555.62 L340.69,554.47 L341.34,553.2 L342.02,551.82 L342.7,550.33 L343.36,548.72 L344,547 L344.63,545.15 L345.29,543.16 L345.97,541.03 L346.65,538.79 L347.34,536.44 L348.02,533.99 L348.7,531.46 L349.36,528.86 L349.99,526.21 L350.6,523.5 L351.19,520.58 L351.76,517.34 L352.33,513.89 L352.88,510.33 L353.42,506.76 L353.94,503.29 L354.44,500.03 L354.92,497.07 L355.37,494.53 L355.8,492.5 L356.19,490.95 L356.52,489.76 L356.82,488.89 L357.1,488.3 L357.36,487.96 L357.62,487.84 L357.89,487.9 L358.19,488.1 L358.52,488.41 L358.9,488.8 L359.32,489.33 L359.77,490.06 L360.25,490.98 L360.74,492.06 L361.26,493.28 L361.78,494.63 L362.33,496.07 L362.88,497.6 L363.44,499.18 L364,500.8 L364.57,502.56 L365.16,504.53 L365.76,506.66 L366.37,508.9 L366.99,511.19 L367.62,513.47 L368.26,515.68 L368.9,517.78 L369.55,519.71 L370.2,521.4 L370.84,522.91 L371.46,524.32 L372.07,525.62 L372.69,526.83 L373.32,527.94 L373.97,528.95 L374.65,529.86 L375.38,530.67 L376.16,531.38 L377,532 L377.93,532.47 L378.96,532.75 L380.07,532.89 L381.22,532.92 L382.39,532.88 L383.56,532.79 L384.7,532.71 L385.79,532.66 L386.79,532.67 L387.7,532.8 L388.49,532.98 L389.19,533.16 L389.82,533.34 L390.4,533.54 L390.95,533.77 L391.48,534.04 L392.03,534.37 L392.6,534.76 L393.22,535.23 L393.9,535.8 L394.64,536.48 L395.39,537.27 L396.17,538.16 L396.97,539.11 L397.79,540.12 L398.64,541.15 L399.5,542.19 L400.38,543.2 L401.28,544.18 L402.2,545.1 L403.06,545.98 L403.82,546.87 L404.53,547.75 L405.24,548.62 L406,549.48 L406.87,550.32 L407.91,551.14 L409.15,551.93 L410.67,552.68 L412.5,553.4 L414.83,554.09 L417.7,554.78 L420.97,555.45 L424.48,556.1 L428.09,556.72 L431.65,557.29 L435.01,557.82 L438.02,558.28 L440.53,558.68 L442.4,559 L442.4,559Z" fill="url(#gc)"/>
<line x1="373.3" x2="373.3" y1="559.00" y2="527.90" stroke="#000" stroke-width="2.2"/>
<path d="M338.2,559 L338.54,558.34 L338.98,557.55 L339.49,556.64 L340.06,555.62 L340.69,554.47 L341.34,553.2 L342.02,551.82 L342.7,550.33 L343.36,548.72 L344,547 L344.63,545.15 L345.29,543.16 L345.97,541.03 L346.65,538.79 L347.34,536.44 L348.02,533.99 L348.7,531.46 L349.36,528.86 L349.99,526.21 L350.6,523.5 L351.19,520.58 L351.76,517.34 L352.33,513.89 L352.88,510.33 L353.42,506.76 L353.94,503.29 L354.44,500.03 L354.92,497.07 L355.37,494.53 L355.8,492.5 L356.19,490.95 L356.52,489.76 L356.82,488.89 L357.1,488.3 L357.36,487.96 L357.62,487.84 L357.89,487.9 L358.19,488.1 L358.52,488.41 L358.9,488.8 L359.32,489.33 L359.77,490.06 L360.25,490.98 L360.74,492.06 L361.26,493.28 L361.78,494.63 L362.33,496.07 L362.88,497.6 L363.44,499.18 L364,500.8 L364.57,502.56 L365.16,504.53 L365.76,506.66 L366.37,508.9 L366.99,511.19 L367.62,513.47 L368.26,515.68 L368.9,517.78 L369.55,519.71 L370.2,521.4 L370.84,522.91 L371.46,524.32 L372.07,525.62 L372.69,526.83 L373.32,527.94 L373.97,528.95 L374.65,529.86 L375.38,530.67 L376.16,531.38 L377,532 L377.93,532.47 L378.96,532.75 L380.07,532.89 L381.22,532.92 L382.39,532.88 L383.56,532.79 L384.7,532.71 L385.79,532.66 L386.79,532.67 L387.7,532.8 L388.49,532.98 L389.19,533.16 L389.82,533.34 L390.4,533.54 L390.95,533.77 L391.48,534.04 L392.03,534.37 L392.6,534.76 L393.22,535.23 L393.9,535.8 L394.64,536.48 L395.39,537.27 L396.17,538.16 L396.97,539.11 L397.79,540.12 L398.64,541.15 L399.5,542.19 L400.38,543.2 L401.28,544.18 L402.2,545.1 L403.06,545.98 L403.82,546.87 L404.53,547.75 L405.24,548.62 L406,549.48 L406.87,550.32 L407.91,551.14 L409.15,551.93 L410.67,552.68 L412.5,553.4 L414.83,554.09 L417.7,554.78 L420.97,555.45 L424.48,556.1 L428.09,556.72 L431.65,557.29 L435.01,557.82 L438.02,558.28 L440.53,558.68 L442.4,559" fill="none" stroke="#000" stroke-width="2.6" stroke-linejoin="round" stroke-linecap="round"/>
</g>
<rect x="325.0" y="254.2" width="215.89999999999998" height="317.59999999999997" fill="none" stroke="#000" stroke-width="2.2"/>
<line x1="319.7" x2="325.0" y1="559.00" y2="559.00" stroke="#000" stroke-width="2.5"/>
<text x="317" y="564.00" text-anchor="end" font-family='"Liberation Sans", sans-serif' font-weight="bold" font-size="12.6">19</text>
<line x1="319.7" x2="325.0" y1="535.42" y2="535.42" stroke="#000" stroke-width="2.5"/>
<text x="317" y="540.42" text-anchor="end" font-family='"Liberation Sans", sans-serif' font-weight="bold" font-size="12.6">20</text>
<line x1="319.7" x2="325.0" y1="511.84" y2="511.84" stroke="#000" stroke-width="2.5"/>
<text x="317" y="516.84" text-anchor="end" font-family='"Liberation Sans", sans-serif' font-weight="bold" font-size="12.6">21</text>
<line x1="319.7" x2="325.0" y1="488.26" y2="488.26" stroke="#000" stroke-width="2.5"/>
<text x="317" y="493.26" text-anchor="end" font-family='"Liberation Sans", sans-serif' font-weight="bold" font-size="12.6">22</text>
<line x1="319.7" x2="325.0" y1="464.68" y2="464.68" stroke="#000" stroke-width="2.5"/>
<text x="317" y="469.68" text-anchor="end" font-family='"Liberation Sans", sans-serif' font-weight="bold" font-size="12.6">23</text>
<line x1="319.7" x2="325.0" y1="441.10" y2="441.10" stroke="#000" stroke-width="2.5"/>
<text x="317" y="446.10" text-anchor="end" font-family='"Liberation Sans", sans-serif' font-weight="bold" font-size="12.6">24</text>
<line x1="319.7" x2="325.0" y1="417.52" y2="417.52" stroke="#000" stroke-width="2.5"/>
<text x="317" y="422.52" text-anchor="end" font-family='"Liberation Sans", sans-serif' font-weight="bold" font-size="12.6">25</text>
<line x1="319.7" x2="325.0" y1="393.94" y2="393.94" stroke="#000" stroke-width="2.5"/>
<text x="317" y="398.94" text-anchor="end" font-family='"Liberation Sans", sans-serif' font-weight="bold" font-size="12.6">26</text>
<line x1="319.7" x2="325.0" y1="370.36" y2="370.36" stroke="#000" stroke-width="2.5"/>
<text x="317" y="375.36" text-anchor="end" font-family='"Liberation Sans", sans-serif' font-weight="bold" font-size="12.6">27</text>
<line x1="319.7" x2="325.0" y1="346.78" y2="346.78" stroke="#000" stroke-width="2.5"/>
<text x="317" y="351.78" text-anchor="end" font-family='"Liberation Sans", sans-serif' font-weight="bold" font-size="12.6">28</text>
<line x1="319.7" x2="325.0" y1="323.20" y2="323.20" stroke="#000" stroke-width="2.5"/>
<text x="317" y="328.20" text-anchor="end" font-family='"Liberation Sans", sans-serif' font-weight="bold" font-size="12.6">29</text>
<line x1="319.7" x2="325.0" y1="299.62" y2="299.62" stroke="#000" stroke-width="2.5"/>
<text x="317" y="304.62" text-anchor="end" font-family='"Liberation Sans", sans-serif' font-weight="bold" font-size="12.6">30</text>
<line x1="330.30" x2="330.30" y1="571.8" y2="576.2" stroke="#000" stroke-width="2.5"/>
<text x="330.30" y="588.9" text-anchor="middle" font-family='"Liberation Sans", sans-serif' font-weight="bold" font-size="12.6">0.0</text>
<line x1="371.25" x2="371.25" y1="571.8" y2="576.2" stroke="#000" stroke-width="2.5"/>
<text x="371.25" y="588.9" text-anchor="middle" font-family='"Liberation Sans", sans-serif' font-weight="bold" font-size="12.6">2.5</text>
<line x1="412.20" x2="412.20" y1="571.8" y2="576.2" stroke="#000" stroke-width="2.5"/>
<text x="412.20" y="588.9" text-anchor="middle" font-family='"Liberation Sans", sans-serif' font-weight="bold" font-size="12.6">5.0</text>
<line x1="453.15" x2="453.15" y1="571.8" y2="576.2" stroke="#000" stroke-width="2.5"/>
<text x="453.15" y="588.9" text-anchor="middle" font-family='"Liberation Sans", sans-serif' font-weight="bold" font-size="12.6">7.5</text>
<line x1="494.10" x2="494.10" y1="571.8" y2="576.2" stroke="#000" stroke-width="2.5"/>
<text x="494.10" y="588.9" text-anchor="middle" font-family='"Liberation Sans", sans-serif' font-weight="bold" font-size="12.6">10.0</text>
<line x1="535.05" x2="535.05" y1="571.8" y2="576.2" stroke="#000" stroke-width="2.5"/>
<text x="535.05" y="588.9" text-anchor="middle" font-family='"Liberation Sans", sans-serif' font-weight="bold" font-size="12.6">12.5</text>
<text x="433" y="603.2" text-anchor="middle" font-family='"Liberation Sans", sans-serif' font-weight="bold" font-size="12.6">MAE</text>
<text transform="translate(297.6,413) rotate(-90)" text-anchor="middle" font-family='"Liberation Sans", sans-serif' font-weight="bold" font-size="12.6">Week</text>
<text x="433" y="243.2" text-anchor="middle" font-family='"Liberation Sans", sans-serif' font-weight="bold" font-size="12.9">Model Performance Ridgeline by Week</text>
<text x="515" y="276" font-family='"Liberation Sans", sans-serif' font-weight="bold" font-size="15" letter-spacing="0.4">(c)</text>
<path d="M515.2,459.5 L614,459.5 L614,564.2 L447.8,564.2 L447.8,529 Z" fill="none" stroke="#000" stroke-width="4.2" stroke-linejoin="miter"/>
<path d="M456.4,558.5 L457.9,548 L460.2,552.8 L464,553.7 L467.8,552.8 L471.6,547.1 L475.4,549 L478.2,549.9 L481.1,544.2 L483.9,534.7 L485.8,532.8 L487.7,533.8 L490.6,527.1 L493.4,534.7 L496.3,539.5 L500.1,532.8 L502.9,479.7 L505.8,531 L508.6,532.8 L510.5,540.4 L512.4,517.7 L515.2,525.2 L518.1,529 L521,531 L524.7,557.5 L528.5,542.3 L531.8,543.3 L534.6,536.6 L538.4,556.6 L542.2,530 L546,534.7 L549.8,486.3 L551.7,549.9 L555.5,509.1 L558.4,519.6 L562.2,497.7 L564.1,529 L567.9,521.5 L569.8,511 L573.6,512 L575.5,503.4 L579.3,523.4 L583.1,509.1 L586,507.2 L588.8,496.8 L591.6,504.4 L593.5,462.6 L596.4,515.8 L599.2,511 L603,497.7 L606.8,524.3 L608.5,525" fill="none" stroke="#0000ff" stroke-width="3.0" stroke-linejoin="round"/>
<line x1="456.4" y1="549.9" x2="608.6" y2="507.5" stroke="#ff0000" stroke-width="2.5"/>
<text x="567.2" y="475.7" text-anchor="middle" font-family='"Liberation Sans", sans-serif' font-weight="bold" font-size="12">by Day</text>
<text x="578.8" y="546.2" text-anchor="middle" font-family='"Liberation Sans", sans-serif' font-weight="bold" font-size="11.8">MAE</text>
<text x="579" y="560.4" text-anchor="middle" font-family='"Liberation Sans", sans-serif' font-weight="bold" font-size="11.8">Time Series</text>
</svg></body></html>
